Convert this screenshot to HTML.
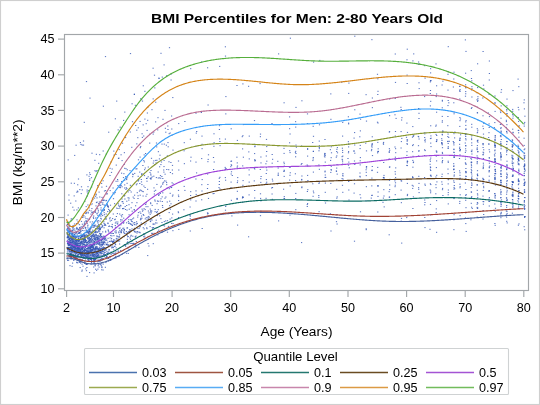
<!DOCTYPE html>
<html><head><meta charset="utf-8"><style>
html,body{margin:0;padding:0;background:#fff;}
svg{display:block;will-change:transform;}
text{font-family:"Liberation Sans",sans-serif;fill:#000;}
.tk{font-size:12.6px;}
.lt{font-size:12.6px;}
</style></head><body>
<svg width="540" height="405" viewBox="0 0 540 405">
<rect x="0.5" y="0.5" width="539" height="404" fill="#fff" stroke="#cfcfcf" stroke-width="1.15"/>
<text x="297" y="22.8" text-anchor="middle" font-weight="bold" font-size="13.5px" textLength="292" lengthAdjust="spacingAndGlyphs">BMI Percentiles for Men: 2-80 Years Old</text>
<path d="M67.5 243.9h1.2M67.9 245.8h1.2M67.7 242.2h1.2M66.9 249.0h1.2M67.0 243.3h1.2M67.9 241.8h1.2M66.6 258.1h1.2M67.8 244.7h1.2M67.8 247.5h1.2M67.3 237.1h1.2M67.0 230.9h1.2M67.0 237.5h1.2M67.0 235.8h1.2M67.3 237.8h1.2M67.3 248.0h1.2M67.4 244.9h1.2M68.1 231.1h1.2M67.8 223.2h1.2M67.5 250.8h1.2M68.0 260.2h1.2M66.9 228.7h1.2M66.8 237.6h1.2M67.5 231.3h1.2M66.7 237.8h1.2M66.7 224.7h1.2M67.4 248.4h1.2M67.3 243.0h1.2M67.9 236.6h1.2M67.5 249.5h1.2M67.4 234.5h1.2M67.3 247.8h1.2M67.0 234.2h1.2M66.6 230.6h1.2M66.9 243.3h1.2M67.6 159.9h1.2M66.9 232.6h1.2M67.1 260.5h1.2M66.6 233.8h1.2M67.8 223.6h1.2M66.8 236.8h1.2M67.0 224.6h1.2M67.9 255.6h1.2M67.3 227.1h1.2M67.8 228.8h1.2M67.5 237.5h1.2M67.7 243.7h1.2M66.7 234.1h1.2M67.4 248.4h1.2M67.3 236.1h1.2M67.9 235.8h1.2M67.1 240.1h1.2M67.5 248.0h1.2M66.7 259.0h1.2M67.2 230.3h1.2M67.1 249.4h1.2M66.8 254.9h1.2M67.8 248.5h1.2M67.2 240.8h1.2M68.0 239.4h1.2M67.5 228.3h1.2M67.5 229.8h1.2M67.5 215.1h1.2M67.6 243.1h1.2M66.8 252.0h1.2M67.2 221.9h1.2M67.0 248.7h1.2M67.2 237.4h1.2M66.7 247.4h1.2M68.0 231.9h1.2M66.9 249.8h1.2M69.0 244.8h1.2M68.5 249.9h1.2M69.3 231.7h1.2M69.0 239.2h1.2M68.3 238.2h1.2M69.3 247.6h1.2M69.5 251.7h1.2M69.4 231.9h1.2M68.9 234.6h1.2M68.3 234.9h1.2M68.3 195.0h1.2M69.4 251.7h1.2M68.9 239.4h1.2M68.3 247.8h1.2M69.4 242.7h1.2M69.0 243.8h1.2M68.9 240.8h1.2M68.6 226.8h1.2M68.7 232.9h1.2M68.4 244.6h1.2M68.1 232.0h1.2M69.3 231.7h1.2M68.8 234.1h1.2M68.9 241.2h1.2M68.5 228.4h1.2M69.2 243.1h1.2M68.1 253.7h1.2M68.6 248.3h1.2M68.1 237.2h1.2M68.2 245.4h1.2M69.5 245.0h1.2M69.0 245.3h1.2M68.7 250.9h1.2M68.8 254.4h1.2M69.3 256.2h1.2M68.6 237.1h1.2M68.9 247.2h1.2M69.1 243.9h1.2M68.6 225.6h1.2M68.8 238.8h1.2M69.2 233.4h1.2M69.4 235.1h1.2M68.3 223.7h1.2M69.4 255.5h1.2M68.1 245.1h1.2M69.2 225.3h1.2M69.3 243.9h1.2M68.3 224.1h1.2M68.7 251.1h1.2M69.3 255.7h1.2M68.1 228.0h1.2M69.0 245.0h1.2M69.2 242.7h1.2M68.8 225.9h1.2M69.1 250.1h1.2M68.4 200.1h1.2M68.4 248.8h1.2M68.6 249.4h1.2M68.3 241.8h1.2M68.6 243.4h1.2M69.5 230.3h1.2M68.9 256.0h1.2M68.6 256.6h1.2M68.5 252.2h1.2M69.5 239.9h1.2M68.7 233.8h1.2M69.5 243.7h1.2M68.8 239.2h1.2M68.8 238.3h1.2M69.4 265.7h1.2M70.6 219.0h1.2M70.4 226.5h1.2M70.2 243.8h1.2M70.8 250.8h1.2M70.1 258.4h1.2M70.9 248.2h1.2M69.6 244.7h1.2M70.2 244.9h1.2M70.3 242.2h1.2M70.9 244.6h1.2M69.9 257.8h1.2M70.7 249.5h1.2M70.5 220.7h1.2M70.6 237.0h1.2M70.5 244.3h1.2M71.0 238.1h1.2M70.0 247.5h1.2M70.1 246.7h1.2M69.8 242.9h1.2M69.6 228.9h1.2M69.8 247.6h1.2M70.9 255.2h1.2M70.8 257.5h1.2M69.7 230.8h1.2M70.4 248.2h1.2M70.2 253.9h1.2M70.4 240.9h1.2M70.5 233.5h1.2M70.0 240.5h1.2M70.9 253.1h1.2M70.2 245.9h1.2M70.5 249.4h1.2M70.5 259.2h1.2M69.8 253.2h1.2M69.6 230.5h1.2M70.1 203.2h1.2M70.7 249.7h1.2M70.7 251.8h1.2M70.6 243.1h1.2M69.7 240.8h1.2M70.9 232.0h1.2M70.7 183.2h1.2M70.8 247.7h1.2M70.3 241.2h1.2M70.9 253.9h1.2M69.6 242.7h1.2M69.6 255.4h1.2M69.6 253.9h1.2M69.9 253.7h1.2M69.9 248.2h1.2M69.8 248.0h1.2M70.4 237.7h1.2M69.6 255.2h1.2M70.4 254.2h1.2M69.8 238.7h1.2M70.5 238.8h1.2M69.6 236.9h1.2M70.0 236.9h1.2M70.9 239.3h1.2M70.3 242.1h1.2M70.7 236.9h1.2M70.5 255.2h1.2M70.4 251.0h1.2M69.8 236.2h1.2M70.4 251.6h1.2M69.6 242.3h1.2M70.7 249.6h1.2M70.9 245.7h1.2M70.8 234.1h1.2M69.6 238.4h1.2M71.5 245.6h1.2M71.5 249.6h1.2M71.2 235.3h1.2M71.9 240.1h1.2M72.2 246.1h1.2M71.5 233.0h1.2M72.3 239.3h1.2M72.2 207.2h1.2M71.2 231.1h1.2M72.1 243.2h1.2M72.3 238.9h1.2M71.3 234.2h1.2M71.8 255.3h1.2M71.9 245.2h1.2M71.9 241.6h1.2M71.1 256.2h1.2M72.0 236.3h1.2M71.9 238.5h1.2M72.2 228.0h1.2M72.2 247.7h1.2M71.5 245.1h1.2M72.1 230.4h1.2M72.3 246.8h1.2M72.3 235.2h1.2M71.2 246.1h1.2M71.0 247.9h1.2M71.9 249.8h1.2M71.3 251.3h1.2M71.8 246.1h1.2M72.4 253.2h1.2M71.6 234.9h1.2M71.4 218.9h1.2M71.7 256.5h1.2M72.0 263.1h1.2M71.1 255.7h1.2M71.6 239.3h1.2M71.2 248.8h1.2M72.0 252.0h1.2M72.2 250.6h1.2M71.5 239.0h1.2M71.5 266.3h1.2M71.8 242.6h1.2M71.3 250.6h1.2M71.4 251.4h1.2M71.5 239.9h1.2M71.7 240.8h1.2M71.1 248.4h1.2M72.1 248.5h1.2M71.8 245.4h1.2M71.4 230.2h1.2M71.1 243.0h1.2M72.1 234.9h1.2M71.2 240.1h1.2M71.2 242.4h1.2M71.2 244.4h1.2M71.1 239.0h1.2M72.3 245.0h1.2M71.4 237.8h1.2M71.4 252.3h1.2M72.2 248.8h1.2M71.9 233.1h1.2M71.3 246.7h1.2M71.6 234.5h1.2M72.3 227.8h1.2M71.5 242.1h1.2M72.0 254.9h1.2M71.1 236.8h1.2M72.1 240.0h1.2M72.1 249.5h1.2M72.2 233.8h1.2M73.4 245.7h1.2M73.0 256.9h1.2M72.6 256.3h1.2M73.2 251.5h1.2M73.6 242.3h1.2M72.7 236.0h1.2M72.9 255.3h1.2M73.2 260.5h1.2M73.6 247.4h1.2M73.8 246.7h1.2M72.6 235.8h1.2M72.7 229.8h1.2M73.6 195.9h1.2M73.4 259.4h1.2M73.5 242.9h1.2M73.9 224.0h1.2M73.8 256.2h1.2M73.7 245.0h1.2M73.6 247.7h1.2M73.0 247.2h1.2M73.4 250.5h1.2M72.7 250.2h1.2M73.6 251.4h1.2M73.6 255.3h1.2M73.5 243.8h1.2M73.1 246.4h1.2M73.0 239.2h1.2M73.1 241.2h1.2M72.5 225.6h1.2M73.7 249.0h1.2M73.3 233.1h1.2M73.0 247.7h1.2M73.3 240.7h1.2M73.5 236.7h1.2M73.0 247.5h1.2M73.7 246.6h1.2M73.8 241.8h1.2M73.0 254.9h1.2M72.7 244.0h1.2M73.6 255.6h1.2M73.9 251.9h1.2M72.7 241.5h1.2M73.5 210.1h1.2M73.7 244.8h1.2M73.8 246.7h1.2M72.6 247.7h1.2M72.6 237.4h1.2M73.9 239.7h1.2M72.6 243.2h1.2M72.7 241.6h1.2M73.3 242.9h1.2M73.1 240.2h1.2M73.6 228.9h1.2M72.7 226.9h1.2M73.8 183.3h1.2M72.8 255.1h1.2M73.6 246.4h1.2M72.6 236.9h1.2M73.2 249.9h1.2M72.5 241.9h1.2M72.9 256.9h1.2M72.9 252.2h1.2M73.5 247.6h1.2M73.1 256.4h1.2M72.5 246.6h1.2M73.9 251.7h1.2M73.8 234.6h1.2M73.8 249.5h1.2M72.8 247.7h1.2M73.0 236.6h1.2M74.3 243.9h1.2M74.1 257.6h1.2M74.0 252.1h1.2M74.7 242.7h1.2M74.1 252.7h1.2M74.2 251.3h1.2M75.2 242.5h1.2M74.6 245.8h1.2M74.2 250.8h1.2M74.9 244.2h1.2M74.3 241.9h1.2M74.7 258.6h1.2M74.3 250.8h1.2M74.7 250.1h1.2M74.8 233.7h1.2M74.7 257.8h1.2M74.5 249.1h1.2M75.1 253.1h1.2M75.2 240.6h1.2M74.2 236.8h1.2M74.1 257.3h1.2M74.1 234.6h1.2M75.4 240.6h1.2M75.3 252.6h1.2M74.3 230.2h1.2M75.3 250.7h1.2M74.2 237.5h1.2M74.7 256.8h1.2M74.7 246.7h1.2M75.3 245.8h1.2M74.0 232.4h1.2M74.4 236.1h1.2M74.8 244.5h1.2M74.0 257.5h1.2M74.3 247.2h1.2M74.6 248.5h1.2M75.2 201.0h1.2M75.0 248.0h1.2M75.1 249.0h1.2M75.0 238.4h1.2M75.0 256.0h1.2M75.2 236.9h1.2M74.9 241.1h1.2M75.0 247.3h1.2M74.4 239.9h1.2M74.2 247.9h1.2M75.0 254.6h1.2M74.2 247.4h1.2M75.3 258.0h1.2M74.8 256.3h1.2M74.4 247.0h1.2M75.3 236.7h1.2M74.2 252.6h1.2M74.7 245.7h1.2M74.1 155.4h1.2M75.3 231.9h1.2M74.8 241.0h1.2M75.1 243.4h1.2M74.3 243.4h1.2M75.1 243.1h1.2M75.0 246.6h1.2M74.9 249.0h1.2M75.3 251.9h1.2M74.6 257.1h1.2M74.5 248.7h1.2M74.9 238.3h1.2M75.2 244.4h1.2M74.4 253.8h1.2M74.9 236.9h1.2M74.2 258.3h1.2M76.2 227.4h1.2M76.5 242.1h1.2M75.5 244.4h1.2M76.5 248.2h1.2M75.4 236.7h1.2M76.8 260.2h1.2M76.1 245.6h1.2M76.0 250.8h1.2M76.4 248.5h1.2M76.2 245.2h1.2M76.5 258.9h1.2M75.5 145.2h1.2M76.2 256.2h1.2M76.2 239.6h1.2M76.8 245.4h1.2M75.5 240.9h1.2M76.1 239.6h1.2M76.3 209.9h1.2M76.2 192.2h1.2M75.5 253.1h1.2M76.3 249.1h1.2M75.7 249.1h1.2M75.7 232.5h1.2M76.7 245.6h1.2M75.7 257.5h1.2M76.1 240.2h1.2M76.5 246.3h1.2M76.4 237.2h1.2M76.2 258.7h1.2M76.6 234.8h1.2M76.1 232.6h1.2M76.3 262.7h1.2M76.6 255.6h1.2M76.4 245.4h1.2M76.3 256.6h1.2M76.0 233.1h1.2M76.2 253.8h1.2M76.0 241.5h1.2M76.5 242.0h1.2M75.9 250.2h1.2M76.1 252.9h1.2M76.5 229.6h1.2M76.1 259.1h1.2M75.9 251.7h1.2M76.6 250.2h1.2M76.0 243.8h1.2M76.6 249.3h1.2M76.5 255.9h1.2M76.0 244.2h1.2M76.4 240.1h1.2M75.4 240.4h1.2M76.0 246.4h1.2M76.7 250.7h1.2M76.2 262.2h1.2M76.2 242.7h1.2M76.4 247.6h1.2M76.4 219.9h1.2M76.2 253.2h1.2M76.0 237.2h1.2M75.7 240.0h1.2M75.8 232.1h1.2M75.8 228.6h1.2M76.0 252.2h1.2M76.9 228.4h1.2M75.9 248.3h1.2M76.0 241.2h1.2M75.9 223.5h1.2M76.2 243.6h1.2M76.8 244.0h1.2M76.7 257.6h1.2M77.4 243.8h1.2M77.2 252.4h1.2M78.2 249.2h1.2M77.6 249.3h1.2M77.9 179.0h1.2M77.0 240.1h1.2M78.1 254.6h1.2M77.3 250.9h1.2M77.6 233.5h1.2M77.1 255.8h1.2M77.5 221.7h1.2M78.1 248.3h1.2M78.1 249.1h1.2M77.6 246.1h1.2M78.0 247.9h1.2M77.5 247.2h1.2M77.4 248.2h1.2M77.7 240.9h1.2M77.2 251.5h1.2M77.3 254.5h1.2M77.9 248.1h1.2M78.0 257.2h1.2M76.9 247.6h1.2M77.9 246.7h1.2M78.1 238.3h1.2M77.5 256.2h1.2M76.9 248.7h1.2M77.9 238.5h1.2M77.2 250.1h1.2M77.8 236.5h1.2M77.4 240.4h1.2M77.8 259.6h1.2M77.2 249.1h1.2M77.6 238.9h1.2M77.6 245.8h1.2M77.8 241.7h1.2M77.2 191.8h1.2M78.3 245.3h1.2M77.3 236.2h1.2M77.3 248.0h1.2M77.2 262.8h1.2M77.0 243.7h1.2M77.5 223.7h1.2M78.0 243.5h1.2M77.9 251.5h1.2M77.1 184.8h1.2M77.1 252.7h1.2M77.3 245.0h1.2M78.0 250.2h1.2M77.6 256.1h1.2M78.2 240.6h1.2M77.8 241.2h1.2M77.8 207.9h1.2M78.0 229.5h1.2M78.0 237.9h1.2M77.4 252.1h1.2M77.2 246.9h1.2M77.5 242.8h1.2M77.6 250.7h1.2M77.1 256.1h1.2M77.5 236.5h1.2M77.8 254.7h1.2M77.1 246.6h1.2M77.1 247.8h1.2M77.1 231.2h1.2M77.3 244.8h1.2M78.3 248.4h1.2M76.9 191.1h1.2M77.1 240.1h1.2M77.1 252.6h1.2M79.0 239.3h1.2M78.3 239.5h1.2M79.0 236.7h1.2M78.6 247.0h1.2M78.7 253.3h1.2M79.5 242.9h1.2M78.6 229.1h1.2M79.2 251.2h1.2M78.9 262.3h1.2M78.9 224.7h1.2M79.5 262.1h1.2M78.6 256.8h1.2M79.7 231.1h1.2M79.6 249.5h1.2M79.3 241.2h1.2M78.4 240.8h1.2M79.3 248.3h1.2M79.2 240.0h1.2M79.5 247.7h1.2M78.6 245.5h1.2M79.7 251.3h1.2M79.6 267.6h1.2M78.5 252.1h1.2M78.8 251.9h1.2M78.4 233.2h1.2M79.5 250.0h1.2M79.7 256.9h1.2M79.8 243.0h1.2M79.2 245.6h1.2M79.3 259.1h1.2M79.3 250.3h1.2M79.2 243.5h1.2M79.7 252.0h1.2M79.2 189.6h1.2M78.8 246.6h1.2M79.1 227.7h1.2M78.4 260.3h1.2M79.4 253.4h1.2M79.3 227.6h1.2M78.9 246.4h1.2M79.6 254.9h1.2M79.4 244.7h1.2M78.8 240.1h1.2M78.4 243.7h1.2M78.5 259.6h1.2M78.6 260.3h1.2M78.8 248.8h1.2M79.0 261.2h1.2M79.7 242.6h1.2M78.7 248.1h1.2M79.6 257.7h1.2M79.3 233.0h1.2M79.6 249.9h1.2M78.9 232.5h1.2M78.3 243.5h1.2M79.5 243.2h1.2M78.7 248.4h1.2M78.5 241.8h1.2M79.5 252.8h1.2M79.3 252.5h1.2M78.6 233.4h1.2M78.7 253.8h1.2M79.7 249.5h1.2M78.7 239.7h1.2M79.4 250.7h1.2M78.5 249.8h1.2M79.5 228.6h1.2M78.5 253.7h1.2M79.1 252.8h1.2M78.4 232.4h1.2M80.6 252.2h1.2M81.0 250.9h1.2M79.9 232.0h1.2M80.2 251.1h1.2M80.9 186.8h1.2M80.7 235.5h1.2M80.2 253.5h1.2M80.7 253.8h1.2M80.5 239.3h1.2M81.1 236.1h1.2M80.2 253.5h1.2M80.9 254.2h1.2M80.7 253.1h1.2M80.9 256.1h1.2M80.3 248.7h1.2M80.9 246.7h1.2M80.8 243.0h1.2M80.4 259.5h1.2M79.8 254.4h1.2M81.2 256.8h1.2M80.8 252.4h1.2M80.1 254.6h1.2M80.9 221.4h1.2M80.2 249.8h1.2M80.5 256.0h1.2M81.0 241.8h1.2M80.4 144.4h1.2M80.2 242.4h1.2M80.2 249.7h1.2M79.9 249.1h1.2M80.1 251.5h1.2M80.2 237.2h1.2M80.0 237.4h1.2M79.9 247.0h1.2M80.5 234.0h1.2M80.1 242.3h1.2M80.9 241.2h1.2M81.1 252.5h1.2M80.2 253.0h1.2M80.6 253.5h1.2M80.5 226.9h1.2M79.9 237.5h1.2M80.0 230.1h1.2M81.1 236.3h1.2M80.5 237.2h1.2M81.0 248.4h1.2M79.9 238.9h1.2M80.7 255.3h1.2M81.1 242.1h1.2M81.1 260.7h1.2M79.8 142.6h1.2M80.6 255.3h1.2M80.3 238.7h1.2M80.9 236.3h1.2M79.9 260.3h1.2M80.2 244.8h1.2M81.0 248.8h1.2M80.5 243.3h1.2M80.5 231.2h1.2M81.2 240.0h1.2M80.3 253.9h1.2M79.8 245.2h1.2M80.4 245.0h1.2M80.0 263.1h1.2M79.9 250.1h1.2M80.6 254.9h1.2M81.2 253.3h1.2M80.6 241.5h1.2M80.7 193.6h1.2M80.3 242.5h1.2M82.1 238.5h1.2M82.4 241.3h1.2M82.1 241.9h1.2M82.4 266.2h1.2M82.1 255.7h1.2M81.5 255.0h1.2M82.1 246.5h1.2M82.0 244.1h1.2M81.5 238.9h1.2M82.2 252.0h1.2M82.5 216.8h1.2M81.5 242.9h1.2M82.1 235.0h1.2M82.3 247.4h1.2M81.8 259.1h1.2M81.6 270.1h1.2M81.8 248.6h1.2M82.0 248.3h1.2M82.3 251.2h1.2M82.1 255.2h1.2M81.4 247.5h1.2M82.5 253.0h1.2M82.6 228.5h1.2M81.4 255.0h1.2M81.6 145.1h1.2M81.5 249.7h1.2M82.5 237.9h1.2M82.6 244.2h1.2M81.3 247.7h1.2M81.7 236.5h1.2M81.5 235.8h1.2M81.9 254.5h1.2M82.6 226.1h1.2M81.4 261.7h1.2M81.5 264.2h1.2M82.0 251.8h1.2M82.0 248.7h1.2M82.3 247.3h1.2M81.9 247.6h1.2M81.5 226.9h1.2M81.8 224.2h1.2M82.7 250.7h1.2M82.4 252.1h1.2M81.4 242.1h1.2M82.4 254.6h1.2M81.7 249.3h1.2M82.4 239.9h1.2M81.3 271.2h1.2M82.5 239.4h1.2M81.5 249.6h1.2M81.9 253.1h1.2M82.2 245.5h1.2M82.0 251.9h1.2M81.5 236.2h1.2M81.5 244.0h1.2M81.7 251.6h1.2M81.3 236.8h1.2M81.6 243.5h1.2M81.4 256.4h1.2M81.9 248.9h1.2M81.8 247.1h1.2M82.1 217.5h1.2M81.7 251.2h1.2M81.3 248.1h1.2M81.7 189.9h1.2M82.4 235.6h1.2M81.6 257.6h1.2M81.8 249.4h1.2M82.4 255.0h1.2M81.8 230.4h1.2M84.0 244.9h1.2M84.1 254.2h1.2M83.2 258.1h1.2M83.8 248.7h1.2M83.1 257.9h1.2M82.9 247.1h1.2M83.4 239.2h1.2M83.6 251.6h1.2M84.1 255.8h1.2M82.9 250.3h1.2M83.8 255.8h1.2M83.4 234.2h1.2M82.9 257.9h1.2M84.1 238.5h1.2M83.7 251.0h1.2M82.9 239.4h1.2M84.0 237.3h1.2M82.9 256.6h1.2M82.9 238.4h1.2M83.2 215.5h1.2M84.1 244.4h1.2M82.8 242.1h1.2M84.1 251.3h1.2M83.6 255.5h1.2M82.8 238.9h1.2M83.6 235.2h1.2M83.4 254.5h1.2M83.5 257.3h1.2M83.8 250.5h1.2M83.7 242.5h1.2M84.2 250.2h1.2M82.9 141.0h1.2M83.9 222.0h1.2M83.3 243.5h1.2M83.9 238.1h1.2M84.0 212.7h1.2M84.2 262.2h1.2M83.1 244.3h1.2M83.4 255.1h1.2M84.1 236.1h1.2M84.1 253.7h1.2M83.3 238.9h1.2M84.1 251.0h1.2M83.3 241.8h1.2M83.3 240.9h1.2M83.8 223.9h1.2M83.4 230.7h1.2M83.4 248.3h1.2M83.3 240.6h1.2M83.4 255.2h1.2M82.9 257.8h1.2M82.8 239.9h1.2M83.8 224.4h1.2M83.5 238.6h1.2M83.7 246.1h1.2M83.9 242.3h1.2M83.1 239.3h1.2M83.1 244.5h1.2M83.1 250.2h1.2M83.2 234.0h1.2M83.8 250.1h1.2M83.3 225.9h1.2M83.2 236.4h1.2M83.7 236.4h1.2M83.0 234.9h1.2M82.9 145.1h1.2M83.7 246.6h1.2M83.8 249.9h1.2M83.2 239.2h1.2M83.7 122.3h1.2M84.2 263.4h1.2M84.8 247.5h1.2M85.0 235.9h1.2M84.6 227.3h1.2M84.7 249.9h1.2M85.1 245.9h1.2M85.0 246.0h1.2M84.4 258.2h1.2M85.2 268.9h1.2M84.3 246.5h1.2M85.6 230.0h1.2M84.5 255.4h1.2M84.6 232.7h1.2M84.5 252.7h1.2M85.6 245.0h1.2M84.6 239.5h1.2M85.1 256.6h1.2M85.6 212.2h1.2M85.6 206.6h1.2M84.2 201.5h1.2M84.9 241.5h1.2M85.1 240.5h1.2M85.2 227.8h1.2M84.7 254.8h1.2M84.7 257.2h1.2M84.2 235.3h1.2M84.2 252.9h1.2M85.0 260.0h1.2M84.3 258.4h1.2M84.5 241.6h1.2M84.7 245.3h1.2M84.3 238.2h1.2M84.2 235.4h1.2M85.5 264.4h1.2M84.8 228.2h1.2M84.5 217.0h1.2M85.2 236.7h1.2M84.2 249.7h1.2M84.5 253.3h1.2M85.6 220.9h1.2M85.5 248.6h1.2M85.1 246.8h1.2M84.3 239.9h1.2M84.7 240.1h1.2M84.2 240.1h1.2M84.5 242.4h1.2M84.2 246.3h1.2M84.4 237.3h1.2M85.1 249.3h1.2M84.3 252.9h1.2M84.4 223.2h1.2M85.5 232.6h1.2M84.7 239.1h1.2M84.7 255.8h1.2M84.3 261.2h1.2M85.4 218.6h1.2M85.2 213.6h1.2M85.0 252.6h1.2M85.1 242.0h1.2M84.3 263.1h1.2M84.6 239.6h1.2M85.0 250.3h1.2M85.6 234.6h1.2M85.4 221.0h1.2M85.1 256.8h1.2M84.9 240.0h1.2M84.2 249.9h1.2M85.5 255.7h1.2M84.3 250.6h1.2M84.4 247.1h1.2M86.7 223.3h1.2M86.8 235.9h1.2M86.8 264.1h1.2M86.3 174.9h1.2M85.9 242.4h1.2M85.7 250.4h1.2M86.9 232.2h1.2M87.1 243.9h1.2M86.0 243.0h1.2M86.9 253.3h1.2M86.2 235.7h1.2M86.1 254.4h1.2M86.4 257.0h1.2M85.7 242.9h1.2M86.3 232.7h1.2M85.9 252.1h1.2M86.7 251.8h1.2M86.4 256.6h1.2M86.9 242.2h1.2M87.0 235.5h1.2M86.1 257.3h1.2M86.1 245.0h1.2M87.0 244.6h1.2M86.4 258.0h1.2M85.8 245.3h1.2M85.7 252.7h1.2M87.1 254.9h1.2M86.5 190.0h1.2M85.7 250.7h1.2M86.4 241.9h1.2M86.4 248.9h1.2M86.3 267.5h1.2M87.0 253.6h1.2M87.0 248.6h1.2M85.8 221.5h1.2M85.9 81.6h1.2M86.2 248.8h1.2M86.9 237.0h1.2M86.6 231.6h1.2M86.7 255.0h1.2M86.5 196.1h1.2M86.0 240.6h1.2M86.8 253.6h1.2M85.7 254.4h1.2M86.7 257.0h1.2M85.9 213.0h1.2M86.3 257.2h1.2M87.1 218.9h1.2M86.4 256.0h1.2M85.7 251.1h1.2M86.3 254.5h1.2M86.6 191.9h1.2M85.7 230.3h1.2M86.0 251.9h1.2M85.7 209.9h1.2M86.4 237.0h1.2M86.2 252.9h1.2M86.4 245.9h1.2M86.1 256.1h1.2M86.6 248.8h1.2M85.9 270.7h1.2M87.0 242.6h1.2M87.1 252.6h1.2M86.4 276.4h1.2M86.3 257.4h1.2M86.9 251.0h1.2M86.1 264.5h1.2M86.8 248.9h1.2M86.1 245.1h1.2M86.7 251.2h1.2M87.6 253.2h1.2M88.0 233.9h1.2M88.5 252.3h1.2M87.2 250.9h1.2M88.3 246.0h1.2M87.9 252.5h1.2M87.7 237.1h1.2M87.6 259.3h1.2M87.2 251.1h1.2M87.5 248.3h1.2M88.0 253.0h1.2M87.3 231.4h1.2M88.1 250.1h1.2M88.5 248.1h1.2M88.6 246.6h1.2M88.4 230.9h1.2M88.3 254.3h1.2M87.4 231.9h1.2M88.5 207.8h1.2M87.4 252.8h1.2M88.4 256.0h1.2M88.4 233.4h1.2M88.0 251.3h1.2M87.9 254.0h1.2M87.4 259.6h1.2M87.9 241.4h1.2M87.5 212.2h1.2M87.3 225.1h1.2M87.3 242.6h1.2M88.3 247.6h1.2M88.5 176.3h1.2M87.3 205.0h1.2M87.1 238.9h1.2M87.5 238.4h1.2M87.3 238.3h1.2M87.4 257.4h1.2M88.0 253.1h1.2M87.7 260.4h1.2M87.7 213.0h1.2M87.4 186.7h1.2M88.1 256.4h1.2M87.5 257.5h1.2M87.7 247.5h1.2M87.8 249.1h1.2M88.4 255.1h1.2M87.5 258.9h1.2M88.2 240.0h1.2M87.6 233.9h1.2M88.4 260.6h1.2M87.7 251.5h1.2M87.9 251.7h1.2M88.4 244.0h1.2M88.1 241.7h1.2M87.3 248.6h1.2M87.3 227.9h1.2M88.6 248.9h1.2M87.2 251.7h1.2M87.6 235.3h1.2M88.5 230.1h1.2M87.1 226.0h1.2M87.4 255.9h1.2M87.4 255.0h1.2M87.2 247.1h1.2M87.8 190.7h1.2M88.0 241.0h1.2M87.6 251.0h1.2M87.3 193.3h1.2M88.3 243.4h1.2M88.3 238.8h1.2M87.9 232.5h1.2M88.8 231.6h1.2M89.4 248.9h1.2M89.5 252.4h1.2M89.2 178.9h1.2M89.8 252.1h1.2M89.2 257.1h1.2M89.3 231.7h1.2M88.7 229.4h1.2M89.4 242.5h1.2M89.7 248.9h1.2M89.7 238.6h1.2M89.0 172.8h1.2M90.0 232.1h1.2M89.6 222.0h1.2M89.2 234.7h1.2M89.2 245.9h1.2M89.7 255.6h1.2M88.8 237.6h1.2M89.5 229.7h1.2M89.6 174.5h1.2M89.3 257.9h1.2M89.9 239.5h1.2M89.3 230.2h1.2M89.3 259.9h1.2M89.0 240.9h1.2M89.9 252.5h1.2M89.0 180.4h1.2M89.6 259.5h1.2M89.2 233.1h1.2M90.0 251.5h1.2M90.0 247.7h1.2M88.6 257.3h1.2M90.0 250.5h1.2M89.5 257.2h1.2M88.7 252.9h1.2M89.3 242.2h1.2M88.7 251.7h1.2M89.4 238.4h1.2M88.9 219.3h1.2M89.1 242.3h1.2M89.0 272.6h1.2M89.5 255.0h1.2M89.8 250.1h1.2M90.0 244.1h1.2M89.1 240.6h1.2M89.4 250.3h1.2M88.6 247.4h1.2M89.1 240.3h1.2M90.0 246.5h1.2M88.8 252.1h1.2M89.9 248.0h1.2M89.5 248.9h1.2M89.0 251.9h1.2M89.7 241.0h1.2M89.0 245.0h1.2M89.9 248.0h1.2M88.7 237.2h1.2M88.8 231.6h1.2M89.7 239.0h1.2M89.2 250.3h1.2M88.8 210.3h1.2M89.3 258.3h1.2M89.0 231.8h1.2M89.4 247.8h1.2M89.7 248.5h1.2M89.8 228.6h1.2M88.7 239.4h1.2M89.4 98.1h1.2M90.0 257.9h1.2M89.3 245.3h1.2M91.2 232.3h1.2M90.2 259.5h1.2M91.3 242.8h1.2M90.9 177.7h1.2M91.3 257.8h1.2M91.2 251.6h1.2M91.3 249.8h1.2M90.1 251.9h1.2M91.1 247.0h1.2M90.3 228.7h1.2M90.4 244.3h1.2M90.5 241.1h1.2M90.9 258.1h1.2M91.0 260.6h1.2M91.4 201.0h1.2M90.1 250.0h1.2M90.3 204.7h1.2M90.6 250.2h1.2M91.2 238.5h1.2M90.9 237.7h1.2M90.8 259.1h1.2M91.2 260.2h1.2M91.0 246.7h1.2M90.5 257.5h1.2M90.2 251.6h1.2M90.7 254.9h1.2M91.3 250.8h1.2M90.9 246.3h1.2M90.1 251.1h1.2M90.7 250.2h1.2M90.6 245.4h1.2M90.9 236.8h1.2M90.9 262.5h1.2M91.4 153.2h1.2M90.5 210.9h1.2M90.6 264.0h1.2M90.9 258.5h1.2M91.3 212.4h1.2M91.1 247.6h1.2M90.7 227.4h1.2M91.2 236.0h1.2M90.8 259.2h1.2M91.5 249.2h1.2M90.5 250.4h1.2M90.2 246.6h1.2M91.3 233.2h1.2M90.5 259.5h1.2M91.3 208.6h1.2M90.9 245.6h1.2M90.8 249.2h1.2M90.2 236.6h1.2M91.2 252.0h1.2M90.1 236.0h1.2M91.5 247.4h1.2M91.3 245.4h1.2M90.5 255.2h1.2M90.2 254.7h1.2M91.3 224.0h1.2M90.7 241.6h1.2M90.2 247.6h1.2M90.8 232.2h1.2M90.4 214.1h1.2M90.6 256.3h1.2M91.0 187.0h1.2M91.4 239.5h1.2M91.2 252.4h1.2M90.3 252.9h1.2M90.7 245.1h1.2M90.8 240.3h1.2M91.5 246.7h1.2M91.6 234.8h1.2M92.3 199.6h1.2M92.9 255.8h1.2M92.1 253.2h1.2M91.9 239.4h1.2M92.3 247.3h1.2M92.0 250.6h1.2M92.9 243.8h1.2M91.6 235.6h1.2M91.8 212.8h1.2M91.6 203.9h1.2M92.6 227.2h1.2M91.9 249.6h1.2M92.8 217.3h1.2M92.8 234.0h1.2M92.9 255.5h1.2M91.9 198.2h1.2M91.5 252.9h1.2M92.1 235.9h1.2M92.9 234.7h1.2M92.6 211.7h1.2M91.6 237.0h1.2M92.5 181.4h1.2M92.9 263.0h1.2M92.9 254.7h1.2M92.6 240.6h1.2M92.8 246.7h1.2M92.7 259.5h1.2M92.0 254.6h1.2M91.7 240.9h1.2M92.6 247.5h1.2M91.7 232.1h1.2M92.1 245.5h1.2M93.0 218.4h1.2M92.3 231.9h1.2M92.3 244.5h1.2M92.9 248.9h1.2M91.9 254.2h1.2M93.0 251.1h1.2M92.8 249.0h1.2M92.0 249.0h1.2M92.0 255.5h1.2M91.7 245.4h1.2M92.9 258.0h1.2M91.8 221.9h1.2M91.5 242.3h1.2M92.8 258.7h1.2M92.4 250.1h1.2M92.5 252.5h1.2M92.6 256.3h1.2M91.6 245.2h1.2M91.6 255.3h1.2M92.2 256.5h1.2M91.6 235.4h1.2M92.3 246.7h1.2M92.6 236.0h1.2M92.5 245.2h1.2M92.4 244.0h1.2M91.6 250.8h1.2M91.9 246.9h1.2M92.8 244.7h1.2M91.7 249.8h1.2M92.3 227.0h1.2M91.6 253.0h1.2M92.9 253.8h1.2M91.8 249.7h1.2M92.1 230.2h1.2M92.3 225.4h1.2M92.6 241.1h1.2M92.9 248.8h1.2M94.1 236.0h1.2M93.5 225.5h1.2M93.1 252.9h1.2M94.0 235.1h1.2M94.4 232.6h1.2M93.0 247.8h1.2M94.1 256.6h1.2M93.2 238.6h1.2M93.7 254.0h1.2M93.7 248.3h1.2M93.9 241.3h1.2M94.4 170.7h1.2M94.0 259.9h1.2M93.6 241.8h1.2M94.0 198.1h1.2M93.7 261.9h1.2M93.6 236.7h1.2M93.5 272.9h1.2M93.7 257.6h1.2M93.4 236.0h1.2M93.3 248.7h1.2M93.2 236.4h1.2M93.6 252.2h1.2M93.4 259.9h1.2M94.2 255.1h1.2M94.2 251.5h1.2M93.5 255.8h1.2M93.9 254.5h1.2M94.3 241.1h1.2M93.5 245.9h1.2M93.8 225.2h1.2M93.6 243.8h1.2M93.9 241.6h1.2M94.4 232.6h1.2M93.2 223.3h1.2M94.4 239.0h1.2M94.0 263.0h1.2M94.1 244.9h1.2M93.9 263.6h1.2M94.3 238.1h1.2M93.5 260.5h1.2M94.0 241.5h1.2M93.4 256.4h1.2M93.7 222.2h1.2M94.0 258.7h1.2M93.3 236.1h1.2M93.1 234.1h1.2M94.1 251.5h1.2M94.2 238.7h1.2M94.0 249.6h1.2M93.4 252.2h1.2M93.9 252.1h1.2M93.1 267.0h1.2M93.9 260.1h1.2M93.8 254.5h1.2M93.9 259.2h1.2M93.6 227.1h1.2M93.3 242.4h1.2M94.0 244.6h1.2M93.7 239.5h1.2M94.1 226.2h1.2M93.5 237.6h1.2M93.1 243.3h1.2M93.8 250.2h1.2M93.9 242.7h1.2M94.3 160.3h1.2M94.3 244.2h1.2M93.1 216.0h1.2M94.1 261.1h1.2M93.4 260.6h1.2M95.5 226.2h1.2M95.0 196.3h1.2M94.9 261.2h1.2M95.2 263.9h1.2M95.2 238.8h1.2M95.5 256.6h1.2M95.4 239.6h1.2M95.4 234.1h1.2M95.0 269.2h1.2M95.4 252.0h1.2M94.9 240.2h1.2M95.3 248.2h1.2M95.1 248.7h1.2M95.3 246.4h1.2M94.5 265.2h1.2M95.2 251.6h1.2M94.8 248.3h1.2M95.0 255.7h1.2M94.6 249.2h1.2M95.4 232.3h1.2M95.8 154.3h1.2M95.0 218.0h1.2M94.6 237.3h1.2M95.4 258.2h1.2M94.6 265.9h1.2M95.7 252.6h1.2M94.6 258.0h1.2M95.0 234.9h1.2M95.2 232.1h1.2M94.6 212.3h1.2M94.9 243.0h1.2M94.8 249.9h1.2M95.5 249.5h1.2M95.9 253.8h1.2M95.0 236.0h1.2M95.6 194.9h1.2M94.6 259.2h1.2M95.3 247.0h1.2M95.1 248.4h1.2M94.9 259.5h1.2M95.6 237.6h1.2M95.5 171.6h1.2M94.6 231.5h1.2M94.9 210.6h1.2M95.6 251.2h1.2M95.9 202.6h1.2M95.3 229.8h1.2M95.7 234.8h1.2M95.9 254.2h1.2M95.5 251.0h1.2M95.4 258.1h1.2M94.8 211.9h1.2M95.0 225.1h1.2M95.4 259.0h1.2M95.8 240.9h1.2M94.9 253.7h1.2M95.0 228.7h1.2M94.5 239.5h1.2M95.5 194.1h1.2M95.1 231.1h1.2M95.6 258.1h1.2M94.8 247.7h1.2M95.4 238.8h1.2M95.4 205.9h1.2M95.1 247.7h1.2M94.7 254.7h1.2M95.0 250.9h1.2M95.5 252.1h1.2M94.7 256.1h1.2M94.6 248.9h1.2M96.6 251.8h1.2M96.3 241.8h1.2M97.1 208.8h1.2M97.1 185.6h1.2M97.3 255.4h1.2M97.1 237.9h1.2M96.9 232.3h1.2M96.2 255.9h1.2M97.1 240.1h1.2M97.0 253.7h1.2M97.0 247.2h1.2M96.9 248.8h1.2M97.1 221.8h1.2M96.3 252.5h1.2M96.9 239.7h1.2M96.7 237.4h1.2M96.4 248.7h1.2M96.4 197.9h1.2M96.1 248.8h1.2M96.6 248.8h1.2M96.4 231.7h1.2M96.5 242.6h1.2M97.2 229.2h1.2M96.9 255.7h1.2M96.9 255.9h1.2M97.3 228.3h1.2M96.2 246.6h1.2M96.7 217.7h1.2M96.0 252.6h1.2M96.5 252.2h1.2M97.3 215.4h1.2M96.0 247.7h1.2M97.0 257.5h1.2M97.2 252.8h1.2M96.7 226.5h1.2M97.1 251.0h1.2M96.6 239.1h1.2M96.4 221.0h1.2M96.6 236.0h1.2M96.2 228.5h1.2M96.4 170.5h1.2M96.4 213.9h1.2M97.4 238.8h1.2M96.4 253.8h1.2M96.2 256.7h1.2M97.3 248.5h1.2M96.1 256.5h1.2M97.3 225.6h1.2M97.2 238.6h1.2M96.9 261.8h1.2M96.5 213.2h1.2M96.2 237.1h1.2M96.1 244.6h1.2M96.1 256.4h1.2M96.4 243.4h1.2M96.5 202.1h1.2M97.3 237.0h1.2M96.7 243.7h1.2M97.4 235.6h1.2M97.0 239.1h1.2M96.1 235.7h1.2M96.7 253.8h1.2M96.1 256.1h1.2M96.0 270.3h1.2M97.3 269.1h1.2M96.4 237.6h1.2M96.2 242.4h1.2M96.1 208.5h1.2M96.9 253.2h1.2M96.6 257.4h1.2M97.4 255.3h1.2M98.4 241.2h1.2M97.7 249.8h1.2M98.5 242.8h1.2M98.1 230.4h1.2M98.2 248.4h1.2M98.0 231.7h1.2M98.4 264.4h1.2M98.8 202.0h1.2M98.5 192.1h1.2M97.5 237.6h1.2M98.1 163.3h1.2M97.7 249.5h1.2M97.5 243.7h1.2M97.7 241.0h1.2M97.7 220.6h1.2M98.8 243.0h1.2M98.5 261.0h1.2M98.6 229.1h1.2M98.4 252.4h1.2M97.8 210.3h1.2M97.9 253.0h1.2M98.0 249.5h1.2M97.8 256.2h1.2M98.0 249.2h1.2M98.5 235.1h1.2M97.5 250.8h1.2M97.8 261.0h1.2M98.1 236.3h1.2M98.4 227.3h1.2M98.3 257.3h1.2M98.4 244.1h1.2M97.5 259.8h1.2M97.6 265.7h1.2M97.8 249.9h1.2M97.8 212.0h1.2M98.5 267.1h1.2M98.8 226.9h1.2M98.4 244.5h1.2M97.4 241.6h1.2M97.8 251.5h1.2M98.5 251.0h1.2M98.7 260.5h1.2M98.2 203.5h1.2M97.9 263.8h1.2M97.9 228.4h1.2M98.3 242.9h1.2M98.6 240.2h1.2M97.9 249.6h1.2M97.7 255.2h1.2M97.4 223.0h1.2M97.6 256.8h1.2M98.6 249.3h1.2M98.3 226.3h1.2M98.8 249.1h1.2M97.5 187.1h1.2M97.9 254.5h1.2M98.5 239.4h1.2M98.3 238.9h1.2M97.5 241.6h1.2M98.0 224.6h1.2M98.3 261.3h1.2M98.4 238.4h1.2M99.5 221.1h1.2M99.1 260.5h1.2M100.3 237.0h1.2M99.5 242.9h1.2M99.9 244.2h1.2M99.6 238.0h1.2M99.0 233.3h1.2M99.2 228.3h1.2M98.9 205.1h1.2M99.1 231.2h1.2M99.1 154.7h1.2M99.4 250.0h1.2M99.3 255.4h1.2M99.4 259.2h1.2M100.0 249.9h1.2M98.9 256.7h1.2M99.0 229.7h1.2M100.0 228.3h1.2M99.6 233.5h1.2M99.5 245.3h1.2M99.2 242.1h1.2M99.6 250.4h1.2M99.2 197.0h1.2M100.1 264.6h1.2M100.0 235.5h1.2M99.3 253.9h1.2M98.9 215.0h1.2M100.1 240.8h1.2M99.3 245.9h1.2M99.8 259.6h1.2M100.1 249.3h1.2M100.0 234.5h1.2M100.1 249.3h1.2M99.6 261.1h1.2M100.1 235.1h1.2M99.5 248.6h1.2M99.2 215.8h1.2M99.5 228.7h1.2M99.3 227.1h1.2M100.0 205.3h1.2M100.1 218.3h1.2M99.0 247.7h1.2M99.1 236.5h1.2M99.4 250.5h1.2M99.5 252.9h1.2M100.2 252.5h1.2M100.2 256.7h1.2M100.3 251.0h1.2M99.9 251.8h1.2M99.8 229.6h1.2M99.2 250.9h1.2M99.4 261.0h1.2M98.8 244.0h1.2M100.1 252.8h1.2M99.2 229.1h1.2M99.0 252.2h1.2M99.3 237.1h1.2M100.8 253.6h1.2M101.4 240.0h1.2M100.3 209.9h1.2M100.6 248.1h1.2M101.6 237.3h1.2M101.6 241.8h1.2M101.2 258.8h1.2M101.1 269.8h1.2M100.6 246.5h1.2M101.6 226.9h1.2M101.4 243.0h1.2M101.1 213.9h1.2M100.5 252.9h1.2M100.6 240.4h1.2M100.9 236.5h1.2M100.8 219.0h1.2M100.4 263.7h1.2M100.9 240.6h1.2M101.0 233.8h1.2M100.7 255.2h1.2M100.9 236.8h1.2M100.8 227.3h1.2M100.9 224.7h1.2M101.2 251.3h1.2M101.0 242.0h1.2M100.6 248.4h1.2M101.5 244.1h1.2M101.1 245.3h1.2M101.0 183.4h1.2M101.3 267.6h1.2M101.4 262.4h1.2M101.5 258.2h1.2M101.5 252.0h1.2M101.3 248.5h1.2M101.4 210.4h1.2M100.5 214.4h1.2M101.3 187.1h1.2M100.7 244.4h1.2M100.7 265.7h1.2M100.5 202.4h1.2M100.9 256.7h1.2M100.3 216.1h1.2M101.3 266.8h1.2M101.4 239.5h1.2M101.4 197.4h1.2M100.5 207.9h1.2M101.2 260.5h1.2M101.5 239.2h1.2M100.4 250.9h1.2M100.6 242.3h1.2M100.7 259.2h1.2M102.4 244.7h1.2M102.0 242.8h1.2M102.6 264.1h1.2M102.3 200.6h1.2M102.7 258.9h1.2M102.5 180.8h1.2M102.8 238.7h1.2M102.1 251.6h1.2M102.8 106.2h1.2M102.8 241.1h1.2M102.8 243.8h1.2M101.9 204.2h1.2M103.2 254.9h1.2M102.6 251.4h1.2M102.2 248.3h1.2M102.4 258.9h1.2M102.5 211.0h1.2M102.5 238.9h1.2M102.1 231.9h1.2M102.2 202.8h1.2M102.3 238.8h1.2M102.9 248.3h1.2M102.4 236.4h1.2M101.8 238.9h1.2M102.4 247.5h1.2M102.1 250.7h1.2M101.8 245.2h1.2M103.2 221.8h1.2M102.2 253.6h1.2M102.6 151.0h1.2M102.3 248.7h1.2M101.8 255.7h1.2M103.1 242.9h1.2M103.1 243.8h1.2M102.0 226.7h1.2M102.4 200.1h1.2M102.3 249.8h1.2M102.0 215.6h1.2M102.7 246.9h1.2M102.9 242.4h1.2M102.9 255.1h1.2M102.8 200.2h1.2M101.8 244.5h1.2M102.1 225.4h1.2M102.5 270.0h1.2M104.3 250.0h1.2M103.8 239.8h1.2M103.9 225.3h1.2M104.5 252.5h1.2M103.3 236.0h1.2M103.6 210.3h1.2M103.7 253.1h1.2M104.7 238.4h1.2M103.6 252.2h1.2M103.3 254.2h1.2M103.8 238.0h1.2M104.2 239.3h1.2M103.5 227.8h1.2M104.5 205.5h1.2M103.5 223.4h1.2M104.3 244.8h1.2M103.5 238.4h1.2M104.5 224.6h1.2M103.5 210.1h1.2M104.3 224.2h1.2M104.5 236.9h1.2M103.6 254.5h1.2M103.4 204.8h1.2M104.1 247.5h1.2M104.0 241.8h1.2M103.9 200.2h1.2M104.4 250.8h1.2M103.9 191.0h1.2M104.0 250.0h1.2M103.9 256.8h1.2M103.9 236.5h1.2M103.8 214.7h1.2M103.5 242.2h1.2M103.7 209.4h1.2M103.6 242.4h1.2M103.6 212.7h1.2M104.4 255.2h1.2M103.4 247.7h1.2M105.0 254.5h1.2M105.5 218.8h1.2M105.2 238.0h1.2M105.1 225.4h1.2M105.2 248.9h1.2M105.4 219.2h1.2M105.7 154.0h1.2M106.1 244.6h1.2M105.9 200.4h1.2M105.3 205.5h1.2M105.4 200.8h1.2M105.3 249.4h1.2M105.1 232.1h1.2M106.1 256.0h1.2M104.8 240.1h1.2M105.0 231.2h1.2M105.7 247.8h1.2M105.6 240.0h1.2M105.1 242.9h1.2M106.1 256.1h1.2M105.3 257.5h1.2M105.6 214.0h1.2M104.8 267.3h1.2M106.0 193.9h1.2M104.9 56.6h1.2M105.3 262.6h1.2M106.0 244.7h1.2M106.1 251.2h1.2M106.0 257.8h1.2M105.9 186.3h1.2M105.0 190.6h1.2M104.7 216.8h1.2M106.8 247.4h1.2M106.3 203.9h1.2M107.6 206.4h1.2M106.2 244.3h1.2M106.6 253.5h1.2M106.5 253.2h1.2M106.2 240.2h1.2M106.9 205.7h1.2M106.3 256.6h1.2M107.5 238.3h1.2M107.2 242.2h1.2M106.7 193.8h1.2M107.4 252.0h1.2M107.3 223.0h1.2M106.6 244.1h1.2M107.4 223.6h1.2M107.5 206.1h1.2M107.1 206.4h1.2M106.7 204.4h1.2M107.5 245.1h1.2M107.5 245.9h1.2M106.7 253.8h1.2M106.3 247.6h1.2M107.4 253.6h1.2M107.1 211.6h1.2M106.5 258.7h1.2M108.5 249.5h1.2M108.1 209.5h1.2M109.0 211.1h1.2M108.1 132.2h1.2M107.9 258.5h1.2M107.7 207.7h1.2M108.1 245.0h1.2M109.1 210.4h1.2M108.0 261.0h1.2M108.3 226.5h1.2M109.1 218.8h1.2M107.6 229.9h1.2M108.1 231.9h1.2M108.8 226.0h1.2M107.8 252.9h1.2M109.0 256.4h1.2M108.9 241.4h1.2M107.8 230.8h1.2M108.5 246.7h1.2M108.4 250.2h1.2M110.1 235.6h1.2M109.5 237.9h1.2M109.7 245.0h1.2M109.4 175.5h1.2M109.5 168.3h1.2M109.4 257.7h1.2M110.4 233.6h1.2M110.4 246.1h1.2M109.6 241.6h1.2M110.1 260.5h1.2M109.8 259.6h1.2M109.5 252.3h1.2M109.6 221.0h1.2M110.5 254.6h1.2M109.6 190.6h1.2M109.9 205.2h1.2M110.5 244.5h1.2M109.5 217.7h1.2M110.3 162.0h1.2M110.7 252.1h1.2M111.6 226.4h1.2M111.7 233.3h1.2M111.8 241.5h1.2M112.0 242.5h1.2M111.6 253.5h1.2M112.0 218.6h1.2M111.0 247.8h1.2M111.3 235.9h1.2M110.9 172.4h1.2M110.7 240.2h1.2M111.2 241.5h1.2M111.6 169.0h1.2M111.7 224.4h1.2M110.6 226.5h1.2M111.9 246.0h1.2M110.9 220.3h1.2M111.0 238.4h1.2M111.8 227.7h1.2M113.3 235.7h1.2M113.1 253.1h1.2M112.5 188.0h1.2M112.7 214.0h1.2M113.2 151.1h1.2M112.6 241.1h1.2M113.2 242.0h1.2M113.2 249.8h1.2M112.7 241.1h1.2M113.3 239.6h1.2M112.6 247.6h1.2M113.1 243.0h1.2M113.0 241.5h1.2M112.5 192.9h1.2M112.8 233.5h1.2M112.9 198.7h1.2M112.8 255.6h1.2M112.2 247.6h1.2M113.5 155.1h1.2M114.9 254.6h1.2M113.5 253.8h1.2M114.9 227.3h1.2M114.3 240.8h1.2M113.7 246.4h1.2M114.7 219.2h1.2M114.1 219.7h1.2M114.5 246.2h1.2M114.7 225.5h1.2M114.3 231.9h1.2M113.6 193.9h1.2M114.7 253.3h1.2M114.5 243.8h1.2M114.8 223.0h1.2M113.9 257.8h1.2M114.6 192.6h1.2M114.8 118.8h1.2M114.0 203.7h1.2M114.1 243.2h1.2M115.4 154.5h1.2M115.0 244.6h1.2M115.3 258.0h1.2M115.4 230.7h1.2M115.1 256.4h1.2M116.1 101.1h1.2M115.6 222.0h1.2M115.8 216.5h1.2M115.4 233.0h1.2M115.5 181.3h1.2M116.1 208.1h1.2M115.6 232.1h1.2M115.8 240.0h1.2M115.6 247.9h1.2M115.8 238.4h1.2M116.3 235.9h1.2M115.3 252.0h1.2M115.7 165.1h1.2M117.4 240.4h1.2M116.6 223.7h1.2M117.8 251.8h1.2M117.2 222.0h1.2M116.8 213.6h1.2M117.5 250.9h1.2M117.6 129.9h1.2M117.3 240.1h1.2M117.8 203.9h1.2M116.6 236.6h1.2M117.2 181.1h1.2M117.5 241.4h1.2M117.8 237.0h1.2M117.4 208.5h1.2M117.3 185.6h1.2M117.0 179.5h1.2M117.3 238.8h1.2M117.2 224.0h1.2M119.2 230.3h1.2M119.1 208.1h1.2M119.0 241.0h1.2M119.2 187.5h1.2M118.0 205.8h1.2M119.0 244.0h1.2M118.6 236.4h1.2M119.0 234.8h1.2M118.3 158.1h1.2M118.6 228.3h1.2M119.1 214.0h1.2M117.9 158.4h1.2M118.3 231.9h1.2M118.6 149.6h1.2M119.1 237.2h1.2M118.3 256.6h1.2M119.1 206.6h1.2M118.2 232.8h1.2M119.8 187.7h1.2M120.2 221.1h1.2M120.3 205.8h1.2M120.6 232.6h1.2M120.6 215.3h1.2M119.7 205.3h1.2M120.4 231.3h1.2M120.3 224.8h1.2M119.9 186.0h1.2M120.5 154.8h1.2M120.7 232.7h1.2M120.1 250.5h1.2M120.7 185.3h1.2M119.5 228.0h1.2M119.6 127.2h1.2M120.5 231.8h1.2M119.8 185.1h1.2M120.2 219.6h1.2M121.5 201.7h1.2M121.0 173.2h1.2M121.9 214.7h1.2M121.9 143.2h1.2M121.0 229.6h1.2M121.2 230.6h1.2M122.0 208.6h1.2M122.2 228.3h1.2M122.1 201.6h1.2M121.6 220.0h1.2M121.4 199.0h1.2M121.5 186.8h1.2M121.1 216.8h1.2M121.5 160.6h1.2M121.2 193.8h1.2M121.1 181.5h1.2M121.4 254.5h1.2M122.4 208.7h1.2M123.0 231.9h1.2M123.3 173.7h1.2M123.2 228.2h1.2M123.7 196.0h1.2M123.6 236.7h1.2M123.2 208.4h1.2M123.6 164.5h1.2M122.9 177.6h1.2M123.5 229.6h1.2M122.7 223.2h1.2M123.1 218.2h1.2M123.7 230.7h1.2M123.2 222.7h1.2M123.0 120.4h1.2M123.4 232.7h1.2M122.7 203.3h1.2M125.0 137.6h1.2M123.8 229.6h1.2M124.1 180.2h1.2M124.0 188.0h1.2M124.1 168.3h1.2M125.1 246.1h1.2M123.8 152.7h1.2M124.2 112.1h1.2M124.6 206.6h1.2M124.8 245.8h1.2M124.9 209.5h1.2M124.3 199.0h1.2M124.1 195.4h1.2M125.0 176.7h1.2M123.9 233.6h1.2M123.8 244.5h1.2M124.1 184.9h1.2M125.9 253.3h1.2M126.6 235.2h1.2M126.3 188.6h1.2M126.0 222.8h1.2M126.0 179.6h1.2M126.2 201.2h1.2M126.1 178.7h1.2M125.7 187.7h1.2M125.4 168.7h1.2M125.5 233.5h1.2M126.4 228.0h1.2M126.1 205.5h1.2M126.4 210.1h1.2M125.3 189.4h1.2M126.5 183.3h1.2M125.8 231.6h1.2M126.6 242.5h1.2M127.6 191.9h1.2M127.5 197.8h1.2M127.9 231.8h1.2M127.6 247.3h1.2M127.7 253.4h1.2M126.9 232.7h1.2M127.6 236.5h1.2M127.2 248.1h1.2M126.8 239.3h1.2M126.9 227.9h1.2M127.4 244.1h1.2M127.1 236.8h1.2M127.8 221.6h1.2M126.9 177.0h1.2M126.7 169.8h1.2M128.1 223.4h1.2M127.1 241.9h1.2M128.9 231.6h1.2M128.5 198.1h1.2M128.5 223.0h1.2M128.7 209.2h1.2M129.3 190.4h1.2M128.2 200.1h1.2M129.4 170.6h1.2M129.6 243.4h1.2M129.0 229.8h1.2M128.7 249.7h1.2M128.5 214.8h1.2M128.4 204.7h1.2M128.6 232.8h1.2M129.4 246.4h1.2M128.2 219.7h1.2M129.3 237.9h1.2M130.6 235.3h1.2M129.6 223.8h1.2M129.7 132.0h1.2M130.7 224.4h1.2M130.6 192.0h1.2M130.1 224.0h1.2M130.9 221.2h1.2M129.9 239.3h1.2M130.2 236.2h1.2M129.8 185.3h1.2M130.6 219.9h1.2M129.7 230.0h1.2M129.9 53.6h1.2M130.7 230.6h1.2M130.3 219.7h1.2M130.6 207.8h1.2M132.2 236.2h1.2M132.0 218.9h1.2M131.4 228.9h1.2M132.1 176.7h1.2M131.2 241.6h1.2M131.5 103.8h1.2M131.7 225.5h1.2M131.2 243.5h1.2M131.2 147.3h1.2M132.0 174.1h1.2M132.2 243.7h1.2M131.6 211.2h1.2M131.6 221.6h1.2M131.4 202.7h1.2M131.8 225.1h1.2M131.9 121.7h1.2M133.9 231.6h1.2M132.6 174.6h1.2M133.9 228.3h1.2M134.0 195.2h1.2M133.0 218.0h1.2M133.6 209.6h1.2M133.8 210.0h1.2M133.5 198.4h1.2M133.0 243.3h1.2M133.5 243.8h1.2M133.8 94.5h1.2M132.7 223.0h1.2M133.2 230.6h1.2M132.6 197.1h1.2M133.8 94.1h1.2M133.7 224.7h1.2M134.1 222.5h1.2M135.1 247.0h1.2M135.0 244.2h1.2M134.2 224.2h1.2M134.8 105.3h1.2M135.0 205.8h1.2M134.5 232.0h1.2M134.7 245.8h1.2M135.4 168.9h1.2M134.9 237.2h1.2M134.7 236.7h1.2M134.1 173.4h1.2M134.2 229.7h1.2M135.3 232.0h1.2M135.1 125.5h1.2M136.7 231.5h1.2M136.3 168.8h1.2M136.3 223.8h1.2M136.3 202.7h1.2M136.6 223.4h1.2M136.0 221.8h1.2M136.2 130.2h1.2M136.2 143.9h1.2M136.4 233.0h1.2M135.8 184.8h1.2M135.5 236.0h1.2M135.6 224.9h1.2M135.7 241.5h1.2M136.7 192.7h1.2M136.5 183.8h1.2M138.0 180.0h1.2M137.6 176.3h1.2M137.1 217.1h1.2M137.6 232.1h1.2M138.2 247.4h1.2M137.7 127.8h1.2M137.9 212.6h1.2M137.5 195.8h1.2M137.2 137.7h1.2M137.9 159.8h1.2M137.6 181.1h1.2M137.4 198.5h1.2M137.3 228.4h1.2M138.0 179.8h1.2M137.4 215.2h1.2M139.2 183.5h1.2M138.8 228.1h1.2M139.5 121.4h1.2M139.0 232.2h1.2M139.1 172.1h1.2M139.8 147.7h1.2M139.5 232.8h1.2M139.5 157.1h1.2M138.9 191.1h1.2M139.6 195.2h1.2M139.0 225.8h1.2M139.9 219.8h1.2M139.7 226.7h1.2M139.4 211.9h1.2M139.6 190.0h1.2M140.7 179.5h1.2M140.9 181.9h1.2M140.1 218.3h1.2M141.3 218.2h1.2M141.0 174.4h1.2M140.1 98.8h1.2M140.2 213.3h1.2M140.7 223.0h1.2M141.0 99.6h1.2M140.1 146.6h1.2M141.3 173.6h1.2M140.4 219.2h1.2M141.3 184.6h1.2M141.0 216.0h1.2M140.6 190.4h1.2M141.9 211.2h1.2M141.5 133.8h1.2M141.5 209.1h1.2M142.3 165.5h1.2M142.5 196.0h1.2M142.7 214.5h1.2M141.9 101.1h1.2M142.7 227.7h1.2M141.8 137.4h1.2M142.7 85.8h1.2M142.7 191.7h1.2M141.6 191.3h1.2M142.6 124.9h1.2M142.4 210.2h1.2M143.8 161.9h1.2M144.0 169.7h1.2M143.6 154.9h1.2M143.5 208.7h1.2M143.3 186.1h1.2M144.1 234.8h1.2M144.1 236.9h1.2M143.0 234.1h1.2M143.9 175.6h1.2M143.2 215.4h1.2M143.1 136.0h1.2M143.1 236.7h1.2M143.6 228.9h1.2M143.2 160.6h1.2M144.6 209.6h1.2M144.4 224.8h1.2M144.7 168.0h1.2M145.4 223.1h1.2M144.3 91.3h1.2M145.0 153.5h1.2M145.1 204.5h1.2M144.3 119.1h1.2M144.7 218.9h1.2M145.6 123.7h1.2M145.7 217.7h1.2M145.5 206.7h1.2M144.5 187.5h1.2M145.4 196.2h1.2M146.4 181.2h1.2M146.0 178.5h1.2M146.4 219.9h1.2M147.1 255.6h1.2M147.0 189.3h1.2M146.3 194.3h1.2M145.8 202.8h1.2M147.1 120.3h1.2M147.2 217.2h1.2M146.5 130.4h1.2M146.1 227.8h1.2M146.5 178.2h1.2M146.8 113.0h1.2M146.4 228.7h1.2M147.7 167.0h1.2M147.6 218.8h1.2M147.6 236.4h1.2M147.3 206.7h1.2M147.6 176.8h1.2M148.6 217.3h1.2M147.2 107.3h1.2M148.3 246.0h1.2M148.4 212.9h1.2M147.8 211.0h1.2M148.1 216.4h1.2M147.5 243.6h1.2M148.2 219.3h1.2M149.7 178.3h1.2M149.7 209.1h1.2M149.4 172.4h1.2M150.1 203.7h1.2M149.9 211.9h1.2M149.5 226.6h1.2M149.7 221.0h1.2M149.1 134.2h1.2M150.0 202.8h1.2M149.6 214.3h1.2M150.0 221.6h1.2M149.1 143.1h1.2M150.1 174.0h1.2M150.3 175.1h1.2M150.9 158.3h1.2M150.3 219.6h1.2M150.4 170.5h1.2M151.2 233.3h1.2M150.2 178.8h1.2M150.7 212.9h1.2M150.4 179.0h1.2M151.4 220.1h1.2M150.2 210.7h1.2M150.6 177.8h1.2M151.4 109.7h1.2M151.1 211.1h1.2M152.6 224.1h1.2M153.0 227.5h1.2M151.6 176.9h1.2M152.6 134.1h1.2M152.7 243.7h1.2M152.7 224.1h1.2M152.6 98.9h1.2M151.7 227.6h1.2M151.7 233.4h1.2M152.7 163.1h1.2M152.5 68.2h1.2M152.0 228.9h1.2M151.6 205.4h1.2M153.8 194.0h1.2M153.2 132.1h1.2M154.2 164.6h1.2M153.6 233.3h1.2M154.2 200.0h1.2M153.2 160.9h1.2M153.8 191.2h1.2M153.2 176.2h1.2M154.2 87.9h1.2M153.9 75.2h1.2M153.4 187.9h1.2M154.5 211.7h1.2M154.1 224.1h1.2M155.0 222.9h1.2M155.8 177.6h1.2M155.1 160.4h1.2M155.9 143.0h1.2M155.0 121.9h1.2M156.0 212.4h1.2M154.6 209.4h1.2M155.6 220.2h1.2M155.0 190.3h1.2M155.1 102.2h1.2M155.5 162.9h1.2M154.6 201.1h1.2M156.3 223.0h1.2M156.1 146.9h1.2M157.1 129.9h1.2M156.3 160.3h1.2M156.7 211.6h1.2M156.5 203.7h1.2M156.3 184.4h1.2M157.4 117.7h1.2M156.7 215.6h1.2M156.9 201.0h1.2M157.0 231.7h1.2M157.2 234.9h1.2M157.8 151.7h1.2M157.6 172.0h1.2M158.1 195.5h1.2M157.7 201.3h1.2M157.5 213.4h1.2M158.8 158.9h1.2M158.4 194.5h1.2M158.1 230.2h1.2M157.7 178.0h1.2M158.6 78.3h1.2M158.2 78.2h1.2M157.7 209.7h1.2M160.4 53.3h1.2M160.3 218.7h1.2M160.3 164.6h1.2M160.1 178.2h1.2M159.7 201.1h1.2M159.4 155.2h1.2M159.9 175.6h1.2M159.1 215.8h1.2M159.8 193.4h1.2M159.0 166.8h1.2M158.9 177.9h1.2M160.0 187.1h1.2M160.9 162.0h1.2M161.4 222.5h1.2M161.5 231.2h1.2M161.6 232.1h1.2M161.3 176.5h1.2M161.6 196.9h1.2M161.4 144.1h1.2M161.7 77.1h1.2M161.7 201.5h1.2M160.4 198.8h1.2M160.8 186.1h1.2M162.4 119.3h1.2M162.2 178.5h1.2M162.1 207.4h1.2M163.1 170.0h1.2M161.9 205.5h1.2M162.1 184.2h1.2M163.0 225.0h1.2M162.2 183.0h1.2M162.2 192.8h1.2M163.3 172.1h1.2M163.0 182.2h1.2M164.0 180.9h1.2M163.5 160.4h1.2M163.7 221.6h1.2M164.8 157.8h1.2M164.5 174.2h1.2M163.4 166.6h1.2M164.4 198.2h1.2M163.9 226.0h1.2M164.4 110.4h1.2M163.7 144.1h1.2M163.5 64.9h1.2M164.8 128.3h1.2M165.2 132.2h1.2M166.0 182.6h1.2M166.1 122.6h1.2M165.8 145.2h1.2M165.9 223.4h1.2M165.1 220.9h1.2M165.3 197.0h1.2M166.1 184.7h1.2M166.2 169.5h1.2M165.4 181.1h1.2M167.4 129.5h1.2M167.6 146.8h1.2M167.7 222.6h1.2M166.7 202.0h1.2M167.2 126.0h1.2M166.8 155.9h1.2M166.9 232.2h1.2M166.9 220.7h1.2M166.7 188.1h1.2M166.3 75.5h1.2M167.4 142.6h1.2M168.7 188.7h1.2M168.9 47.7h1.2M167.9 226.4h1.2M168.1 169.7h1.2M168.6 133.7h1.2M169.1 205.7h1.2M168.4 161.8h1.2M168.0 208.4h1.2M168.6 212.6h1.2M169.1 201.2h1.2M170.4 203.8h1.2M170.5 80.0h1.2M169.8 209.2h1.2M169.6 193.3h1.2M170.5 187.6h1.2M170.3 162.5h1.2M170.4 74.2h1.2M169.8 172.5h1.2M169.6 133.0h1.2M169.5 219.1h1.2M171.9 165.4h1.2M172.0 214.1h1.2M171.2 129.0h1.2M171.9 173.7h1.2M171.2 217.9h1.2M171.3 135.4h1.2M171.5 182.8h1.2M171.0 187.4h1.2M171.0 223.4h1.2M171.0 116.0h1.2M172.6 183.9h1.2M172.5 223.6h1.2M171.9 196.1h1.2M171.8 170.0h1.2M172.3 230.7h1.2M172.4 150.1h1.2M172.3 195.0h1.2M172.2 97.6h1.2M178.1 196.6h1.2M178.0 217.5h1.2M177.9 195.1h1.2M178.2 170.0h1.2M177.9 212.7h1.2M177.9 190.4h1.2M178.1 123.6h1.2M178.0 200.5h1.2M177.5 224.5h1.2M177.7 211.8h1.2M177.9 161.0h1.2M178.2 229.4h1.2M183.3 209.8h1.2M184.3 121.5h1.2M183.7 142.7h1.2M183.8 163.7h1.2M184.3 190.4h1.2M184.1 177.5h1.2M183.5 150.8h1.2M183.6 186.4h1.2M190.4 157.2h1.2M189.6 220.8h1.2M190.0 161.0h1.2M190.1 199.9h1.2M189.6 218.7h1.2M190.1 68.7h1.2M190.0 195.5h1.2M189.7 216.2h1.2M189.8 139.2h1.2M189.4 215.3h1.2M189.5 207.0h1.2M189.7 231.0h1.2M190.1 191.7h1.2M196.1 131.5h1.2M195.3 146.3h1.2M196.0 172.9h1.2M195.4 201.0h1.2M195.6 194.4h1.2M195.3 179.0h1.2M195.4 113.2h1.2M195.4 190.9h1.2M196.0 219.0h1.2M195.4 162.1h1.2M195.7 133.1h1.2M201.2 184.7h1.2M201.1 158.6h1.2M201.4 136.1h1.2M201.6 228.5h1.2M201.0 62.0h1.2M201.4 191.0h1.2M201.2 217.8h1.2M201.5 144.3h1.2M200.8 112.5h1.2M201.1 199.8h1.2M201.6 179.6h1.2M201.5 148.7h1.2M207.9 198.4h1.2M207.0 67.8h1.2M207.0 213.9h1.2M207.5 213.3h1.2M206.9 188.5h1.2M206.8 193.4h1.2M207.0 174.0h1.2M207.3 161.7h1.2M206.9 212.9h1.2M207.3 184.5h1.2M207.5 105.0h1.2M207.5 216.2h1.2M207.9 154.8h1.2M207.6 159.4h1.2M213.5 142.7h1.2M213.3 146.3h1.2M212.9 157.5h1.2M212.5 193.7h1.2M213.6 162.0h1.2M213.4 133.8h1.2M213.4 193.5h1.2M213.0 169.5h1.2M218.7 184.5h1.2M219.3 177.3h1.2M219.5 145.7h1.2M218.9 125.7h1.2M219.3 188.9h1.2M218.7 178.3h1.2M218.4 187.6h1.2M219.3 141.5h1.2M219.1 66.4h1.2M218.8 129.5h1.2M219.0 138.9h1.2M218.8 181.5h1.2M225.3 96.6h1.2M224.8 177.6h1.2M224.8 46.8h1.2M225.4 168.5h1.2M225.2 113.9h1.2M225.1 169.3h1.2M224.6 169.3h1.2M224.6 167.4h1.2M224.9 210.2h1.2M225.1 206.5h1.2M225.0 180.2h1.2M224.9 56.1h1.2M224.8 139.1h1.2M230.9 171.8h1.2M230.6 188.2h1.2M231.7 175.5h1.2M230.2 166.7h1.2M230.6 128.8h1.2M230.4 187.9h1.2M230.6 174.0h1.2M230.5 182.1h1.2M231.0 165.3h1.2M230.6 164.8h1.2M231.3 215.9h1.2M230.9 161.1h1.2M230.4 161.3h1.2M230.8 200.3h1.2M236.8 191.3h1.2M236.6 198.9h1.2M236.3 157.2h1.2M236.9 166.0h1.2M236.8 140.4h1.2M237.0 225.1h1.2M236.6 167.2h1.2M236.5 199.3h1.2M237.0 180.9h1.2M236.4 85.5h1.2M237.1 177.6h1.2M236.8 182.6h1.2M236.5 198.4h1.2M236.7 162.9h1.2M242.8 197.3h1.2M242.3 83.9h1.2M242.1 196.7h1.2M242.5 180.6h1.2M242.0 197.5h1.2M242.6 211.9h1.2M242.2 202.3h1.2M242.8 157.2h1.2M242.0 148.9h1.2M242.1 165.9h1.2M242.3 185.3h1.2M241.7 136.7h1.2M242.8 124.6h1.2M241.9 198.0h1.2M242.7 211.9h1.2M242.3 135.7h1.2M248.7 136.1h1.2M248.5 194.9h1.2M248.0 236.8h1.2M248.2 151.9h1.2M248.6 174.9h1.2M248.6 182.1h1.2M248.5 169.9h1.2M248.7 158.9h1.2M248.0 86.3h1.2M254.0 167.4h1.2M253.7 180.9h1.2M254.1 190.5h1.2M254.2 144.3h1.2M254.8 160.7h1.2M254.0 153.6h1.2M254.2 169.0h1.2M254.1 160.8h1.2M254.2 159.6h1.2M253.9 120.6h1.2M253.7 168.4h1.2M254.2 146.7h1.2M254.1 198.0h1.2M254.5 146.0h1.2M254.0 212.3h1.2M260.2 178.7h1.2M260.3 200.9h1.2M259.9 215.7h1.2M260.5 176.5h1.2M259.7 169.5h1.2M260.3 211.2h1.2M259.5 83.6h1.2M260.3 157.0h1.2M259.9 134.1h1.2M260.2 182.4h1.2M260.4 162.9h1.2M259.8 136.7h1.2M260.0 198.4h1.2M259.9 193.8h1.2M266.1 146.6h1.2M266.2 161.2h1.2M265.9 139.4h1.2M266.2 170.1h1.2M265.8 167.7h1.2M265.8 179.6h1.2M266.1 182.2h1.2M265.5 198.3h1.2M265.7 173.5h1.2M265.3 163.8h1.2M266.1 151.5h1.2M265.5 183.4h1.2M265.7 156.0h1.2M271.6 163.2h1.2M271.1 188.0h1.2M271.9 187.5h1.2M271.4 123.5h1.2M271.5 194.0h1.2M271.8 179.2h1.2M271.6 154.5h1.2M271.8 199.3h1.2M272.0 159.3h1.2M272.1 181.0h1.2M278.0 53.9h1.2M277.7 175.1h1.2M277.4 145.8h1.2M277.1 183.8h1.2M277.7 173.2h1.2M277.6 175.2h1.2M277.2 161.3h1.2M278.0 220.9h1.2M277.7 183.2h1.2M277.6 168.0h1.2M283.5 198.4h1.2M283.5 102.8h1.2M283.4 148.4h1.2M283.3 171.5h1.2M283.7 170.9h1.2M283.6 176.4h1.2M283.9 198.6h1.2M283.7 196.6h1.2M283.0 189.2h1.2M283.6 170.2h1.2M283.5 153.4h1.2M283.3 162.2h1.2M283.7 163.7h1.2M283.7 166.1h1.2M289.8 124.3h1.2M289.4 175.3h1.2M289.4 215.1h1.2M288.9 167.2h1.2M289.5 152.6h1.2M289.5 134.0h1.2M289.8 167.1h1.2M289.0 142.8h1.2M289.0 128.7h1.2M289.7 172.8h1.2M289.6 186.0h1.2M289.0 116.9h1.2M289.0 180.1h1.2M289.8 38.2h1.2M289.1 150.7h1.2M295.2 209.7h1.2M295.1 151.3h1.2M295.4 145.1h1.2M295.0 156.8h1.2M295.8 147.2h1.2M295.0 180.5h1.2M295.1 127.1h1.2M294.8 152.3h1.2M295.4 153.5h1.2M295.2 193.4h1.2M295.1 198.5h1.2M294.8 173.8h1.2M295.0 121.7h1.2M295.4 107.4h1.2M301.0 242.6h1.2M301.3 163.5h1.2M301.3 100.8h1.2M301.3 176.0h1.2M301.2 187.7h1.2M301.3 186.9h1.2M301.1 179.4h1.2M301.0 146.0h1.2M301.1 180.0h1.2M300.7 164.3h1.2M307.0 148.6h1.2M307.3 180.5h1.2M306.8 123.5h1.2M306.7 204.6h1.2M306.9 113.9h1.2M307.1 166.0h1.2M306.8 191.5h1.2M307.0 203.6h1.2M307.0 149.4h1.2M306.6 165.0h1.2M306.7 206.5h1.2M307.0 175.4h1.2M307.2 189.7h1.2M307.0 156.1h1.2M312.8 191.1h1.2M312.9 136.3h1.2M312.8 151.2h1.2M312.6 126.3h1.2M312.8 151.5h1.2M312.3 160.6h1.2M312.1 142.5h1.2M312.6 159.0h1.2M312.2 183.8h1.2M312.8 172.1h1.2M312.5 196.3h1.2M312.7 157.5h1.2M313.0 62.1h1.2M313.1 192.8h1.2M318.8 169.3h1.2M318.3 165.0h1.2M318.7 147.5h1.2M318.4 183.5h1.2M318.5 211.7h1.2M318.8 145.7h1.2M318.2 195.5h1.2M318.9 124.8h1.2M318.8 148.7h1.2M319.2 60.4h1.2M318.9 181.6h1.2M318.2 197.3h1.2M318.4 150.8h1.2M318.7 182.1h1.2M318.7 141.1h1.2M324.7 175.0h1.2M324.7 162.1h1.2M324.3 157.0h1.2M324.4 171.9h1.2M324.6 153.8h1.2M325.1 177.4h1.2M324.8 183.1h1.2M324.9 203.0h1.2M324.7 192.3h1.2M324.5 171.1h1.2M324.4 139.5h1.2M324.1 153.4h1.2M324.5 177.4h1.2M324.6 155.4h1.2M324.0 154.7h1.2M323.9 156.1h1.2M329.8 149.7h1.2M330.8 170.1h1.2M330.9 152.8h1.2M330.7 146.8h1.2M330.6 157.7h1.2M330.2 93.9h1.2M330.0 160.4h1.2M330.2 183.4h1.2M330.4 231.0h1.2M330.2 172.4h1.2M329.9 213.8h1.2M330.5 169.6h1.2M330.7 166.3h1.2M330.3 119.3h1.2M336.2 198.2h1.2M336.6 174.1h1.2M335.8 171.0h1.2M336.1 189.3h1.2M336.8 147.6h1.2M336.1 151.5h1.2M335.9 221.7h1.2M336.3 180.3h1.2M335.9 171.3h1.2M336.5 224.0h1.2M336.2 155.9h1.2M336.1 168.1h1.2M335.7 157.2h1.2M336.3 149.3h1.2M336.9 152.8h1.2M336.4 164.6h1.2M336.6 196.9h1.2M336.3 214.8h1.2M342.2 192.3h1.2M341.5 156.7h1.2M341.9 160.1h1.2M342.0 136.1h1.2M342.3 173.6h1.2M342.0 150.4h1.2M341.6 159.3h1.2M341.5 178.6h1.2M342.1 122.4h1.2M342.1 164.0h1.2M342.2 156.1h1.2M341.9 185.3h1.2M342.0 161.8h1.2M341.8 148.2h1.2M342.1 175.2h1.2M342.0 152.4h1.2M342.5 179.1h1.2M341.2 82.3h1.2M342.4 176.0h1.2M348.0 146.9h1.2M347.8 116.8h1.2M348.3 83.1h1.2M348.2 190.0h1.2M348.7 167.8h1.2M347.9 165.2h1.2M348.4 200.0h1.2M348.2 162.1h1.2M347.9 152.8h1.2M347.4 158.5h1.2M348.2 144.3h1.2M348.1 93.4h1.2M348.1 181.5h1.2M347.8 141.7h1.2M348.0 123.9h1.2M348.0 151.6h1.2M348.0 123.1h1.2M348.1 144.0h1.2M354.2 164.5h1.2M354.2 36.2h1.2M354.2 109.8h1.2M353.9 241.2h1.2M354.1 145.0h1.2M353.4 150.9h1.2M353.9 161.0h1.2M353.9 183.8h1.2M354.2 153.2h1.2M353.8 179.8h1.2M353.4 151.2h1.2M354.0 132.6h1.2M353.5 138.1h1.2M353.5 193.1h1.2M359.2 136.8h1.2M359.6 164.9h1.2M359.6 177.0h1.2M359.8 157.6h1.2M359.5 194.7h1.2M360.1 197.9h1.2M360.0 119.2h1.2M359.9 211.8h1.2M359.4 173.0h1.2M359.5 148.6h1.2M359.6 160.8h1.2M359.8 130.9h1.2M359.3 176.3h1.2M359.7 145.4h1.2M359.4 114.1h1.2M365.8 186.7h1.2M365.9 121.1h1.2M365.6 228.8h1.2M365.1 143.2h1.2M365.5 94.7h1.2M365.5 169.8h1.2M365.7 172.3h1.2M366.0 166.6h1.2M365.8 166.9h1.2M365.9 150.9h1.2M365.9 168.0h1.2M365.7 229.7h1.2M365.4 200.8h1.2M365.7 175.6h1.2M371.3 178.1h1.2M371.0 146.0h1.2M371.6 145.0h1.2M371.9 155.6h1.2M371.5 195.2h1.2M371.5 147.1h1.2M371.3 195.5h1.2M371.8 107.7h1.2M371.5 144.3h1.2M370.9 150.7h1.2M371.7 143.7h1.2M371.8 98.0h1.2M371.7 136.8h1.2M371.3 39.7h1.2M371.2 185.9h1.2M371.1 149.4h1.2M371.4 170.6h1.2M371.7 166.5h1.2M371.5 170.1h1.2M370.7 198.1h1.2M377.4 196.4h1.2M377.4 123.0h1.2M377.2 185.8h1.2M376.9 74.3h1.2M377.0 152.9h1.2M377.3 151.9h1.2M377.1 167.4h1.2M377.4 186.1h1.2M377.2 142.4h1.2M377.7 151.5h1.2M376.9 122.2h1.2M377.6 151.3h1.2M377.2 212.0h1.2M377.4 91.3h1.2M377.6 148.8h1.2M377.2 94.5h1.2M377.5 192.0h1.2M376.9 172.3h1.2M377.5 185.8h1.2M377.2 78.8h1.2M383.1 162.5h1.2M382.8 143.2h1.2M383.2 189.7h1.2M383.4 196.0h1.2M383.2 177.4h1.2M383.1 177.7h1.2M383.4 175.4h1.2M383.0 142.4h1.2M382.9 144.3h1.2M382.4 202.3h1.2M382.8 177.6h1.2M383.6 206.9h1.2M383.5 178.2h1.2M382.8 198.1h1.2M388.7 197.2h1.2M388.7 132.0h1.2M388.6 158.9h1.2M389.3 179.3h1.2M388.9 167.2h1.2M388.7 152.4h1.2M388.9 180.4h1.2M389.0 98.9h1.2M388.8 148.7h1.2M389.0 115.7h1.2M389.0 131.7h1.2M388.6 234.8h1.2M389.0 197.1h1.2M388.7 151.7h1.2M389.1 189.6h1.2M388.6 191.7h1.2M389.1 185.0h1.2M389.2 166.9h1.2M389.1 150.3h1.2M394.8 157.2h1.2M394.7 194.7h1.2M395.5 118.4h1.2M394.9 182.8h1.2M394.9 131.5h1.2M394.8 174.1h1.2M394.5 186.7h1.2M394.7 136.0h1.2M395.1 152.7h1.2M394.7 54.0h1.2M394.9 82.4h1.2M394.6 98.5h1.2M394.6 171.7h1.2M395.1 167.9h1.2M394.7 185.2h1.2M394.4 147.0h1.2M394.6 159.3h1.2M394.4 114.8h1.2M395.0 148.7h1.2M394.3 180.9h1.2M394.9 160.1h1.2M395.0 177.6h1.2M401.2 138.4h1.2M400.3 107.3h1.2M401.1 243.1h1.2M400.5 148.0h1.2M400.9 218.4h1.2M400.8 202.7h1.2M400.6 109.5h1.2M401.0 120.0h1.2M400.6 221.1h1.2M400.5 190.1h1.2M400.5 180.8h1.2M400.8 141.6h1.2M401.3 117.7h1.2M401.0 181.0h1.2M400.5 131.6h1.2M406.7 49.2h1.2M406.8 195.6h1.2M406.9 140.0h1.2M406.6 141.2h1.2M406.4 179.4h1.2M406.4 143.7h1.2M406.8 183.4h1.2M406.9 132.4h1.2M406.7 179.5h1.2M406.1 217.6h1.2M406.8 162.9h1.2M406.4 151.7h1.2M406.5 75.1h1.2M406.3 165.4h1.2M406.9 194.4h1.2M405.9 137.3h1.2M406.6 83.5h1.2M407.0 161.5h1.2M406.4 59.8h1.2M406.5 139.8h1.2M406.6 161.9h1.2M406.7 165.6h1.2M406.3 123.1h1.2M406.8 144.2h1.2M406.3 155.4h1.2M406.8 161.0h1.2M412.2 160.4h1.2M412.8 196.9h1.2M412.5 134.8h1.2M411.9 137.2h1.2M412.4 156.3h1.2M413.1 135.7h1.2M412.7 144.7h1.2M412.3 208.5h1.2M412.3 60.9h1.2M412.3 167.2h1.2M412.2 177.6h1.2M412.8 162.6h1.2M412.0 176.7h1.2M412.0 145.6h1.2M413.1 53.9h1.2M412.1 188.4h1.2M411.7 185.3h1.2M412.9 162.0h1.2M412.0 151.7h1.2M412.7 186.1h1.2M412.2 177.6h1.2M412.2 126.6h1.2M412.7 136.4h1.2M418.0 108.5h1.2M418.0 62.0h1.2M418.2 176.3h1.2M418.2 151.2h1.2M417.7 136.4h1.2M418.5 139.0h1.2M417.9 145.7h1.2M418.4 150.7h1.2M418.1 136.9h1.2M417.8 156.2h1.2M418.5 192.6h1.2M418.2 64.4h1.2M418.4 118.5h1.2M418.4 82.8h1.2M418.4 183.4h1.2M418.1 108.9h1.2M418.4 113.3h1.2M418.6 64.0h1.2M418.1 156.2h1.2M418.0 187.7h1.2M418.1 189.3h1.2M418.6 88.6h1.2M424.1 204.8h1.2M424.6 150.6h1.2M424.0 96.6h1.2M424.2 217.5h1.2M424.6 139.3h1.2M424.7 185.3h1.2M424.4 202.5h1.2M424.4 227.6h1.2M424.3 132.6h1.2M423.9 155.5h1.2M424.3 184.1h1.2M424.1 200.0h1.2M424.6 141.9h1.2M424.0 149.8h1.2M424.5 78.2h1.2M424.0 177.5h1.2M424.1 65.7h1.2M424.1 137.5h1.2M424.3 140.5h1.2M424.2 133.9h1.2M429.8 81.9h1.2M430.1 170.5h1.2M429.9 138.6h1.2M430.1 143.1h1.2M429.8 169.2h1.2M430.3 175.3h1.2M429.8 105.9h1.2M430.2 184.6h1.2M430.1 101.3h1.2M430.5 138.2h1.2M430.2 80.8h1.2M429.9 90.5h1.2M430.2 80.5h1.2M429.9 204.4h1.2M429.6 190.0h1.2M430.0 214.9h1.2M430.1 191.1h1.2M430.0 167.4h1.2M430.5 176.4h1.2M429.9 80.7h1.2M430.3 135.9h1.2M430.1 125.8h1.2M430.0 192.8h1.2M429.8 161.3h1.2M430.0 68.7h1.2M429.8 183.8h1.2M429.7 93.5h1.2M429.6 159.8h1.2M430.4 146.6h1.2M429.4 229.3h1.2M429.5 164.3h1.2M430.0 72.9h1.2M429.8 167.0h1.2M430.1 158.1h1.2M429.9 175.3h1.2M435.8 167.6h1.2M435.7 156.1h1.2M435.7 151.0h1.2M436.0 160.9h1.2M435.3 177.0h1.2M436.2 140.3h1.2M436.1 151.3h1.2M435.3 184.7h1.2M436.0 112.2h1.2M436.0 232.3h1.2M436.0 85.8h1.2M435.2 126.2h1.2M435.7 96.6h1.2M436.0 200.6h1.2M436.0 94.0h1.2M435.4 63.9h1.2M436.1 152.3h1.2M435.6 125.1h1.2M436.0 141.6h1.2M435.5 134.4h1.2M435.6 212.6h1.2M435.8 141.5h1.2M435.2 193.8h1.2M435.5 187.7h1.2M436.3 181.9h1.2M436.1 135.5h1.2M436.2 139.6h1.2M436.1 175.3h1.2M435.7 208.9h1.2M442.3 81.2h1.2M442.4 131.3h1.2M441.4 143.8h1.2M441.7 161.7h1.2M441.7 134.3h1.2M441.7 158.0h1.2M442.0 160.5h1.2M441.7 162.7h1.2M441.8 101.1h1.2M441.7 122.2h1.2M441.3 176.6h1.2M442.3 195.5h1.2M441.3 142.9h1.2M441.6 184.3h1.2M441.7 107.8h1.2M441.8 152.4h1.2M441.9 147.7h1.2M441.1 142.5h1.2M441.8 120.8h1.2M441.4 140.4h1.2M441.9 189.7h1.2M441.2 181.9h1.2M441.8 100.3h1.2M441.1 138.7h1.2M441.3 143.6h1.2M441.7 116.4h1.2M441.9 153.6h1.2M442.0 188.4h1.2M441.9 132.3h1.2M441.5 85.0h1.2M441.8 134.9h1.2M441.7 144.8h1.2M441.6 174.2h1.2M442.1 131.0h1.2M447.6 148.4h1.2M447.6 71.9h1.2M447.8 179.7h1.2M447.4 90.1h1.2M447.6 148.1h1.2M447.2 132.5h1.2M447.3 116.5h1.2M447.2 136.6h1.2M447.2 141.6h1.2M447.3 141.3h1.2M447.6 143.5h1.2M447.7 162.4h1.2M447.4 169.1h1.2M447.6 183.9h1.2M448.2 102.8h1.2M447.4 105.6h1.2M447.5 134.1h1.2M448.7 141.3h1.2M448.1 137.4h1.2M447.7 46.7h1.2M447.6 194.8h1.2M447.7 192.6h1.2M447.4 74.3h1.2M447.8 190.0h1.2M447.5 173.7h1.2M447.6 100.5h1.2M447.6 161.2h1.2M447.2 125.7h1.2M447.7 146.7h1.2M447.7 203.9h1.2M453.2 152.2h1.2M453.3 169.4h1.2M453.3 169.0h1.2M454.3 132.0h1.2M453.5 112.2h1.2M453.7 175.0h1.2M452.7 141.5h1.2M453.1 180.9h1.2M453.0 143.0h1.2M453.3 198.0h1.2M453.7 185.5h1.2M453.6 152.6h1.2M453.5 214.7h1.2M453.3 219.8h1.2M453.5 142.7h1.2M453.2 102.8h1.2M453.3 144.9h1.2M453.5 187.4h1.2M452.8 87.0h1.2M453.4 133.7h1.2M453.5 198.6h1.2M453.6 157.5h1.2M453.3 149.6h1.2M453.4 72.2h1.2M454.1 188.7h1.2M453.8 172.4h1.2M453.2 79.0h1.2M453.6 157.0h1.2M453.6 182.4h1.2M453.3 149.1h1.2M453.5 176.1h1.2M453.3 229.7h1.2M453.1 163.7h1.2M453.3 189.1h1.2M453.5 156.8h1.2M453.1 166.4h1.2M454.0 137.9h1.2M453.0 169.7h1.2M453.5 113.8h1.2M453.3 165.9h1.2M453.9 155.0h1.2M459.2 99.0h1.2M459.2 126.4h1.2M459.9 119.0h1.2M459.2 179.3h1.2M459.3 117.6h1.2M459.1 90.7h1.2M459.5 89.6h1.2M459.4 86.2h1.2M459.0 86.4h1.2M459.4 150.7h1.2M459.2 140.1h1.2M459.4 175.3h1.2M459.0 140.2h1.2M459.6 178.2h1.2M459.6 186.6h1.2M459.1 140.5h1.2M459.3 178.6h1.2M459.5 215.7h1.2M458.9 158.5h1.2M459.3 184.2h1.2M459.4 120.7h1.2M459.0 170.9h1.2M459.1 203.4h1.2M459.7 149.6h1.2M459.4 172.8h1.2M459.2 201.4h1.2M459.0 144.3h1.2M459.5 138.0h1.2M459.1 147.2h1.2M460.0 134.8h1.2M459.4 187.8h1.2M459.6 194.8h1.2M459.4 91.5h1.2M459.8 149.7h1.2M459.4 154.9h1.2M459.0 148.4h1.2M459.4 138.7h1.2M459.2 150.8h1.2M465.2 129.3h1.2M465.1 171.4h1.2M465.4 51.4h1.2M465.6 194.6h1.2M465.2 163.4h1.2M465.3 150.8h1.2M464.9 217.9h1.2M465.5 176.5h1.2M465.4 139.9h1.2M465.1 200.3h1.2M465.4 207.7h1.2M465.2 172.0h1.2M465.0 73.2h1.2M465.3 168.5h1.2M465.1 91.6h1.2M465.6 231.4h1.2M465.4 134.0h1.2M465.2 134.0h1.2M464.8 162.9h1.2M465.1 212.9h1.2M465.2 223.6h1.2M465.1 138.7h1.2M465.1 121.9h1.2M465.7 172.1h1.2M465.4 164.5h1.2M465.1 93.8h1.2M465.2 176.2h1.2M464.9 159.2h1.2M465.3 87.4h1.2M465.2 146.0h1.2M465.0 84.8h1.2M464.7 143.0h1.2M464.8 152.4h1.2M465.1 136.5h1.2M464.8 39.9h1.2M465.2 87.9h1.2M464.8 183.0h1.2M465.1 133.8h1.2M465.3 189.5h1.2M464.7 197.7h1.2M465.1 195.4h1.2M465.3 172.8h1.2M464.9 134.8h1.2M465.5 120.6h1.2M465.1 145.5h1.2M464.8 156.8h1.2M465.0 148.8h1.2M464.9 96.2h1.2M465.2 125.4h1.2M465.4 129.0h1.2M465.2 178.4h1.2M471.1 196.7h1.2M471.0 177.9h1.2M471.2 145.4h1.2M471.4 150.1h1.2M470.9 78.5h1.2M470.9 159.2h1.2M471.3 107.6h1.2M470.9 167.3h1.2M470.8 172.1h1.2M471.3 86.7h1.2M471.1 162.3h1.2M470.8 164.2h1.2M470.6 187.6h1.2M470.9 165.7h1.2M470.7 192.0h1.2M471.0 139.6h1.2M471.2 80.8h1.2M470.8 108.4h1.2M471.2 127.2h1.2M470.8 151.2h1.2M471.7 208.4h1.2M470.3 219.8h1.2M471.0 138.2h1.2M471.3 184.1h1.2M471.4 88.7h1.2M471.0 207.2h1.2M470.9 197.4h1.2M471.2 179.4h1.2M471.1 142.9h1.2M471.1 174.0h1.2M470.7 70.6h1.2M470.7 169.3h1.2M471.2 180.4h1.2M470.7 203.3h1.2M471.3 154.0h1.2M470.9 192.1h1.2M471.2 151.7h1.2M471.3 176.1h1.2M471.1 135.9h1.2M471.3 97.0h1.2M470.7 172.6h1.2M470.7 162.5h1.2M471.1 124.3h1.2M470.7 162.0h1.2M471.0 182.9h1.2M471.2 185.5h1.2M471.0 89.9h1.2M471.2 178.4h1.2M471.1 170.7h1.2M470.3 158.4h1.2M476.8 202.6h1.2M476.8 161.8h1.2M477.3 98.7h1.2M477.3 151.6h1.2M476.7 190.3h1.2M477.2 208.0h1.2M476.8 145.6h1.2M477.1 119.7h1.2M476.5 155.9h1.2M477.1 195.0h1.2M477.1 157.4h1.2M476.5 204.3h1.2M477.0 101.4h1.2M477.3 140.2h1.2M476.9 170.7h1.2M477.3 96.7h1.2M476.6 162.0h1.2M476.6 217.1h1.2M476.5 211.3h1.2M477.0 63.8h1.2M476.7 147.9h1.2M476.5 149.0h1.2M476.9 193.8h1.2M477.0 175.7h1.2M476.8 179.1h1.2M476.9 112.9h1.2M476.8 208.4h1.2M476.4 99.8h1.2M476.8 141.2h1.2M476.9 140.6h1.2M477.3 100.4h1.2M476.9 174.0h1.2M477.0 132.1h1.2M476.8 184.9h1.2M476.7 132.8h1.2M476.4 178.3h1.2M477.0 175.6h1.2M476.6 207.4h1.2M477.0 151.8h1.2M477.0 87.6h1.2M476.8 174.7h1.2M476.9 107.3h1.2M477.1 197.4h1.2M477.2 203.2h1.2M476.9 136.4h1.2M476.7 159.0h1.2M476.7 149.7h1.2M476.7 128.7h1.2M477.3 142.2h1.2M476.5 184.9h1.2M476.4 92.8h1.2M477.2 130.2h1.2M476.8 112.7h1.2M476.6 163.7h1.2M482.8 204.2h1.2M483.0 123.2h1.2M482.5 154.4h1.2M482.2 98.0h1.2M482.7 143.7h1.2M482.5 183.2h1.2M483.1 149.8h1.2M482.5 152.2h1.2M482.8 167.7h1.2M483.1 201.7h1.2M482.7 166.9h1.2M482.6 168.6h1.2M483.1 187.7h1.2M482.7 179.8h1.2M482.5 154.9h1.2M482.8 128.7h1.2M483.0 186.3h1.2M482.5 51.5h1.2M483.2 179.6h1.2M482.6 210.5h1.2M482.4 219.0h1.2M482.8 163.2h1.2M482.2 178.3h1.2M482.9 134.1h1.2M482.4 115.8h1.2M482.9 85.2h1.2M482.1 143.9h1.2M482.8 179.1h1.2M482.5 147.5h1.2M482.3 126.2h1.2M482.9 137.3h1.2M482.5 183.8h1.2M482.7 190.4h1.2M482.7 159.0h1.2M482.4 196.1h1.2M483.2 88.9h1.2M482.5 201.6h1.2M483.0 152.9h1.2M483.1 214.5h1.2M482.9 158.6h1.2M482.6 144.8h1.2M482.9 165.1h1.2M488.5 191.2h1.2M488.3 191.0h1.2M487.8 113.0h1.2M488.8 163.2h1.2M488.7 176.2h1.2M489.1 166.1h1.2M488.6 127.5h1.2M488.7 167.1h1.2M488.7 140.1h1.2M488.5 94.3h1.2M488.8 190.7h1.2M488.8 167.8h1.2M488.8 139.7h1.2M488.8 73.5h1.2M488.7 157.7h1.2M488.7 80.0h1.2M488.4 132.7h1.2M488.2 143.9h1.2M489.0 201.4h1.2M488.9 116.6h1.2M488.7 170.7h1.2M488.5 180.2h1.2M488.8 158.1h1.2M489.0 151.9h1.2M488.7 206.0h1.2M488.6 161.0h1.2M488.8 61.0h1.2M488.7 170.9h1.2M488.3 144.2h1.2M488.1 137.5h1.2M488.8 197.6h1.2M488.3 201.4h1.2M488.5 123.9h1.2M488.5 181.3h1.2M488.5 171.9h1.2M488.6 199.1h1.2M488.6 149.7h1.2M494.8 129.3h1.2M494.5 140.5h1.2M494.6 178.4h1.2M494.9 171.7h1.2M494.1 178.2h1.2M494.2 122.6h1.2M494.1 193.6h1.2M494.4 161.7h1.2M494.6 173.6h1.2M494.3 139.7h1.2M494.4 179.3h1.2M494.5 147.5h1.2M494.4 96.0h1.2M494.6 145.9h1.2M494.6 153.2h1.2M494.1 160.0h1.2M494.8 169.3h1.2M494.6 160.0h1.2M494.5 159.3h1.2M494.5 161.3h1.2M494.3 223.5h1.2M494.4 145.2h1.2M494.5 142.4h1.2M495.0 173.7h1.2M494.7 135.8h1.2M494.1 143.8h1.2M494.5 145.7h1.2M494.5 111.4h1.2M494.6 139.1h1.2M493.8 127.7h1.2M494.6 225.3h1.2M494.9 185.1h1.2M494.8 171.2h1.2M494.5 164.4h1.2M494.7 195.3h1.2M494.3 158.8h1.2M494.5 169.8h1.2M494.7 135.8h1.2M494.9 208.3h1.2M494.1 166.7h1.2M494.4 102.6h1.2M494.6 198.1h1.2M494.7 195.8h1.2M494.6 169.9h1.2M494.4 150.0h1.2M494.2 150.8h1.2M494.1 156.0h1.2M494.6 137.3h1.2M494.3 158.8h1.2M494.4 173.6h1.2M494.3 197.0h1.2M494.3 177.7h1.2M494.2 175.3h1.2M494.4 182.0h1.2M494.4 103.7h1.2M494.6 142.8h1.2M494.2 204.0h1.2M493.9 154.8h1.2M494.4 179.7h1.2M494.5 177.1h1.2M494.3 193.8h1.2M494.7 161.5h1.2M494.5 146.1h1.2M494.2 144.9h1.2M494.7 211.2h1.2M494.6 145.8h1.2M500.3 132.4h1.2M500.2 135.4h1.2M500.9 89.7h1.2M500.4 155.6h1.2M500.4 181.0h1.2M500.7 156.7h1.2M500.1 189.8h1.2M500.2 156.7h1.2M500.4 154.6h1.2M500.5 170.4h1.2M500.6 157.1h1.2M499.8 124.4h1.2M500.5 92.3h1.2M500.6 204.2h1.2M500.1 180.8h1.2M499.9 144.9h1.2M500.5 127.6h1.2M500.6 165.4h1.2M500.5 213.3h1.2M500.2 184.4h1.2M499.9 136.0h1.2M500.1 112.6h1.2M500.6 176.6h1.2M500.6 131.8h1.2M500.2 141.7h1.2M500.6 168.3h1.2M500.3 171.2h1.2M500.1 143.3h1.2M500.3 197.5h1.2M500.1 193.1h1.2M500.6 191.9h1.2M500.1 182.6h1.2M500.4 136.7h1.2M500.7 139.5h1.2M500.3 192.0h1.2M500.1 214.0h1.2M500.6 105.9h1.2M500.5 131.0h1.2M500.7 212.3h1.2M500.3 184.6h1.2M500.5 174.4h1.2M500.3 217.7h1.2M500.0 152.8h1.2M500.3 144.8h1.2M500.6 124.0h1.2M500.3 180.1h1.2M500.5 146.7h1.2M500.4 194.6h1.2M499.9 111.0h1.2M500.1 180.5h1.2M500.3 173.3h1.2M500.6 204.8h1.2M500.4 202.4h1.2M500.2 215.8h1.2M500.8 182.7h1.2M500.2 202.9h1.2M500.4 143.8h1.2M500.1 197.9h1.2M500.2 128.6h1.2M500.4 176.3h1.2M500.4 206.4h1.2M500.9 199.9h1.2M500.0 153.2h1.2M500.1 157.9h1.2M500.4 118.2h1.2M500.5 148.8h1.2M500.7 166.7h1.2M500.1 174.0h1.2M500.8 167.1h1.2M500.0 167.7h1.2M500.4 159.9h1.2M506.2 214.8h1.2M506.6 166.1h1.2M505.7 127.4h1.2M506.5 168.0h1.2M506.1 110.9h1.2M506.2 192.1h1.2M506.0 217.1h1.2M506.5 133.0h1.2M506.8 175.0h1.2M506.4 161.2h1.2M506.6 222.9h1.2M506.0 198.1h1.2M506.5 211.2h1.2M506.6 190.8h1.2M506.1 173.1h1.2M506.4 99.1h1.2M506.7 129.7h1.2M506.0 178.3h1.2M506.1 221.3h1.2M506.5 199.8h1.2M506.2 184.9h1.2M506.1 200.6h1.2M506.3 147.5h1.2M506.2 165.1h1.2M506.2 109.5h1.2M506.0 169.0h1.2M505.8 120.3h1.2M506.0 131.4h1.2M506.4 116.2h1.2M506.7 180.7h1.2M506.4 113.7h1.2M505.8 148.9h1.2M506.1 131.9h1.2M506.1 205.5h1.2M506.6 200.1h1.2M506.0 207.3h1.2M505.8 121.6h1.2M506.5 213.4h1.2M505.9 197.9h1.2M505.7 215.2h1.2M506.2 181.2h1.2M506.0 154.7h1.2M506.6 150.3h1.2M506.1 169.3h1.2M506.3 105.8h1.2M506.2 150.8h1.2M506.0 183.4h1.2M505.8 211.1h1.2M506.3 124.7h1.2M506.0 141.4h1.2M506.7 141.7h1.2M506.4 174.4h1.2M506.0 169.7h1.2M505.9 186.0h1.2M506.2 176.5h1.2M506.0 144.4h1.2M505.8 137.8h1.2M506.4 177.5h1.2M506.0 194.2h1.2M506.4 165.0h1.2M506.0 152.0h1.2M506.3 188.7h1.2M506.3 113.8h1.2M512.4 169.3h1.2M512.3 204.2h1.2M511.8 163.3h1.2M512.3 192.1h1.2M512.6 116.0h1.2M511.8 195.9h1.2M512.3 145.6h1.2M512.0 146.4h1.2M512.2 182.7h1.2M512.9 163.0h1.2M511.3 168.8h1.2M511.8 147.2h1.2M512.1 188.2h1.2M511.7 195.3h1.2M512.0 158.9h1.2M512.4 182.2h1.2M512.1 189.2h1.2M511.8 176.3h1.2M512.4 169.4h1.2M512.2 202.0h1.2M511.8 213.2h1.2M512.2 207.7h1.2M511.4 157.1h1.2M512.4 90.6h1.2M511.9 199.5h1.2M512.8 168.5h1.2M511.7 161.1h1.2M511.7 149.8h1.2M512.1 151.8h1.2M512.1 109.4h1.2M512.1 129.2h1.2M511.6 144.8h1.2M512.6 152.0h1.2M512.5 132.3h1.2M512.5 159.1h1.2M512.2 170.1h1.2M512.4 182.5h1.2M512.3 175.7h1.2M511.7 185.0h1.2M512.5 194.7h1.2M511.7 204.0h1.2M512.3 196.6h1.2M511.3 186.9h1.2M512.3 144.8h1.2M511.6 146.4h1.2M512.4 181.7h1.2M512.2 206.8h1.2M512.2 200.0h1.2M512.0 158.1h1.2M512.2 193.0h1.2M512.4 167.0h1.2M511.8 194.6h1.2M511.7 139.9h1.2M512.4 176.0h1.2M511.4 155.3h1.2M512.4 171.2h1.2M511.4 181.7h1.2M512.0 176.1h1.2M512.5 195.6h1.2M512.4 205.8h1.2M511.6 158.0h1.2M512.1 111.3h1.2M512.0 182.4h1.2M511.6 163.1h1.2M512.0 140.3h1.2M512.0 165.2h1.2M512.2 156.0h1.2M512.0 181.6h1.2M511.8 184.5h1.2M512.1 182.4h1.2M512.4 158.7h1.2M511.8 141.9h1.2M512.3 174.8h1.2M512.4 132.9h1.2M512.1 114.6h1.2M512.3 118.2h1.2M518.1 140.5h1.2M517.9 146.4h1.2M517.9 160.0h1.2M517.9 181.2h1.2M517.3 200.8h1.2M517.8 184.7h1.2M517.7 198.4h1.2M517.7 196.4h1.2M518.3 137.2h1.2M518.3 156.3h1.2M517.6 159.5h1.2M518.2 86.7h1.2M518.0 121.4h1.2M518.3 152.0h1.2M517.6 157.2h1.2M518.0 206.1h1.2M518.0 160.6h1.2M518.2 126.5h1.2M517.5 150.3h1.2M518.0 188.3h1.2M518.2 183.8h1.2M518.2 193.7h1.2M518.2 109.8h1.2M518.1 130.4h1.2M518.1 196.5h1.2M518.2 190.7h1.2M518.3 163.9h1.2M518.4 223.9h1.2M518.2 169.2h1.2M518.1 170.6h1.2M518.2 153.1h1.2M517.9 208.0h1.2M518.1 193.6h1.2M518.1 204.5h1.2M517.8 195.3h1.2M518.0 159.6h1.2M518.5 208.6h1.2M517.9 202.0h1.2M518.0 199.0h1.2M517.7 130.4h1.2M517.7 191.4h1.2M517.6 208.5h1.2M517.7 164.0h1.2M518.4 164.8h1.2M517.5 79.1h1.2M518.6 155.0h1.2M517.5 145.2h1.2M517.8 117.6h1.2M517.7 172.6h1.2M518.4 171.2h1.2M518.0 158.4h1.2M518.5 125.7h1.2M518.0 132.8h1.2M517.8 158.5h1.2M517.8 180.9h1.2M517.7 107.4h1.2M517.8 225.2h1.2M518.1 180.6h1.2M517.9 152.1h1.2M518.5 181.7h1.2M517.8 148.2h1.2M518.1 148.6h1.2M518.5 190.7h1.2M518.2 181.0h1.2M518.4 160.8h1.2M518.4 174.7h1.2M517.9 163.9h1.2M517.8 179.7h1.2M517.3 162.0h1.2M518.0 198.6h1.2M517.9 178.9h1.2M523.9 168.5h1.2M524.3 155.8h1.2M523.8 206.8h1.2M523.7 208.3h1.2M524.0 163.9h1.2M523.8 165.2h1.2M523.7 167.2h1.2M523.6 226.7h1.2M523.5 183.6h1.2M523.8 156.8h1.2M523.7 123.9h1.2M523.8 175.4h1.2M524.2 216.8h1.2M523.8 207.0h1.2M523.9 153.2h1.2M523.8 202.0h1.2M524.1 122.4h1.2M524.0 191.7h1.2M523.9 169.1h1.2M524.2 208.6h1.2M524.3 181.9h1.2M524.0 182.7h1.2M524.6 170.8h1.2M523.8 192.2h1.2M523.7 180.0h1.2M523.6 149.7h1.2M523.7 175.8h1.2M523.8 171.8h1.2M523.7 126.1h1.2M524.1 216.5h1.2M523.9 189.9h1.2M523.4 102.8h1.2M523.8 200.5h1.2M523.7 185.3h1.2M523.6 173.5h1.2M523.7 99.9h1.2M524.1 184.0h1.2M524.1 164.6h1.2M523.5 155.3h1.2M523.8 161.0h1.2M523.9 158.2h1.2M523.5 153.1h1.2M523.8 201.8h1.2M523.9 189.9h1.2M523.6 145.4h1.2M524.1 169.5h1.2M524.3 116.2h1.2M524.0 165.5h1.2M524.0 165.8h1.2M524.2 216.5h1.2M523.4 166.5h1.2M524.0 192.4h1.2M524.0 209.4h1.2M524.4 197.7h1.2M524.0 197.5h1.2M523.7 204.4h1.2M523.9 166.0h1.2M523.8 184.9h1.2M523.7 179.3h1.2M524.0 217.5h1.2M524.2 205.7h1.2M523.7 185.5h1.2M523.6 158.8h1.2M523.8 108.9h1.2M524.2 148.9h1.2M524.1 229.8h1.2M524.2 182.7h1.2M524.0 157.7h1.2M523.5 138.2h1.2" stroke="#3658b6" stroke-width="1.0" stroke-opacity="0.85" fill="none"/>
<path d="M66.5,258.24 67.5,258.10 68.5,258.05 69.5,258.08 70.5,258.19 71.5,258.37 72.5,258.60 73.5,258.88 74.5,259.20 75.5,259.56 76.5,259.94 77.5,260.33 78.5,260.74 79.5,261.14 80.5,261.53 81.5,261.91 82.5,262.26 83.5,262.57 84.5,262.86 85.5,263.10 86.5,263.32 87.5,263.50 88.5,263.65 89.5,263.77 90.5,263.85 91.5,263.90 92.5,263.92 93.5,263.91 94.5,263.88 95.5,263.81 96.5,263.71 97.5,263.59 98.5,263.44 99.5,263.26 100.5,263.06 101.5,262.83 102.5,262.59 103.5,262.31 104.5,262.02 105.5,261.70 106.5,261.37 107.5,261.01 108.5,260.64 109.5,260.24 110.5,259.83 111.5,259.41 112.5,258.96 113.5,258.51 114.5,258.04 115.5,257.55 116.5,257.05 117.5,256.54 118.5,256.02 119.5,255.49 120.5,254.95 121.5,254.40 122.5,253.84 123.5,253.27 124.5,252.70 125.5,252.12 126.5,251.54 127.5,250.95 128.5,250.36 129.5,249.77 130.5,249.17 131.5,248.58 132.5,247.98 133.5,247.39 134.5,246.79 135.5,246.20 136.5,245.61 137.5,245.02 138.5,244.44 139.5,243.86 140.5,243.29 141.5,242.72 142.5,242.16 143.5,241.60 144.5,241.05 145.5,240.50 146.5,239.95 147.5,239.41 148.5,238.88 149.5,238.35 150.5,237.82 151.5,237.30 152.5,236.78 153.5,236.27 154.5,235.77 155.5,235.27 156.5,234.77 157.5,234.28 158.5,233.79 159.5,233.31 160.5,232.84 161.5,232.37 162.5,231.90 163.5,231.44 164.5,230.99 165.5,230.54 166.5,230.09 167.5,229.66 168.5,229.22 169.5,228.79 170.5,228.37 171.5,227.95 172.5,227.54 173.5,227.13 174.5,226.73 175.5,226.34 176.5,225.95 177.5,225.56 178.5,225.18 179.5,224.81 180.5,224.44 181.5,224.08 182.5,223.72 183.5,223.37 184.5,223.02 185.5,222.68 186.5,222.35 187.5,222.02 188.5,221.70 189.5,221.38 190.5,221.07 191.5,220.77 192.5,220.47 193.5,220.18 194.5,219.89 195.5,219.61 196.5,219.33 197.5,219.06 198.5,218.80 199.5,218.54 200.5,218.29 201.5,218.05 202.5,217.81 203.5,217.58 204.5,217.35 205.5,217.13 206.5,216.92 207.5,216.71 208.5,216.51 209.5,216.31 210.5,216.12 211.5,215.94 212.5,215.76 213.5,215.58 214.5,215.41 215.5,215.25 216.5,215.09 217.5,214.94 218.5,214.79 219.5,214.65 220.5,214.51 221.5,214.38 222.5,214.25 223.5,214.13 224.5,214.01 225.5,213.90 226.5,213.79 227.5,213.68 228.5,213.58 229.5,213.49 230.5,213.40 231.5,213.31 232.5,213.23 233.5,213.15 234.5,213.07 235.5,213.00 236.5,212.93 237.5,212.87 238.5,212.81 239.5,212.75 240.5,212.70 241.5,212.65 242.5,212.61 243.5,212.56 244.5,212.53 245.5,212.49 246.5,212.46 247.5,212.43 248.5,212.40 249.5,212.38 250.5,212.36 251.5,212.34 252.5,212.32 253.5,212.31 254.5,212.30 255.5,212.30 256.5,212.29 257.5,212.29 258.5,212.29 259.5,212.30 260.5,212.31 261.5,212.31 262.5,212.33 263.5,212.34 264.5,212.36 265.5,212.38 266.5,212.40 267.5,212.42 268.5,212.45 269.5,212.48 270.5,212.51 271.5,212.54 272.5,212.58 273.5,212.61 274.5,212.65 275.5,212.70 276.5,212.74 277.5,212.78 278.5,212.83 279.5,212.88 280.5,212.93 281.5,212.98 282.5,213.04 283.5,213.09 284.5,213.15 285.5,213.21 286.5,213.27 287.5,213.34 288.5,213.40 289.5,213.47 290.5,213.53 291.5,213.60 292.5,213.67 293.5,213.74 294.5,213.82 295.5,213.89 296.5,213.97 297.5,214.04 298.5,214.12 299.5,214.20 300.5,214.28 301.5,214.36 302.5,214.44 303.5,214.53 304.5,214.61 305.5,214.70 306.5,214.78 307.5,214.87 308.5,214.96 309.5,215.05 310.5,215.13 311.5,215.22 312.5,215.32 313.5,215.41 314.5,215.50 315.5,215.59 316.5,215.68 317.5,215.78 318.5,215.87 319.5,215.96 320.5,216.06 321.5,216.15 322.5,216.25 323.5,216.34 324.5,216.44 325.5,216.53 326.5,216.63 327.5,216.73 328.5,216.82 329.5,216.92 330.5,217.01 331.5,217.11 332.5,217.20 333.5,217.30 334.5,217.40 335.5,217.49 336.5,217.59 337.5,217.68 338.5,217.78 339.5,217.87 340.5,217.96 341.5,218.06 342.5,218.15 343.5,218.24 344.5,218.33 345.5,218.43 346.5,218.52 347.5,218.61 348.5,218.70 349.5,218.78 350.5,218.87 351.5,218.96 352.5,219.04 353.5,219.13 354.5,219.21 355.5,219.30 356.5,219.38 357.5,219.46 358.5,219.54 359.5,219.62 360.5,219.70 361.5,219.78 362.5,219.85 363.5,219.93 364.5,220.00 365.5,220.07 366.5,220.14 367.5,220.21 368.5,220.28 369.5,220.35 370.5,220.41 371.5,220.48 372.5,220.54 373.5,220.60 374.5,220.66 375.5,220.71 376.5,220.77 377.5,220.82 378.5,220.87 379.5,220.92 380.5,220.97 381.5,221.02 382.5,221.06 383.5,221.10 384.5,221.14 385.5,221.18 386.5,221.22 387.5,221.25 388.5,221.28 389.5,221.31 390.5,221.34 391.5,221.36 392.5,221.39 393.5,221.41 394.5,221.42 395.5,221.44 396.5,221.45 397.5,221.46 398.5,221.47 399.5,221.48 400.5,221.48 401.5,221.49 402.5,221.49 403.5,221.49 404.5,221.48 405.5,221.48 406.5,221.47 407.5,221.46 408.5,221.45 409.5,221.43 410.5,221.42 411.5,221.40 412.5,221.38 413.5,221.36 414.5,221.34 415.5,221.32 416.5,221.29 417.5,221.26 418.5,221.23 419.5,221.20 420.5,221.17 421.5,221.14 422.5,221.10 423.5,221.07 424.5,221.03 425.5,220.99 426.5,220.95 427.5,220.91 428.5,220.86 429.5,220.82 430.5,220.77 431.5,220.72 432.5,220.67 433.5,220.62 434.5,220.57 435.5,220.52 436.5,220.47 437.5,220.41 438.5,220.36 439.5,220.30 440.5,220.24 441.5,220.18 442.5,220.12 443.5,220.06 444.5,220.00 445.5,219.94 446.5,219.88 447.5,219.81 448.5,219.75 449.5,219.68 450.5,219.62 451.5,219.55 452.5,219.48 453.5,219.41 454.5,219.34 455.5,219.27 456.5,219.20 457.5,219.13 458.5,219.06 459.5,218.99 460.5,218.92 461.5,218.84 462.5,218.77 463.5,218.70 464.5,218.62 465.5,218.55 466.5,218.48 467.5,218.40 468.5,218.33 469.5,218.25 470.5,218.18 471.5,218.10 472.5,218.02 473.5,217.95 474.5,217.87 475.5,217.80 476.5,217.72 477.5,217.65 478.5,217.57 479.5,217.49 480.5,217.42 481.5,217.34 482.5,217.27 483.5,217.19 484.5,217.12 485.5,217.04 486.5,216.97 487.5,216.89 488.5,216.82 489.5,216.75 490.5,216.67 491.5,216.60 492.5,216.53 493.5,216.46 494.5,216.38 495.5,216.31 496.5,216.24 497.5,216.17 498.5,216.10 499.5,216.04 500.5,215.97 501.5,215.90 502.5,215.83 503.5,215.77 504.5,215.70 505.5,215.64 506.5,215.58 507.5,215.51 508.5,215.45 509.5,215.39 510.5,215.33 511.5,215.27 512.5,215.21 513.5,215.16 514.5,215.10 515.5,215.05 516.5,214.99 517.5,214.94 518.5,214.89 519.5,214.84 520.5,214.79 521.5,214.74 522.5,214.70 523.5,214.65" fill="none" stroke="#46609d" stroke-width="1.15"/><path d="M66.5,256.12 67.5,256.00 68.5,256.01 69.5,256.13 70.5,256.34 71.5,256.62 72.5,256.95 73.5,257.32 74.5,257.72 75.5,258.12 76.5,258.51 77.5,258.89 78.5,259.24 79.5,259.57 80.5,259.87 81.5,260.15 82.5,260.41 83.5,260.65 84.5,260.85 85.5,261.03 86.5,261.19 87.5,261.31 88.5,261.41 89.5,261.47 90.5,261.50 91.5,261.51 92.5,261.48 93.5,261.42 94.5,261.33 95.5,261.21 96.5,261.06 97.5,260.89 98.5,260.69 99.5,260.47 100.5,260.22 101.5,259.95 102.5,259.66 103.5,259.35 104.5,259.02 105.5,258.67 106.5,258.30 107.5,257.91 108.5,257.51 109.5,257.09 110.5,256.65 111.5,256.21 112.5,255.75 113.5,255.27 114.5,254.79 115.5,254.30 116.5,253.80 117.5,253.29 118.5,252.77 119.5,252.25 120.5,251.72 121.5,251.19 122.5,250.66 123.5,250.12 124.5,249.58 125.5,249.04 126.5,248.50 127.5,247.96 128.5,247.42 129.5,246.88 130.5,246.34 131.5,245.80 132.5,245.26 133.5,244.72 134.5,244.18 135.5,243.64 136.5,243.11 137.5,242.57 138.5,242.04 139.5,241.51 140.5,240.98 141.5,240.45 142.5,239.93 143.5,239.40 144.5,238.88 145.5,238.37 146.5,237.85 147.5,237.34 148.5,236.84 149.5,236.33 150.5,235.84 151.5,235.34 152.5,234.85 153.5,234.36 154.5,233.88 155.5,233.40 156.5,232.93 157.5,232.47 158.5,232.00 159.5,231.55 160.5,231.10 161.5,230.65 162.5,230.22 163.5,229.78 164.5,229.36 165.5,228.94 166.5,228.52 167.5,228.11 168.5,227.71 169.5,227.31 170.5,226.92 171.5,226.53 172.5,226.15 173.5,225.77 174.5,225.40 175.5,225.04 176.5,224.68 177.5,224.32 178.5,223.97 179.5,223.63 180.5,223.29 181.5,222.96 182.5,222.63 183.5,222.31 184.5,221.99 185.5,221.68 186.5,221.38 187.5,221.08 188.5,220.78 189.5,220.49 190.5,220.20 191.5,219.92 192.5,219.65 193.5,219.37 194.5,219.11 195.5,218.85 196.5,218.59 197.5,218.34 198.5,218.09 199.5,217.85 200.5,217.62 201.5,217.39 202.5,217.16 203.5,216.94 204.5,216.72 205.5,216.51 206.5,216.30 207.5,216.09 208.5,215.89 209.5,215.70 210.5,215.51 211.5,215.33 212.5,215.14 213.5,214.97 214.5,214.80 215.5,214.63 216.5,214.47 217.5,214.31 218.5,214.15 219.5,214.00 220.5,213.86 221.5,213.71 222.5,213.58 223.5,213.44 224.5,213.32 225.5,213.19 226.5,213.07 227.5,212.95 228.5,212.84 229.5,212.73 230.5,212.63 231.5,212.53 232.5,212.43 233.5,212.34 234.5,212.25 235.5,212.16 236.5,212.08 237.5,212.00 238.5,211.93 239.5,211.85 240.5,211.79 241.5,211.72 242.5,211.66 243.5,211.60 244.5,211.55 245.5,211.50 246.5,211.45 247.5,211.41 248.5,211.36 249.5,211.33 250.5,211.29 251.5,211.26 252.5,211.23 253.5,211.20 254.5,211.18 255.5,211.16 256.5,211.14 257.5,211.12 258.5,211.11 259.5,211.10 260.5,211.10 261.5,211.09 262.5,211.09 263.5,211.09 264.5,211.09 265.5,211.10 266.5,211.10 267.5,211.11 268.5,211.13 269.5,211.14 270.5,211.16 271.5,211.18 272.5,211.20 273.5,211.22 274.5,211.24 275.5,211.27 276.5,211.30 277.5,211.33 278.5,211.36 279.5,211.40 280.5,211.43 281.5,211.47 282.5,211.51 283.5,211.55 284.5,211.59 285.5,211.64 286.5,211.68 287.5,211.73 288.5,211.78 289.5,211.83 290.5,211.88 291.5,211.93 292.5,211.98 293.5,212.04 294.5,212.09 295.5,212.15 296.5,212.21 297.5,212.27 298.5,212.33 299.5,212.39 300.5,212.45 301.5,212.51 302.5,212.58 303.5,212.64 304.5,212.70 305.5,212.77 306.5,212.84 307.5,212.90 308.5,212.97 309.5,213.04 310.5,213.10 311.5,213.17 312.5,213.24 313.5,213.31 314.5,213.38 315.5,213.45 316.5,213.52 317.5,213.59 318.5,213.66 319.5,213.73 320.5,213.80 321.5,213.87 322.5,213.94 323.5,214.01 324.5,214.07 325.5,214.14 326.5,214.21 327.5,214.28 328.5,214.35 329.5,214.42 330.5,214.48 331.5,214.55 332.5,214.62 333.5,214.68 334.5,214.75 335.5,214.81 336.5,214.88 337.5,214.94 338.5,215.00 339.5,215.06 340.5,215.12 341.5,215.18 342.5,215.24 343.5,215.30 344.5,215.35 345.5,215.41 346.5,215.46 347.5,215.52 348.5,215.57 349.5,215.62 350.5,215.67 351.5,215.72 352.5,215.76 353.5,215.81 354.5,215.85 355.5,215.89 356.5,215.93 357.5,215.97 358.5,216.01 359.5,216.04 360.5,216.08 361.5,216.11 362.5,216.14 363.5,216.17 364.5,216.19 365.5,216.22 366.5,216.24 367.5,216.26 368.5,216.28 369.5,216.30 370.5,216.31 371.5,216.33 372.5,216.34 373.5,216.35 374.5,216.36 375.5,216.37 376.5,216.37 377.5,216.38 378.5,216.38 379.5,216.38 380.5,216.38 381.5,216.38 382.5,216.37 383.5,216.37 384.5,216.36 385.5,216.35 386.5,216.34 387.5,216.33 388.5,216.32 389.5,216.30 390.5,216.29 391.5,216.27 392.5,216.25 393.5,216.23 394.5,216.21 395.5,216.19 396.5,216.17 397.5,216.14 398.5,216.12 399.5,216.09 400.5,216.06 401.5,216.03 402.5,216.00 403.5,215.97 404.5,215.94 405.5,215.90 406.5,215.87 407.5,215.83 408.5,215.79 409.5,215.75 410.5,215.71 411.5,215.67 412.5,215.63 413.5,215.59 414.5,215.54 415.5,215.50 416.5,215.45 417.5,215.41 418.5,215.36 419.5,215.31 420.5,215.26 421.5,215.21 422.5,215.16 423.5,215.11 424.5,215.06 425.5,215.00 426.5,214.95 427.5,214.89 428.5,214.84 429.5,214.78 430.5,214.72 431.5,214.67 432.5,214.61 433.5,214.55 434.5,214.49 435.5,214.43 436.5,214.37 437.5,214.31 438.5,214.24 439.5,214.18 440.5,214.12 441.5,214.05 442.5,213.99 443.5,213.92 444.5,213.86 445.5,213.79 446.5,213.73 447.5,213.66 448.5,213.59 449.5,213.52 450.5,213.46 451.5,213.39 452.5,213.32 453.5,213.25 454.5,213.18 455.5,213.11 456.5,213.04 457.5,212.97 458.5,212.90 459.5,212.83 460.5,212.76 461.5,212.69 462.5,212.62 463.5,212.55 464.5,212.48 465.5,212.41 466.5,212.33 467.5,212.26 468.5,212.19 469.5,212.12 470.5,212.05 471.5,211.98 472.5,211.90 473.5,211.83 474.5,211.76 475.5,211.69 476.5,211.62 477.5,211.55 478.5,211.48 479.5,211.40 480.5,211.33 481.5,211.26 482.5,211.19 483.5,211.12 484.5,211.05 485.5,210.98 486.5,210.91 487.5,210.84 488.5,210.77 489.5,210.70 490.5,210.63 491.5,210.57 492.5,210.50 493.5,210.43 494.5,210.36 495.5,210.30 496.5,210.23 497.5,210.16 498.5,210.10 499.5,210.03 500.5,209.97 501.5,209.90 502.5,209.84 503.5,209.78 504.5,209.71 505.5,209.65 506.5,209.59 507.5,209.53 508.5,209.47 509.5,209.41 510.5,209.35 511.5,209.29 512.5,209.24 513.5,209.18 514.5,209.12 515.5,209.07 516.5,209.01 517.5,208.96 518.5,208.90 519.5,208.85 520.5,208.80 521.5,208.75 522.5,208.70 523.5,208.65" fill="none" stroke="#a14335" stroke-width="1.15"/><path d="M66.5,253.52 67.5,253.78 68.5,254.04 69.5,254.31 70.5,254.58 71.5,254.85 72.5,255.12 73.5,255.40 74.5,255.67 75.5,255.93 76.5,256.19 77.5,256.45 78.5,256.69 79.5,256.93 80.5,257.15 81.5,257.37 82.5,257.56 83.5,257.75 84.5,257.91 85.5,258.06 86.5,258.18 87.5,258.29 88.5,258.37 89.5,258.43 90.5,258.46 91.5,258.47 92.5,258.44 93.5,258.39 94.5,258.30 95.5,258.19 96.5,258.03 97.5,257.85 98.5,257.64 99.5,257.39 100.5,257.12 101.5,256.82 102.5,256.49 103.5,256.14 104.5,255.76 105.5,255.36 106.5,254.94 107.5,254.50 108.5,254.04 109.5,253.56 110.5,253.07 111.5,252.56 112.5,252.04 113.5,251.50 114.5,250.95 115.5,250.39 116.5,249.83 117.5,249.25 118.5,248.66 119.5,248.08 120.5,247.48 121.5,246.88 122.5,246.28 123.5,245.68 124.5,245.08 125.5,244.49 126.5,243.89 127.5,243.30 128.5,242.71 129.5,242.12 130.5,241.54 131.5,240.97 132.5,240.39 133.5,239.83 134.5,239.26 135.5,238.70 136.5,238.15 137.5,237.59 138.5,237.05 139.5,236.50 140.5,235.96 141.5,235.43 142.5,234.90 143.5,234.37 144.5,233.84 145.5,233.32 146.5,232.81 147.5,232.30 148.5,231.79 149.5,231.29 150.5,230.79 151.5,230.29 152.5,229.80 153.5,229.31 154.5,228.83 155.5,228.35 156.5,227.88 157.5,227.41 158.5,226.94 159.5,226.48 160.5,226.02 161.5,225.56 162.5,225.11 163.5,224.67 164.5,224.22 165.5,223.79 166.5,223.35 167.5,222.92 168.5,222.49 169.5,222.07 170.5,221.65 171.5,221.24 172.5,220.83 173.5,220.42 174.5,220.02 175.5,219.62 176.5,219.23 177.5,218.84 178.5,218.45 179.5,218.07 180.5,217.69 181.5,217.32 182.5,216.95 183.5,216.58 184.5,216.22 185.5,215.86 186.5,215.51 187.5,215.16 188.5,214.81 189.5,214.47 190.5,214.13 191.5,213.80 192.5,213.47 193.5,213.14 194.5,212.82 195.5,212.50 196.5,212.19 197.5,211.88 198.5,211.57 199.5,211.27 200.5,210.97 201.5,210.68 202.5,210.39 203.5,210.10 204.5,209.82 205.5,209.54 206.5,209.27 207.5,209.00 208.5,208.74 209.5,208.47 210.5,208.22 211.5,207.96 212.5,207.71 213.5,207.47 214.5,207.23 215.5,206.99 216.5,206.75 217.5,206.52 218.5,206.30 219.5,206.08 220.5,205.86 221.5,205.65 222.5,205.44 223.5,205.23 224.5,205.03 225.5,204.83 226.5,204.64 227.5,204.45 228.5,204.26 229.5,204.08 230.5,203.90 231.5,203.73 232.5,203.56 233.5,203.39 234.5,203.23 235.5,203.08 236.5,202.92 237.5,202.77 238.5,202.63 239.5,202.48 240.5,202.35 241.5,202.21 242.5,202.08 243.5,201.96 244.5,201.83 245.5,201.72 246.5,201.60 247.5,201.49 248.5,201.39 249.5,201.28 250.5,201.19 251.5,201.09 252.5,201.00 253.5,200.91 254.5,200.83 255.5,200.75 256.5,200.67 257.5,200.60 258.5,200.53 259.5,200.46 260.5,200.40 261.5,200.34 262.5,200.28 263.5,200.23 264.5,200.17 265.5,200.13 266.5,200.08 267.5,200.04 268.5,200.00 269.5,199.96 270.5,199.93 271.5,199.90 272.5,199.87 273.5,199.84 274.5,199.82 275.5,199.80 276.5,199.78 277.5,199.76 278.5,199.75 279.5,199.73 280.5,199.72 281.5,199.71 282.5,199.71 283.5,199.70 284.5,199.70 285.5,199.70 286.5,199.70 287.5,199.71 288.5,199.71 289.5,199.72 290.5,199.73 291.5,199.74 292.5,199.75 293.5,199.76 294.5,199.78 295.5,199.79 296.5,199.81 297.5,199.83 298.5,199.85 299.5,199.87 300.5,199.89 301.5,199.91 302.5,199.93 303.5,199.96 304.5,199.98 305.5,200.01 306.5,200.04 307.5,200.06 308.5,200.09 309.5,200.12 310.5,200.15 311.5,200.18 312.5,200.21 313.5,200.24 314.5,200.27 315.5,200.30 316.5,200.33 317.5,200.37 318.5,200.40 319.5,200.43 320.5,200.46 321.5,200.49 322.5,200.52 323.5,200.55 324.5,200.58 325.5,200.62 326.5,200.65 327.5,200.68 328.5,200.71 329.5,200.73 330.5,200.76 331.5,200.79 332.5,200.82 333.5,200.84 334.5,200.87 335.5,200.89 336.5,200.92 337.5,200.94 338.5,200.96 339.5,200.98 340.5,201.00 341.5,201.02 342.5,201.04 343.5,201.06 344.5,201.07 345.5,201.08 346.5,201.10 347.5,201.11 348.5,201.12 349.5,201.12 350.5,201.13 351.5,201.13 352.5,201.14 353.5,201.14 354.5,201.13 355.5,201.13 356.5,201.13 357.5,201.12 358.5,201.11 359.5,201.10 360.5,201.08 361.5,201.07 362.5,201.05 363.5,201.03 364.5,201.01 365.5,200.98 366.5,200.96 367.5,200.93 368.5,200.90 369.5,200.86 370.5,200.83 371.5,200.79 372.5,200.75 373.5,200.71 374.5,200.67 375.5,200.63 376.5,200.59 377.5,200.54 378.5,200.49 379.5,200.44 380.5,200.40 381.5,200.34 382.5,200.29 383.5,200.24 384.5,200.19 385.5,200.13 386.5,200.08 387.5,200.02 388.5,199.96 389.5,199.90 390.5,199.85 391.5,199.79 392.5,199.73 393.5,199.67 394.5,199.61 395.5,199.55 396.5,199.49 397.5,199.43 398.5,199.37 399.5,199.31 400.5,199.24 401.5,199.18 402.5,199.12 403.5,199.06 404.5,199.00 405.5,198.94 406.5,198.88 407.5,198.83 408.5,198.77 409.5,198.71 410.5,198.65 411.5,198.60 412.5,198.54 413.5,198.49 414.5,198.43 415.5,198.38 416.5,198.33 417.5,198.28 418.5,198.23 419.5,198.18 420.5,198.14 421.5,198.09 422.5,198.05 423.5,198.00 424.5,197.96 425.5,197.92 426.5,197.89 427.5,197.85 428.5,197.81 429.5,197.78 430.5,197.75 431.5,197.72 432.5,197.70 433.5,197.67 434.5,197.65 435.5,197.63 436.5,197.61 437.5,197.60 438.5,197.58 439.5,197.57 440.5,197.57 441.5,197.56 442.5,197.56 443.5,197.55 444.5,197.55 445.5,197.56 446.5,197.56 447.5,197.57 448.5,197.58 449.5,197.59 450.5,197.61 451.5,197.62 452.5,197.64 453.5,197.66 454.5,197.69 455.5,197.71 456.5,197.74 457.5,197.77 458.5,197.81 459.5,197.84 460.5,197.88 461.5,197.92 462.5,197.96 463.5,198.01 464.5,198.05 465.5,198.10 466.5,198.16 467.5,198.21 468.5,198.27 469.5,198.33 470.5,198.39 471.5,198.45 472.5,198.52 473.5,198.59 474.5,198.66 475.5,198.73 476.5,198.81 477.5,198.89 478.5,198.97 479.5,199.05 480.5,199.14 481.5,199.22 482.5,199.31 483.5,199.41 484.5,199.50 485.5,199.60 486.5,199.70 487.5,199.80 488.5,199.91 489.5,200.02 490.5,200.13 491.5,200.24 492.5,200.35 493.5,200.47 494.5,200.59 495.5,200.71 496.5,200.84 497.5,200.97 498.5,201.10 499.5,201.23 500.5,201.36 501.5,201.50 502.5,201.64 503.5,201.78 504.5,201.93 505.5,202.08 506.5,202.23 507.5,202.38 508.5,202.54 509.5,202.69 510.5,202.85 511.5,203.02 512.5,203.18 513.5,203.35 514.5,203.52 515.5,203.69 516.5,203.87 517.5,204.05 518.5,204.23 519.5,204.41 520.5,204.60 521.5,204.78 522.5,204.97 523.5,205.17" fill="none" stroke="#0d6c64" stroke-width="1.15"/><path d="M66.5,247.68 67.5,248.25 68.5,248.79 69.5,249.29 70.5,249.77 71.5,250.21 72.5,250.62 73.5,251.01 74.5,251.36 75.5,251.68 76.5,251.97 77.5,252.23 78.5,252.46 79.5,252.66 80.5,252.83 81.5,252.97 82.5,253.09 83.5,253.17 84.5,253.23 85.5,253.26 86.5,253.26 87.5,253.23 88.5,253.18 89.5,253.09 90.5,252.98 91.5,252.85 92.5,252.69 93.5,252.50 94.5,252.28 95.5,252.04 96.5,251.77 97.5,251.48 98.5,251.16 99.5,250.82 100.5,250.45 101.5,250.06 102.5,249.64 103.5,249.20 104.5,248.74 105.5,248.25 106.5,247.73 107.5,247.20 108.5,246.64 109.5,246.06 110.5,245.45 111.5,244.83 112.5,244.18 113.5,243.52 114.5,242.85 115.5,242.16 116.5,241.47 117.5,240.77 118.5,240.07 119.5,239.36 120.5,238.66 121.5,237.96 122.5,237.26 123.5,236.56 124.5,235.86 125.5,235.17 126.5,234.48 127.5,233.79 128.5,233.11 129.5,232.42 130.5,231.74 131.5,231.06 132.5,230.39 133.5,229.71 134.5,229.04 135.5,228.38 136.5,227.71 137.5,227.05 138.5,226.39 139.5,225.74 140.5,225.08 141.5,224.43 142.5,223.79 143.5,223.15 144.5,222.51 145.5,221.87 146.5,221.24 147.5,220.62 148.5,219.99 149.5,219.37 150.5,218.76 151.5,218.15 152.5,217.54 153.5,216.94 154.5,216.34 155.5,215.75 156.5,215.16 157.5,214.57 158.5,213.99 159.5,213.42 160.5,212.85 161.5,212.28 162.5,211.72 163.5,211.17 164.5,210.62 165.5,210.08 166.5,209.54 167.5,209.00 168.5,208.47 169.5,207.95 170.5,207.43 171.5,206.92 172.5,206.42 173.5,205.92 174.5,205.42 175.5,204.94 176.5,204.46 177.5,203.98 178.5,203.51 179.5,203.05 180.5,202.59 181.5,202.14 182.5,201.70 183.5,201.27 184.5,200.84 185.5,200.41 186.5,200.00 187.5,199.59 188.5,199.19 189.5,198.79 190.5,198.41 191.5,198.03 192.5,197.66 193.5,197.29 194.5,196.93 195.5,196.58 196.5,196.24 197.5,195.91 198.5,195.58 199.5,195.26 200.5,194.95 201.5,194.65 202.5,194.35 203.5,194.06 204.5,193.78 205.5,193.50 206.5,193.23 207.5,192.97 208.5,192.72 209.5,192.47 210.5,192.22 211.5,191.98 212.5,191.75 213.5,191.52 214.5,191.30 215.5,191.09 216.5,190.88 217.5,190.67 218.5,190.47 219.5,190.28 220.5,190.09 221.5,189.90 222.5,189.72 223.5,189.55 224.5,189.37 225.5,189.21 226.5,189.04 227.5,188.88 228.5,188.73 229.5,188.57 230.5,188.42 231.5,188.28 232.5,188.14 233.5,188.00 234.5,187.86 235.5,187.73 236.5,187.60 237.5,187.47 238.5,187.34 239.5,187.22 240.5,187.10 241.5,186.98 242.5,186.86 243.5,186.74 244.5,186.63 245.5,186.52 246.5,186.41 247.5,186.30 248.5,186.19 249.5,186.08 250.5,185.98 251.5,185.87 252.5,185.77 253.5,185.67 254.5,185.57 255.5,185.47 256.5,185.37 257.5,185.27 258.5,185.18 259.5,185.08 260.5,184.99 261.5,184.90 262.5,184.81 263.5,184.72 264.5,184.63 265.5,184.54 266.5,184.46 267.5,184.37 268.5,184.29 269.5,184.21 270.5,184.13 271.5,184.05 272.5,183.97 273.5,183.89 274.5,183.81 275.5,183.74 276.5,183.66 277.5,183.59 278.5,183.51 279.5,183.44 280.5,183.37 281.5,183.30 282.5,183.23 283.5,183.17 284.5,183.10 285.5,183.03 286.5,182.97 287.5,182.90 288.5,182.84 289.5,182.78 290.5,182.72 291.5,182.66 292.5,182.60 293.5,182.54 294.5,182.48 295.5,182.43 296.5,182.37 297.5,182.32 298.5,182.26 299.5,182.21 300.5,182.16 301.5,182.10 302.5,182.05 303.5,182.00 304.5,181.95 305.5,181.91 306.5,181.86 307.5,181.81 308.5,181.76 309.5,181.72 310.5,181.67 311.5,181.63 312.5,181.59 313.5,181.54 314.5,181.50 315.5,181.46 316.5,181.42 317.5,181.38 318.5,181.34 319.5,181.30 320.5,181.26 321.5,181.22 322.5,181.19 323.5,181.15 324.5,181.11 325.5,181.08 326.5,181.04 327.5,181.01 328.5,180.98 329.5,180.94 330.5,180.91 331.5,180.88 332.5,180.85 333.5,180.82 334.5,180.78 335.5,180.75 336.5,180.73 337.5,180.70 338.5,180.67 339.5,180.64 340.5,180.61 341.5,180.58 342.5,180.56 343.5,180.53 344.5,180.50 345.5,180.48 346.5,180.45 347.5,180.42 348.5,180.40 349.5,180.37 350.5,180.35 351.5,180.33 352.5,180.30 353.5,180.28 354.5,180.26 355.5,180.23 356.5,180.21 357.5,180.19 358.5,180.17 359.5,180.14 360.5,180.12 361.5,180.10 362.5,180.08 363.5,180.06 364.5,180.04 365.5,180.02 366.5,179.99 367.5,179.97 368.5,179.95 369.5,179.93 370.5,179.91 371.5,179.89 372.5,179.87 373.5,179.85 374.5,179.83 375.5,179.81 376.5,179.79 377.5,179.77 378.5,179.75 379.5,179.73 380.5,179.72 381.5,179.70 382.5,179.68 383.5,179.66 384.5,179.64 385.5,179.62 386.5,179.60 387.5,179.58 388.5,179.56 389.5,179.54 390.5,179.52 391.5,179.50 392.5,179.48 393.5,179.46 394.5,179.44 395.5,179.42 396.5,179.40 397.5,179.37 398.5,179.35 399.5,179.33 400.5,179.31 401.5,179.29 402.5,179.27 403.5,179.25 404.5,179.22 405.5,179.20 406.5,179.18 407.5,179.16 408.5,179.13 409.5,179.11 410.5,179.09 411.5,179.06 412.5,179.04 413.5,179.01 414.5,178.99 415.5,178.96 416.5,178.94 417.5,178.91 418.5,178.89 419.5,178.86 420.5,178.84 421.5,178.81 422.5,178.79 423.5,178.76 424.5,178.74 425.5,178.72 426.5,178.70 427.5,178.67 428.5,178.65 429.5,178.63 430.5,178.62 431.5,178.60 432.5,178.58 433.5,178.57 434.5,178.56 435.5,178.55 436.5,178.54 437.5,178.53 438.5,178.52 439.5,178.52 440.5,178.52 441.5,178.52 442.5,178.52 443.5,178.53 444.5,178.53 445.5,178.54 446.5,178.55 447.5,178.57 448.5,178.59 449.5,178.61 450.5,178.63 451.5,178.66 452.5,178.68 453.5,178.72 454.5,178.75 455.5,178.79 456.5,178.83 457.5,178.88 458.5,178.93 459.5,178.98 460.5,179.04 461.5,179.10 462.5,179.16 463.5,179.23 464.5,179.31 465.5,179.38 466.5,179.47 467.5,179.55 468.5,179.64 469.5,179.74 470.5,179.84 471.5,179.94 472.5,180.05 473.5,180.17 474.5,180.29 475.5,180.41 476.5,180.54 477.5,180.68 478.5,180.82 479.5,180.96 480.5,181.12 481.5,181.27 482.5,181.44 483.5,181.61 484.5,181.78 485.5,181.96 486.5,182.15 487.5,182.34 488.5,182.54 489.5,182.75 490.5,182.96 491.5,183.18 492.5,183.41 493.5,183.64 494.5,183.88 495.5,184.12 496.5,184.38 497.5,184.64 498.5,184.91 499.5,185.18 500.5,185.46 501.5,185.75 502.5,186.05 503.5,186.36 504.5,186.67 505.5,186.99 506.5,187.32 507.5,187.66 508.5,188.00 509.5,188.35 510.5,188.71 511.5,189.08 512.5,189.46 513.5,189.85 514.5,190.24 515.5,190.65 516.5,191.06 517.5,191.48 518.5,191.91 519.5,192.35 520.5,192.80 521.5,193.26 522.5,193.73 523.5,194.21" fill="none" stroke="#5c390f" stroke-width="1.15"/><path d="M66.5,240.91 67.5,241.73 68.5,242.48 69.5,243.16 70.5,243.79 71.5,244.35 72.5,244.84 73.5,245.28 74.5,245.66 75.5,245.99 76.5,246.26 77.5,246.47 78.5,246.63 79.5,246.74 80.5,246.81 81.5,246.82 82.5,246.79 83.5,246.71 84.5,246.59 85.5,246.42 86.5,246.21 87.5,245.97 88.5,245.68 89.5,245.36 90.5,245.00 91.5,244.61 92.5,244.19 93.5,243.73 94.5,243.24 95.5,242.73 96.5,242.19 97.5,241.62 98.5,241.03 99.5,240.41 100.5,239.78 101.5,239.12 102.5,238.45 103.5,237.75 104.5,237.04 105.5,236.32 106.5,235.58 107.5,234.82 108.5,234.06 109.5,233.28 110.5,232.48 111.5,231.68 112.5,230.87 113.5,230.04 114.5,229.21 115.5,228.37 116.5,227.52 117.5,226.67 118.5,225.81 119.5,224.95 120.5,224.08 121.5,223.20 122.5,222.33 123.5,221.45 124.5,220.57 125.5,219.69 126.5,218.81 127.5,217.93 128.5,217.05 129.5,216.17 130.5,215.29 131.5,214.42 132.5,213.55 133.5,212.68 134.5,211.81 135.5,210.95 136.5,210.10 137.5,209.24 138.5,208.40 139.5,207.56 140.5,206.73 141.5,205.90 142.5,205.08 143.5,204.27 144.5,203.47 145.5,202.68 146.5,201.90 147.5,201.13 148.5,200.36 149.5,199.61 150.5,198.88 151.5,198.15 152.5,197.43 153.5,196.73 154.5,196.04 155.5,195.35 156.5,194.68 157.5,194.03 158.5,193.38 159.5,192.74 160.5,192.12 161.5,191.50 162.5,190.90 163.5,190.30 164.5,189.72 165.5,189.15 166.5,188.58 167.5,188.03 168.5,187.49 169.5,186.95 170.5,186.43 171.5,185.92 172.5,185.42 173.5,184.92 174.5,184.44 175.5,183.96 176.5,183.50 177.5,183.04 178.5,182.59 179.5,182.15 180.5,181.72 181.5,181.30 182.5,180.89 183.5,180.49 184.5,180.09 185.5,179.71 186.5,179.33 187.5,178.96 188.5,178.59 189.5,178.24 190.5,177.89 191.5,177.55 192.5,177.22 193.5,176.90 194.5,176.58 195.5,176.27 196.5,175.97 197.5,175.68 198.5,175.39 199.5,175.11 200.5,174.84 201.5,174.57 202.5,174.31 203.5,174.06 204.5,173.81 205.5,173.57 206.5,173.33 207.5,173.11 208.5,172.88 209.5,172.67 210.5,172.46 211.5,172.25 212.5,172.05 213.5,171.86 214.5,171.67 215.5,171.49 216.5,171.31 217.5,171.14 218.5,170.97 219.5,170.81 220.5,170.65 221.5,170.50 222.5,170.35 223.5,170.21 224.5,170.07 225.5,169.93 226.5,169.80 227.5,169.67 228.5,169.55 229.5,169.43 230.5,169.32 231.5,169.21 232.5,169.10 233.5,169.00 234.5,168.90 235.5,168.80 236.5,168.71 237.5,168.61 238.5,168.53 239.5,168.44 240.5,168.36 241.5,168.28 242.5,168.20 243.5,168.13 244.5,168.06 245.5,167.99 246.5,167.92 247.5,167.86 248.5,167.80 249.5,167.74 250.5,167.68 251.5,167.62 252.5,167.57 253.5,167.51 254.5,167.46 255.5,167.41 256.5,167.37 257.5,167.32 258.5,167.28 259.5,167.23 260.5,167.19 261.5,167.15 262.5,167.12 263.5,167.08 264.5,167.04 265.5,167.01 266.5,166.98 267.5,166.95 268.5,166.92 269.5,166.89 270.5,166.86 271.5,166.83 272.5,166.81 273.5,166.78 274.5,166.76 275.5,166.73 276.5,166.71 277.5,166.69 278.5,166.67 279.5,166.65 280.5,166.63 281.5,166.61 282.5,166.59 283.5,166.57 284.5,166.55 285.5,166.54 286.5,166.52 287.5,166.50 288.5,166.48 289.5,166.47 290.5,166.45 291.5,166.43 292.5,166.42 293.5,166.40 294.5,166.38 295.5,166.37 296.5,166.35 297.5,166.33 298.5,166.32 299.5,166.30 300.5,166.28 301.5,166.26 302.5,166.24 303.5,166.22 304.5,166.20 305.5,166.18 306.5,166.16 307.5,166.14 308.5,166.12 309.5,166.09 310.5,166.07 311.5,166.04 312.5,166.02 313.5,165.99 314.5,165.96 315.5,165.93 316.5,165.90 317.5,165.87 318.5,165.84 319.5,165.81 320.5,165.77 321.5,165.73 322.5,165.70 323.5,165.66 324.5,165.62 325.5,165.57 326.5,165.53 327.5,165.48 328.5,165.44 329.5,165.39 330.5,165.34 331.5,165.28 332.5,165.23 333.5,165.17 334.5,165.11 335.5,165.05 336.5,164.99 337.5,164.93 338.5,164.86 339.5,164.79 340.5,164.72 341.5,164.64 342.5,164.57 343.5,164.49 344.5,164.41 345.5,164.33 346.5,164.24 347.5,164.16 348.5,164.07 349.5,163.98 350.5,163.89 351.5,163.79 352.5,163.70 353.5,163.60 354.5,163.50 355.5,163.40 356.5,163.30 357.5,163.20 358.5,163.09 359.5,162.99 360.5,162.88 361.5,162.77 362.5,162.66 363.5,162.55 364.5,162.44 365.5,162.33 366.5,162.21 367.5,162.10 368.5,161.99 369.5,161.87 370.5,161.75 371.5,161.64 372.5,161.52 373.5,161.40 374.5,161.28 375.5,161.16 376.5,161.04 377.5,160.92 378.5,160.80 379.5,160.68 380.5,160.56 381.5,160.44 382.5,160.32 383.5,160.20 384.5,160.08 385.5,159.96 386.5,159.84 387.5,159.72 388.5,159.60 389.5,159.48 390.5,159.37 391.5,159.25 392.5,159.13 393.5,159.01 394.5,158.90 395.5,158.78 396.5,158.67 397.5,158.55 398.5,158.44 399.5,158.33 400.5,158.21 401.5,158.10 402.5,157.99 403.5,157.89 404.5,157.78 405.5,157.67 406.5,157.57 407.5,157.47 408.5,157.36 409.5,157.26 410.5,157.17 411.5,157.07 412.5,156.97 413.5,156.88 414.5,156.79 415.5,156.70 416.5,156.61 417.5,156.52 418.5,156.44 419.5,156.36 420.5,156.28 421.5,156.20 422.5,156.12 423.5,156.05 424.5,155.98 425.5,155.92 426.5,155.85 427.5,155.79 428.5,155.73 429.5,155.67 430.5,155.62 431.5,155.57 432.5,155.53 433.5,155.48 434.5,155.44 435.5,155.41 436.5,155.38 437.5,155.35 438.5,155.32 439.5,155.30 440.5,155.28 441.5,155.27 442.5,155.26 443.5,155.26 444.5,155.26 445.5,155.26 446.5,155.27 447.5,155.28 448.5,155.30 449.5,155.32 450.5,155.35 451.5,155.38 452.5,155.42 453.5,155.46 454.5,155.50 455.5,155.56 456.5,155.61 457.5,155.67 458.5,155.74 459.5,155.82 460.5,155.90 461.5,155.98 462.5,156.07 463.5,156.17 464.5,156.27 465.5,156.38 466.5,156.49 467.5,156.61 468.5,156.74 469.5,156.87 470.5,157.01 471.5,157.16 472.5,157.31 473.5,157.47 474.5,157.64 475.5,157.81 476.5,157.99 477.5,158.18 478.5,158.37 479.5,158.57 480.5,158.78 481.5,159.00 482.5,159.22 483.5,159.45 484.5,159.69 485.5,159.94 486.5,160.19 487.5,160.45 488.5,160.72 489.5,161.00 490.5,161.29 491.5,161.58 492.5,161.89 493.5,162.20 494.5,162.52 495.5,162.84 496.5,163.18 497.5,163.53 498.5,163.88 499.5,164.24 500.5,164.61 501.5,165.00 502.5,165.39 503.5,165.79 504.5,166.19 505.5,166.61 506.5,167.04 507.5,167.48 508.5,167.92 509.5,168.38 510.5,168.85 511.5,169.32 512.5,169.81 513.5,170.30 514.5,170.81 515.5,171.33 516.5,171.85 517.5,172.39 518.5,172.94 519.5,173.50 520.5,174.07 521.5,174.64 522.5,175.23 523.5,175.84" fill="none" stroke="#9f44d9" stroke-width="1.15"/><path d="M66.5,232.32 67.5,233.54 68.5,234.64 69.5,235.62 70.5,236.48 71.5,237.23 72.5,237.87 73.5,238.40 74.5,238.82 75.5,239.15 76.5,239.37 77.5,239.50 78.5,239.54 79.5,239.49 80.5,239.36 81.5,239.15 82.5,238.86 83.5,238.49 84.5,238.05 85.5,237.55 86.5,236.98 87.5,236.35 88.5,235.66 89.5,234.92 90.5,234.12 91.5,233.28 92.5,232.40 93.5,231.47 94.5,230.50 95.5,229.50 96.5,228.46 97.5,227.39 98.5,226.29 99.5,225.17 100.5,224.02 101.5,222.84 102.5,221.65 103.5,220.44 104.5,219.21 105.5,217.97 106.5,216.72 107.5,215.46 108.5,214.20 109.5,212.93 110.5,211.66 111.5,210.40 112.5,209.13 113.5,207.88 114.5,206.62 115.5,205.38 116.5,204.14 117.5,202.90 118.5,201.68 119.5,200.46 120.5,199.24 121.5,198.04 122.5,196.84 123.5,195.66 124.5,194.48 125.5,193.31 126.5,192.15 127.5,190.99 128.5,189.85 129.5,188.72 130.5,187.61 131.5,186.50 132.5,185.40 133.5,184.32 134.5,183.25 135.5,182.19 136.5,181.14 137.5,180.11 138.5,179.09 139.5,178.09 140.5,177.10 141.5,176.12 142.5,175.16 143.5,174.22 144.5,173.29 145.5,172.38 146.5,171.48 147.5,170.60 148.5,169.74 149.5,168.89 150.5,168.07 151.5,167.26 152.5,166.47 153.5,165.69 154.5,164.93 155.5,164.19 156.5,163.47 157.5,162.76 158.5,162.07 159.5,161.39 160.5,160.73 161.5,160.09 162.5,159.46 163.5,158.85 164.5,158.25 165.5,157.66 166.5,157.09 167.5,156.54 168.5,156.00 169.5,155.48 170.5,154.97 171.5,154.47 172.5,153.98 173.5,153.51 174.5,153.06 175.5,152.62 176.5,152.18 177.5,151.77 178.5,151.36 179.5,150.97 180.5,150.59 181.5,150.22 182.5,149.87 183.5,149.52 184.5,149.19 185.5,148.87 186.5,148.56 187.5,148.27 188.5,147.98 189.5,147.70 190.5,147.44 191.5,147.18 192.5,146.94 193.5,146.70 194.5,146.47 195.5,146.26 196.5,146.05 197.5,145.86 198.5,145.67 199.5,145.49 200.5,145.32 201.5,145.16 202.5,145.01 203.5,144.86 204.5,144.73 205.5,144.60 206.5,144.48 207.5,144.37 208.5,144.26 209.5,144.16 210.5,144.07 211.5,143.99 212.5,143.91 213.5,143.84 214.5,143.78 215.5,143.72 216.5,143.67 217.5,143.62 218.5,143.58 219.5,143.54 220.5,143.51 221.5,143.49 222.5,143.47 223.5,143.45 224.5,143.44 225.5,143.44 226.5,143.44 227.5,143.44 228.5,143.45 229.5,143.46 230.5,143.47 231.5,143.49 232.5,143.51 233.5,143.53 234.5,143.56 235.5,143.58 236.5,143.62 237.5,143.65 238.5,143.68 239.5,143.72 240.5,143.76 241.5,143.80 242.5,143.85 243.5,143.89 244.5,143.93 245.5,143.98 246.5,144.03 247.5,144.07 248.5,144.12 249.5,144.17 250.5,144.22 251.5,144.27 252.5,144.32 253.5,144.37 254.5,144.42 255.5,144.47 256.5,144.52 257.5,144.57 258.5,144.62 259.5,144.67 260.5,144.73 261.5,144.78 262.5,144.83 263.5,144.88 264.5,144.93 265.5,144.98 266.5,145.03 267.5,145.08 268.5,145.13 269.5,145.18 270.5,145.23 271.5,145.28 272.5,145.33 273.5,145.38 274.5,145.43 275.5,145.47 276.5,145.52 277.5,145.57 278.5,145.61 279.5,145.65 280.5,145.70 281.5,145.74 282.5,145.78 283.5,145.82 284.5,145.86 285.5,145.90 286.5,145.93 287.5,145.97 288.5,146.01 289.5,146.04 290.5,146.07 291.5,146.10 292.5,146.13 293.5,146.16 294.5,146.18 295.5,146.21 296.5,146.23 297.5,146.25 298.5,146.27 299.5,146.29 300.5,146.31 301.5,146.32 302.5,146.34 303.5,146.35 304.5,146.36 305.5,146.36 306.5,146.37 307.5,146.37 308.5,146.37 309.5,146.37 310.5,146.37 311.5,146.36 312.5,146.35 313.5,146.34 314.5,146.33 315.5,146.32 316.5,146.30 317.5,146.28 318.5,146.25 319.5,146.23 320.5,146.20 321.5,146.17 322.5,146.14 323.5,146.10 324.5,146.06 325.5,146.02 326.5,145.97 327.5,145.93 328.5,145.87 329.5,145.82 330.5,145.76 331.5,145.70 332.5,145.64 333.5,145.57 334.5,145.50 335.5,145.43 336.5,145.35 337.5,145.27 338.5,145.19 339.5,145.10 340.5,145.01 341.5,144.91 342.5,144.82 343.5,144.71 344.5,144.61 345.5,144.50 346.5,144.39 347.5,144.28 348.5,144.16 349.5,144.04 350.5,143.92 351.5,143.79 352.5,143.66 353.5,143.53 354.5,143.40 355.5,143.26 356.5,143.12 357.5,142.98 358.5,142.84 359.5,142.70 360.5,142.55 361.5,142.40 362.5,142.25 363.5,142.10 364.5,141.95 365.5,141.79 366.5,141.63 367.5,141.48 368.5,141.32 369.5,141.16 370.5,140.99 371.5,140.83 372.5,140.67 373.5,140.50 374.5,140.34 375.5,140.17 376.5,140.01 377.5,139.84 378.5,139.67 379.5,139.51 380.5,139.34 381.5,139.17 382.5,139.00 383.5,138.84 384.5,138.67 385.5,138.50 386.5,138.33 387.5,138.17 388.5,138.00 389.5,137.83 390.5,137.67 391.5,137.50 392.5,137.34 393.5,137.18 394.5,137.02 395.5,136.85 396.5,136.70 397.5,136.54 398.5,136.38 399.5,136.22 400.5,136.07 401.5,135.92 402.5,135.77 403.5,135.62 404.5,135.47 405.5,135.32 406.5,135.18 407.5,135.04 408.5,134.90 409.5,134.76 410.5,134.63 411.5,134.50 412.5,134.37 413.5,134.24 414.5,134.11 415.5,133.99 416.5,133.87 417.5,133.76 418.5,133.65 419.5,133.54 420.5,133.43 421.5,133.33 422.5,133.23 423.5,133.13 424.5,133.04 425.5,132.95 426.5,132.87 427.5,132.79 428.5,132.72 429.5,132.64 430.5,132.58 431.5,132.51 432.5,132.46 433.5,132.40 434.5,132.35 435.5,132.31 436.5,132.27 437.5,132.24 438.5,132.21 439.5,132.19 440.5,132.17 441.5,132.16 442.5,132.15 443.5,132.15 444.5,132.16 445.5,132.17 446.5,132.18 447.5,132.21 448.5,132.24 449.5,132.27 450.5,132.31 451.5,132.36 452.5,132.42 453.5,132.48 454.5,132.55 455.5,132.63 456.5,132.71 457.5,132.80 458.5,132.90 459.5,133.00 460.5,133.11 461.5,133.23 462.5,133.36 463.5,133.50 464.5,133.64 465.5,133.79 466.5,133.95 467.5,134.12 468.5,134.30 469.5,134.48 470.5,134.67 471.5,134.87 472.5,135.09 473.5,135.30 474.5,135.53 475.5,135.77 476.5,136.02 477.5,136.27 478.5,136.54 479.5,136.81 480.5,137.10 481.5,137.39 482.5,137.69 483.5,138.01 484.5,138.33 485.5,138.66 486.5,139.01 487.5,139.36 488.5,139.73 489.5,140.10 490.5,140.49 491.5,140.88 492.5,141.29 493.5,141.71 494.5,142.14 495.5,142.58 496.5,143.03 497.5,143.49 498.5,143.97 499.5,144.45 500.5,144.95 501.5,145.46 502.5,145.98 503.5,146.52 504.5,147.06 505.5,147.62 506.5,148.19 507.5,148.77 508.5,149.37 509.5,149.97 510.5,150.59 511.5,151.23 512.5,151.87 513.5,152.53 514.5,153.20 515.5,153.89 516.5,154.58 517.5,155.30 518.5,156.02 519.5,156.76 520.5,157.51 521.5,158.28 522.5,159.06 523.5,159.86" fill="none" stroke="#899830" stroke-width="1.15"/><path d="M66.5,228.79 67.5,230.16 68.5,231.38 69.5,232.45 70.5,233.37 71.5,234.14 72.5,234.78 73.5,235.29 74.5,235.66 75.5,235.91 76.5,236.04 77.5,236.05 78.5,235.95 79.5,235.73 80.5,235.42 81.5,235.00 82.5,234.48 83.5,233.88 84.5,233.18 85.5,232.40 86.5,231.55 87.5,230.61 88.5,229.61 89.5,228.53 90.5,227.40 91.5,226.20 92.5,224.95 93.5,223.65 94.5,222.31 95.5,220.92 96.5,219.50 97.5,218.04 98.5,216.55 99.5,215.04 100.5,213.50 101.5,211.95 102.5,210.38 103.5,208.81 104.5,207.23 105.5,205.66 106.5,204.08 107.5,202.52 108.5,200.97 109.5,199.43 110.5,197.92 111.5,196.43 112.5,194.97 113.5,193.54 114.5,192.14 115.5,190.78 116.5,189.45 117.5,188.14 118.5,186.86 119.5,185.59 120.5,184.35 121.5,183.12 122.5,181.91 123.5,180.71 124.5,179.52 125.5,178.33 126.5,177.16 127.5,175.99 128.5,174.83 129.5,173.67 130.5,172.52 131.5,171.38 132.5,170.25 133.5,169.12 134.5,168.00 135.5,166.88 136.5,165.77 137.5,164.66 138.5,163.56 139.5,162.46 140.5,161.37 141.5,160.29 142.5,159.21 143.5,158.13 144.5,157.06 145.5,156.00 146.5,154.95 147.5,153.91 148.5,152.88 149.5,151.87 150.5,150.87 151.5,149.88 152.5,148.92 153.5,147.98 154.5,147.05 155.5,146.15 156.5,145.27 157.5,144.42 158.5,143.60 159.5,142.80 160.5,142.03 161.5,141.29 162.5,140.58 163.5,139.90 164.5,139.24 165.5,138.61 166.5,138.01 167.5,137.43 168.5,136.87 169.5,136.34 170.5,135.82 171.5,135.33 172.5,134.85 173.5,134.40 174.5,133.96 175.5,133.54 176.5,133.14 177.5,132.75 178.5,132.37 179.5,132.01 180.5,131.66 181.5,131.32 182.5,130.99 183.5,130.67 184.5,130.36 185.5,130.06 186.5,129.77 187.5,129.49 188.5,129.22 189.5,128.96 190.5,128.71 191.5,128.47 192.5,128.23 193.5,128.01 194.5,127.79 195.5,127.58 196.5,127.38 197.5,127.19 198.5,127.00 199.5,126.83 200.5,126.66 201.5,126.49 202.5,126.34 203.5,126.19 204.5,126.05 205.5,125.92 206.5,125.79 207.5,125.67 208.5,125.55 209.5,125.45 210.5,125.34 211.5,125.25 212.5,125.15 213.5,125.07 214.5,124.99 215.5,124.91 216.5,124.84 217.5,124.78 218.5,124.72 219.5,124.66 220.5,124.61 221.5,124.56 222.5,124.52 223.5,124.48 224.5,124.45 225.5,124.42 226.5,124.39 227.5,124.36 228.5,124.34 229.5,124.32 230.5,124.31 231.5,124.30 232.5,124.29 233.5,124.28 234.5,124.27 235.5,124.27 236.5,124.27 237.5,124.27 238.5,124.27 239.5,124.27 240.5,124.28 241.5,124.28 242.5,124.29 243.5,124.30 244.5,124.30 245.5,124.31 246.5,124.32 247.5,124.33 248.5,124.34 249.5,124.35 250.5,124.36 251.5,124.37 252.5,124.38 253.5,124.39 254.5,124.40 255.5,124.41 256.5,124.42 257.5,124.43 258.5,124.44 259.5,124.45 260.5,124.46 261.5,124.47 262.5,124.48 263.5,124.49 264.5,124.50 265.5,124.51 266.5,124.51 267.5,124.52 268.5,124.53 269.5,124.53 270.5,124.54 271.5,124.54 272.5,124.55 273.5,124.55 274.5,124.55 275.5,124.55 276.5,124.55 277.5,124.55 278.5,124.55 279.5,124.55 280.5,124.55 281.5,124.54 282.5,124.54 283.5,124.53 284.5,124.52 285.5,124.52 286.5,124.51 287.5,124.49 288.5,124.48 289.5,124.47 290.5,124.45 291.5,124.44 292.5,124.42 293.5,124.40 294.5,124.38 295.5,124.35 296.5,124.33 297.5,124.30 298.5,124.27 299.5,124.24 300.5,124.21 301.5,124.18 302.5,124.14 303.5,124.11 304.5,124.07 305.5,124.03 306.5,123.98 307.5,123.94 308.5,123.89 309.5,123.84 310.5,123.79 311.5,123.73 312.5,123.68 313.5,123.62 314.5,123.56 315.5,123.49 316.5,123.43 317.5,123.36 318.5,123.29 319.5,123.22 320.5,123.14 321.5,123.06 322.5,122.98 323.5,122.90 324.5,122.81 325.5,122.72 326.5,122.63 327.5,122.53 328.5,122.43 329.5,122.33 330.5,122.23 331.5,122.12 332.5,122.01 333.5,121.90 334.5,121.78 335.5,121.66 336.5,121.54 337.5,121.41 338.5,121.28 339.5,121.15 340.5,121.01 341.5,120.87 342.5,120.73 343.5,120.59 344.5,120.44 345.5,120.28 346.5,120.13 347.5,119.97 348.5,119.81 349.5,119.65 350.5,119.49 351.5,119.32 352.5,119.15 353.5,118.98 354.5,118.80 355.5,118.63 356.5,118.45 357.5,118.27 358.5,118.10 359.5,117.91 360.5,117.73 361.5,117.55 362.5,117.37 363.5,117.18 364.5,116.99 365.5,116.81 366.5,116.62 367.5,116.44 368.5,116.25 369.5,116.06 370.5,115.87 371.5,115.69 372.5,115.50 373.5,115.31 374.5,115.13 375.5,114.94 376.5,114.76 377.5,114.57 378.5,114.39 379.5,114.21 380.5,114.02 381.5,113.84 382.5,113.67 383.5,113.49 384.5,113.31 385.5,113.14 386.5,112.97 387.5,112.80 388.5,112.63 389.5,112.47 390.5,112.30 391.5,112.14 392.5,111.98 393.5,111.83 394.5,111.68 395.5,111.53 396.5,111.38 397.5,111.24 398.5,111.10 399.5,110.96 400.5,110.83 401.5,110.70 402.5,110.57 403.5,110.45 404.5,110.33 405.5,110.22 406.5,110.11 407.5,110.00 408.5,109.90 409.5,109.80 410.5,109.71 411.5,109.62 412.5,109.54 413.5,109.47 414.5,109.39 415.5,109.33 416.5,109.26 417.5,109.21 418.5,109.16 419.5,109.11 420.5,109.08 421.5,109.04 422.5,109.02 423.5,109.00 424.5,108.98 425.5,108.97 426.5,108.97 427.5,108.98 428.5,108.99 429.5,109.01 430.5,109.03 431.5,109.07 432.5,109.11 433.5,109.16 434.5,109.21 435.5,109.27 436.5,109.34 437.5,109.42 438.5,109.51 439.5,109.60 440.5,109.71 441.5,109.82 442.5,109.93 443.5,110.06 444.5,110.19 445.5,110.34 446.5,110.49 447.5,110.65 448.5,110.82 449.5,110.99 450.5,111.18 451.5,111.37 452.5,111.58 453.5,111.79 454.5,112.01 455.5,112.24 456.5,112.48 457.5,112.72 458.5,112.98 459.5,113.25 460.5,113.52 461.5,113.81 462.5,114.10 463.5,114.41 464.5,114.72 465.5,115.04 466.5,115.38 467.5,115.72 468.5,116.07 469.5,116.44 470.5,116.81 471.5,117.19 472.5,117.58 473.5,117.99 474.5,118.40 475.5,118.82 476.5,119.26 477.5,119.70 478.5,120.16 479.5,120.62 480.5,121.10 481.5,121.59 482.5,122.09 483.5,122.60 484.5,123.12 485.5,123.65 486.5,124.19 487.5,124.74 488.5,125.31 489.5,125.88 490.5,126.47 491.5,127.07 492.5,127.68 493.5,128.30 494.5,128.94 495.5,129.58 496.5,130.24 497.5,130.91 498.5,131.59 499.5,132.28 500.5,132.99 501.5,133.71 502.5,134.43 503.5,135.18 504.5,135.93 505.5,136.70 506.5,137.48 507.5,138.27 508.5,139.07 509.5,139.89 510.5,140.72 511.5,141.56 512.5,142.42 513.5,143.28 514.5,144.17 515.5,145.06 516.5,145.97 517.5,146.89 518.5,147.82 519.5,148.77 520.5,149.73 521.5,150.71 522.5,151.69 523.5,152.70" fill="none" stroke="#379ef8" stroke-width="1.15"/><path d="M66.5,224.92 67.5,226.74 68.5,228.27 69.5,229.52 70.5,230.51 71.5,231.26 72.5,231.78 73.5,232.09 74.5,232.20 75.5,232.14 76.5,231.92 77.5,231.53 78.5,231.00 79.5,230.34 80.5,229.55 81.5,228.65 82.5,227.64 83.5,226.55 84.5,225.37 85.5,224.12 86.5,222.81 87.5,221.45 88.5,220.05 89.5,218.62 90.5,217.18 91.5,215.73 92.5,214.28 93.5,212.83 94.5,211.38 95.5,209.91 96.5,208.41 97.5,206.89 98.5,205.34 99.5,203.78 100.5,202.19 101.5,200.59 102.5,198.97 103.5,197.34 104.5,195.70 105.5,194.05 106.5,192.39 107.5,190.72 108.5,189.05 109.5,187.38 110.5,185.71 111.5,184.05 112.5,182.38 113.5,180.73 114.5,179.08 115.5,177.44 116.5,175.82 117.5,174.21 118.5,172.62 119.5,171.04 120.5,169.49 121.5,167.95 122.5,166.44 123.5,164.95 124.5,163.48 125.5,162.04 126.5,160.63 127.5,159.24 128.5,157.88 129.5,156.54 130.5,155.23 131.5,153.95 132.5,152.68 133.5,151.44 134.5,150.23 135.5,149.04 136.5,147.87 137.5,146.73 138.5,145.61 139.5,144.51 140.5,143.43 141.5,142.38 142.5,141.35 143.5,140.34 144.5,139.36 145.5,138.39 146.5,137.45 147.5,136.52 148.5,135.62 149.5,134.74 150.5,133.88 151.5,133.04 152.5,132.21 153.5,131.41 154.5,130.63 155.5,129.87 156.5,129.12 157.5,128.40 158.5,127.69 159.5,127.00 160.5,126.33 161.5,125.68 162.5,125.04 163.5,124.42 164.5,123.82 165.5,123.23 166.5,122.67 167.5,122.11 168.5,121.58 169.5,121.06 170.5,120.56 171.5,120.07 172.5,119.59 173.5,119.13 174.5,118.69 175.5,118.26 176.5,117.85 177.5,117.45 178.5,117.06 179.5,116.69 180.5,116.32 181.5,115.98 182.5,115.64 183.5,115.32 184.5,115.01 185.5,114.72 186.5,114.43 187.5,114.16 188.5,113.90 189.5,113.64 190.5,113.41 191.5,113.18 192.5,112.96 193.5,112.75 194.5,112.55 195.5,112.36 196.5,112.19 197.5,112.02 198.5,111.86 199.5,111.71 200.5,111.56 201.5,111.43 202.5,111.30 203.5,111.19 204.5,111.08 205.5,110.97 206.5,110.88 207.5,110.79 208.5,110.71 209.5,110.63 210.5,110.57 211.5,110.50 212.5,110.45 213.5,110.40 214.5,110.35 215.5,110.31 216.5,110.28 217.5,110.25 218.5,110.22 219.5,110.20 220.5,110.18 221.5,110.17 222.5,110.16 223.5,110.15 224.5,110.15 225.5,110.15 226.5,110.15 227.5,110.15 228.5,110.16 229.5,110.17 230.5,110.18 231.5,110.20 232.5,110.22 233.5,110.23 234.5,110.26 235.5,110.28 236.5,110.31 237.5,110.33 238.5,110.36 239.5,110.39 240.5,110.43 241.5,110.46 242.5,110.50 243.5,110.53 244.5,110.57 245.5,110.61 246.5,110.65 247.5,110.69 248.5,110.74 249.5,110.78 250.5,110.82 251.5,110.87 252.5,110.92 253.5,110.96 254.5,111.01 255.5,111.06 256.5,111.10 257.5,111.15 258.5,111.20 259.5,111.25 260.5,111.30 261.5,111.35 262.5,111.39 263.5,111.44 264.5,111.49 265.5,111.54 266.5,111.58 267.5,111.63 268.5,111.67 269.5,111.72 270.5,111.76 271.5,111.80 272.5,111.85 273.5,111.89 274.5,111.93 275.5,111.97 276.5,112.00 277.5,112.04 278.5,112.07 279.5,112.10 280.5,112.14 281.5,112.17 282.5,112.19 283.5,112.22 284.5,112.24 285.5,112.26 286.5,112.28 287.5,112.30 288.5,112.31 289.5,112.33 290.5,112.34 291.5,112.34 292.5,112.35 293.5,112.35 294.5,112.35 295.5,112.35 296.5,112.34 297.5,112.33 298.5,112.32 299.5,112.30 300.5,112.28 301.5,112.26 302.5,112.23 303.5,112.20 304.5,112.17 305.5,112.13 306.5,112.09 307.5,112.05 308.5,112.00 309.5,111.95 310.5,111.89 311.5,111.83 312.5,111.77 313.5,111.70 314.5,111.62 315.5,111.54 316.5,111.46 317.5,111.37 318.5,111.28 319.5,111.18 320.5,111.08 321.5,110.97 322.5,110.86 323.5,110.74 324.5,110.62 325.5,110.50 326.5,110.37 327.5,110.24 328.5,110.10 329.5,109.96 330.5,109.81 331.5,109.67 332.5,109.51 333.5,109.36 334.5,109.20 335.5,109.04 336.5,108.87 337.5,108.70 338.5,108.53 339.5,108.36 340.5,108.18 341.5,108.00 342.5,107.82 343.5,107.64 344.5,107.45 345.5,107.27 346.5,107.08 347.5,106.89 348.5,106.69 349.5,106.50 350.5,106.30 351.5,106.10 352.5,105.90 353.5,105.70 354.5,105.50 355.5,105.30 356.5,105.09 357.5,104.89 358.5,104.68 359.5,104.48 360.5,104.27 361.5,104.07 362.5,103.86 363.5,103.65 364.5,103.45 365.5,103.24 366.5,103.03 367.5,102.83 368.5,102.62 369.5,102.42 370.5,102.21 371.5,102.01 372.5,101.80 373.5,101.60 374.5,101.40 375.5,101.20 376.5,101.00 377.5,100.81 378.5,100.61 379.5,100.42 380.5,100.22 381.5,100.03 382.5,99.85 383.5,99.66 384.5,99.48 385.5,99.29 386.5,99.11 387.5,98.94 388.5,98.76 389.5,98.59 390.5,98.42 391.5,98.26 392.5,98.10 393.5,97.94 394.5,97.78 395.5,97.63 396.5,97.48 397.5,97.33 398.5,97.19 399.5,97.05 400.5,96.92 401.5,96.79 402.5,96.66 403.5,96.54 404.5,96.42 405.5,96.31 406.5,96.20 407.5,96.10 408.5,96.00 409.5,95.91 410.5,95.82 411.5,95.74 412.5,95.66 413.5,95.58 414.5,95.52 415.5,95.46 416.5,95.40 417.5,95.35 418.5,95.31 419.5,95.27 420.5,95.24 421.5,95.21 422.5,95.19 423.5,95.18 424.5,95.17 425.5,95.17 426.5,95.18 427.5,95.19 428.5,95.22 429.5,95.24 430.5,95.28 431.5,95.32 432.5,95.37 433.5,95.43 434.5,95.50 435.5,95.57 436.5,95.66 437.5,95.75 438.5,95.85 439.5,95.95 440.5,96.07 441.5,96.19 442.5,96.33 443.5,96.47 444.5,96.62 445.5,96.78 446.5,96.95 447.5,97.13 448.5,97.31 449.5,97.51 450.5,97.72 451.5,97.94 452.5,98.16 453.5,98.40 454.5,98.65 455.5,98.90 456.5,99.17 457.5,99.45 458.5,99.73 459.5,100.03 460.5,100.34 461.5,100.66 462.5,101.00 463.5,101.34 464.5,101.69 465.5,102.06 466.5,102.43 467.5,102.82 468.5,103.22 469.5,103.63 470.5,104.06 471.5,104.49 472.5,104.94 473.5,105.40 474.5,105.88 475.5,106.36 476.5,106.86 477.5,107.37 478.5,107.89 479.5,108.43 480.5,108.98 481.5,109.54 482.5,110.12 483.5,110.71 484.5,111.31 485.5,111.93 486.5,112.56 487.5,113.20 488.5,113.86 489.5,114.53 490.5,115.22 491.5,115.92 492.5,116.64 493.5,117.37 494.5,118.11 495.5,118.87 496.5,119.65 497.5,120.44 498.5,121.24 499.5,122.06 500.5,122.90 501.5,123.75 502.5,124.62 503.5,125.50 504.5,126.40 505.5,127.32 506.5,128.25 507.5,129.19 508.5,130.16 509.5,131.14 510.5,132.13 511.5,133.14 512.5,134.17 513.5,135.22 514.5,136.28 515.5,137.37 516.5,138.46 517.5,139.58 518.5,140.71 519.5,141.86 520.5,143.03 521.5,144.22 522.5,145.42 523.5,146.64" fill="none" stroke="#ba6d92" stroke-width="1.15"/><path d="M66.5,219.29 67.5,222.27 68.5,224.32 69.5,225.62 70.5,226.32 71.5,226.58 72.5,226.56 73.5,226.33 74.5,225.89 75.5,225.24 76.5,224.39 77.5,223.35 78.5,222.11 79.5,220.68 80.5,219.06 81.5,217.30 82.5,215.54 83.5,213.94 84.5,212.61 85.5,211.49 86.5,210.36 87.5,209.03 88.5,207.45 89.5,205.65 90.5,203.67 91.5,201.55 92.5,199.33 93.5,197.05 94.5,194.74 95.5,192.45 96.5,190.20 97.5,188.05 98.5,186.03 99.5,184.12 100.5,182.31 101.5,180.54 102.5,178.80 103.5,177.04 104.5,175.24 105.5,173.35 106.5,171.37 107.5,169.33 108.5,167.27 109.5,165.22 110.5,163.19 111.5,161.18 112.5,159.20 113.5,157.25 114.5,155.32 115.5,153.42 116.5,151.54 117.5,149.69 118.5,147.87 119.5,146.08 120.5,144.31 121.5,142.57 122.5,140.86 123.5,139.18 124.5,137.52 125.5,135.89 126.5,134.30 127.5,132.73 128.5,131.19 129.5,129.68 130.5,128.20 131.5,126.75 132.5,125.32 133.5,123.93 134.5,122.56 135.5,121.22 136.5,119.91 137.5,118.63 138.5,117.37 139.5,116.14 140.5,114.94 141.5,113.76 142.5,112.61 143.5,111.48 144.5,110.38 145.5,109.31 146.5,108.26 147.5,107.23 148.5,106.23 149.5,105.25 150.5,104.29 151.5,103.36 152.5,102.45 153.5,101.57 154.5,100.70 155.5,99.86 156.5,99.04 157.5,98.25 158.5,97.47 159.5,96.71 160.5,95.98 161.5,95.26 162.5,94.57 163.5,93.90 164.5,93.24 165.5,92.61 166.5,91.99 167.5,91.39 168.5,90.81 169.5,90.25 170.5,89.71 171.5,89.18 172.5,88.68 173.5,88.19 174.5,87.71 175.5,87.25 176.5,86.81 177.5,86.39 178.5,85.98 179.5,85.58 180.5,85.20 181.5,84.84 182.5,84.49 183.5,84.15 184.5,83.83 185.5,83.52 186.5,83.23 187.5,82.95 188.5,82.68 189.5,82.42 190.5,82.18 191.5,81.94 192.5,81.72 193.5,81.51 194.5,81.32 195.5,81.13 196.5,80.95 197.5,80.79 198.5,80.63 199.5,80.48 200.5,80.35 201.5,80.22 202.5,80.10 203.5,79.99 204.5,79.88 205.5,79.79 206.5,79.70 207.5,79.62 208.5,79.55 209.5,79.49 210.5,79.43 211.5,79.37 212.5,79.33 213.5,79.29 214.5,79.25 215.5,79.23 216.5,79.20 217.5,79.19 218.5,79.18 219.5,79.17 220.5,79.17 221.5,79.17 222.5,79.18 223.5,79.20 224.5,79.21 225.5,79.24 226.5,79.26 227.5,79.30 228.5,79.33 229.5,79.37 230.5,79.42 231.5,79.47 232.5,79.52 233.5,79.57 234.5,79.63 235.5,79.69 236.5,79.76 237.5,79.83 238.5,79.90 239.5,79.97 240.5,80.05 241.5,80.13 242.5,80.21 243.5,80.29 244.5,80.38 245.5,80.47 246.5,80.56 247.5,80.65 248.5,80.74 249.5,80.84 250.5,80.93 251.5,81.03 252.5,81.13 253.5,81.23 254.5,81.33 255.5,81.43 256.5,81.53 257.5,81.63 258.5,81.74 259.5,81.84 260.5,81.94 261.5,82.05 262.5,82.15 263.5,82.25 264.5,82.35 265.5,82.45 266.5,82.56 267.5,82.66 268.5,82.75 269.5,82.85 270.5,82.95 271.5,83.05 272.5,83.14 273.5,83.23 274.5,83.32 275.5,83.41 276.5,83.50 277.5,83.59 278.5,83.67 279.5,83.75 280.5,83.83 281.5,83.90 282.5,83.98 283.5,84.05 284.5,84.12 285.5,84.18 286.5,84.24 287.5,84.30 288.5,84.35 289.5,84.40 290.5,84.45 291.5,84.49 292.5,84.53 293.5,84.57 294.5,84.60 295.5,84.62 296.5,84.65 297.5,84.66 298.5,84.68 299.5,84.68 300.5,84.69 301.5,84.69 302.5,84.68 303.5,84.67 304.5,84.66 305.5,84.64 306.5,84.62 307.5,84.59 308.5,84.56 309.5,84.53 310.5,84.49 311.5,84.45 312.5,84.40 313.5,84.35 314.5,84.30 315.5,84.24 316.5,84.19 317.5,84.12 318.5,84.06 319.5,83.99 320.5,83.92 321.5,83.85 322.5,83.77 323.5,83.69 324.5,83.61 325.5,83.53 326.5,83.44 327.5,83.35 328.5,83.26 329.5,83.16 330.5,83.07 331.5,82.97 332.5,82.87 333.5,82.77 334.5,82.67 335.5,82.56 336.5,82.46 337.5,82.35 338.5,82.24 339.5,82.13 340.5,82.02 341.5,81.90 342.5,81.79 343.5,81.67 344.5,81.56 345.5,81.44 346.5,81.32 347.5,81.21 348.5,81.09 349.5,80.97 350.5,80.85 351.5,80.73 352.5,80.61 353.5,80.48 354.5,80.36 355.5,80.24 356.5,80.12 357.5,80.00 358.5,79.88 359.5,79.76 360.5,79.64 361.5,79.52 362.5,79.40 363.5,79.28 364.5,79.17 365.5,79.05 366.5,78.93 367.5,78.82 368.5,78.71 369.5,78.59 370.5,78.48 371.5,78.37 372.5,78.26 373.5,78.15 374.5,78.05 375.5,77.95 376.5,77.84 377.5,77.74 378.5,77.64 379.5,77.55 380.5,77.45 381.5,77.36 382.5,77.27 383.5,77.18 384.5,77.10 385.5,77.01 386.5,76.93 387.5,76.85 388.5,76.78 389.5,76.71 390.5,76.64 391.5,76.57 392.5,76.50 393.5,76.44 394.5,76.39 395.5,76.33 396.5,76.28 397.5,76.23 398.5,76.19 399.5,76.15 400.5,76.11 401.5,76.08 402.5,76.05 403.5,76.03 404.5,76.01 405.5,75.99 406.5,75.98 407.5,75.97 408.5,75.97 409.5,75.97 410.5,75.97 411.5,75.98 412.5,76.00 413.5,76.01 414.5,76.04 415.5,76.07 416.5,76.10 417.5,76.14 418.5,76.19 419.5,76.24 420.5,76.29 421.5,76.35 422.5,76.42 423.5,76.49 424.5,76.57 425.5,76.66 426.5,76.75 427.5,76.85 428.5,76.96 429.5,77.07 430.5,77.19 431.5,77.31 432.5,77.44 433.5,77.58 434.5,77.73 435.5,77.89 436.5,78.05 437.5,78.22 438.5,78.40 439.5,78.58 440.5,78.78 441.5,78.98 442.5,79.19 443.5,79.41 444.5,79.64 445.5,79.87 446.5,80.12 447.5,80.37 448.5,80.64 449.5,80.91 450.5,81.19 451.5,81.48 452.5,81.78 453.5,82.09 454.5,82.41 455.5,82.74 456.5,83.08 457.5,83.43 458.5,83.79 459.5,84.17 460.5,84.55 461.5,84.94 462.5,85.34 463.5,85.76 464.5,86.18 465.5,86.62 466.5,87.07 467.5,87.53 468.5,88.00 469.5,88.48 470.5,88.98 471.5,89.48 472.5,90.00 473.5,90.53 474.5,91.08 475.5,91.63 476.5,92.20 477.5,92.78 478.5,93.37 479.5,93.98 480.5,94.60 481.5,95.23 482.5,95.88 483.5,96.54 484.5,97.21 485.5,97.90 486.5,98.59 487.5,99.30 488.5,100.03 489.5,100.76 490.5,101.51 491.5,102.27 492.5,103.04 493.5,103.82 494.5,104.62 495.5,105.42 496.5,106.24 497.5,107.07 498.5,107.91 499.5,108.76 500.5,109.62 501.5,110.50 502.5,111.38 503.5,112.27 504.5,113.18 505.5,114.09 506.5,115.01 507.5,115.95 508.5,116.89 509.5,117.84 510.5,118.81 511.5,119.78 512.5,120.76 513.5,121.75 514.5,122.75 515.5,123.76 516.5,124.77 517.5,125.80 518.5,126.83 519.5,127.87 520.5,128.92 521.5,129.98 522.5,131.05 523.5,132.12" fill="none" stroke="#d58418" stroke-width="1.15"/><path d="M66.5,222.46 67.5,222.66 68.5,222.54 69.5,222.14 70.5,221.50 71.5,220.65 72.5,219.61 73.5,218.42 74.5,217.12 75.5,215.72 76.5,214.27 77.5,212.80 78.5,211.33 79.5,209.84 80.5,208.27 81.5,206.61 82.5,204.87 83.5,203.05 84.5,201.17 85.5,199.21 86.5,197.20 87.5,195.13 88.5,193.02 89.5,190.86 90.5,188.66 91.5,186.42 92.5,184.16 93.5,181.88 94.5,179.59 95.5,177.29 96.5,175.00 97.5,172.72 98.5,170.46 99.5,168.22 100.5,166.03 101.5,163.87 102.5,161.76 103.5,159.70 104.5,157.68 105.5,155.70 106.5,153.77 107.5,151.87 108.5,150.00 109.5,148.17 110.5,146.38 111.5,144.61 112.5,142.87 113.5,141.15 114.5,139.46 115.5,137.79 116.5,136.14 117.5,134.51 118.5,132.89 119.5,131.29 120.5,129.70 121.5,128.12 122.5,126.54 123.5,124.97 124.5,123.41 125.5,121.85 126.5,120.30 127.5,118.76 128.5,117.23 129.5,115.71 130.5,114.20 131.5,112.72 132.5,111.25 133.5,109.80 134.5,108.37 135.5,106.97 136.5,105.59 137.5,104.25 138.5,102.93 139.5,101.64 140.5,100.38 141.5,99.15 142.5,97.95 143.5,96.78 144.5,95.63 145.5,94.52 146.5,93.43 147.5,92.37 148.5,91.33 149.5,90.32 150.5,89.34 151.5,88.37 152.5,87.44 153.5,86.53 154.5,85.64 155.5,84.77 156.5,83.92 157.5,83.10 158.5,82.29 159.5,81.51 160.5,80.75 161.5,80.00 162.5,79.28 163.5,78.57 164.5,77.89 165.5,77.22 166.5,76.56 167.5,75.93 168.5,75.31 169.5,74.71 170.5,74.12 171.5,73.56 172.5,73.00 173.5,72.46 174.5,71.94 175.5,71.43 176.5,70.94 177.5,70.46 178.5,69.99 179.5,69.54 180.5,69.10 181.5,68.67 182.5,68.25 183.5,67.85 184.5,67.46 185.5,67.08 186.5,66.71 187.5,66.35 188.5,66.00 189.5,65.66 190.5,65.33 191.5,65.01 192.5,64.69 193.5,64.39 194.5,64.09 195.5,63.81 196.5,63.52 197.5,63.25 198.5,62.99 199.5,62.73 200.5,62.48 201.5,62.24 202.5,62.00 203.5,61.77 204.5,61.55 205.5,61.33 206.5,61.13 207.5,60.92 208.5,60.73 209.5,60.54 210.5,60.36 211.5,60.19 212.5,60.02 213.5,59.86 214.5,59.70 215.5,59.55 216.5,59.41 217.5,59.27 218.5,59.14 219.5,59.01 220.5,58.89 221.5,58.77 222.5,58.66 223.5,58.56 224.5,58.46 225.5,58.37 226.5,58.28 227.5,58.20 228.5,58.12 229.5,58.04 230.5,57.98 231.5,57.91 232.5,57.85 233.5,57.80 234.5,57.75 235.5,57.70 236.5,57.66 237.5,57.63 238.5,57.59 239.5,57.56 240.5,57.54 241.5,57.52 242.5,57.50 243.5,57.49 244.5,57.48 245.5,57.47 246.5,57.47 247.5,57.47 248.5,57.48 249.5,57.48 250.5,57.50 251.5,57.51 252.5,57.53 253.5,57.55 254.5,57.57 255.5,57.60 256.5,57.62 257.5,57.65 258.5,57.69 259.5,57.72 260.5,57.76 261.5,57.80 262.5,57.84 263.5,57.89 264.5,57.93 265.5,57.98 266.5,58.03 267.5,58.08 268.5,58.14 269.5,58.19 270.5,58.25 271.5,58.31 272.5,58.37 273.5,58.43 274.5,58.49 275.5,58.55 276.5,58.62 277.5,58.68 278.5,58.75 279.5,58.81 280.5,58.88 281.5,58.95 282.5,59.02 283.5,59.08 284.5,59.15 285.5,59.22 286.5,59.29 287.5,59.36 288.5,59.43 289.5,59.50 290.5,59.57 291.5,59.64 292.5,59.70 293.5,59.77 294.5,59.84 295.5,59.91 296.5,59.97 297.5,60.04 298.5,60.10 299.5,60.16 300.5,60.23 301.5,60.29 302.5,60.35 303.5,60.41 304.5,60.46 305.5,60.52 306.5,60.57 307.5,60.63 308.5,60.68 309.5,60.73 310.5,60.77 311.5,60.82 312.5,60.86 313.5,60.90 314.5,60.94 315.5,60.98 316.5,61.01 317.5,61.05 318.5,61.08 319.5,61.10 320.5,61.13 321.5,61.15 322.5,61.17 323.5,61.18 324.5,61.20 325.5,61.21 326.5,61.22 327.5,61.23 328.5,61.23 329.5,61.24 330.5,61.24 331.5,61.24 332.5,61.24 333.5,61.24 334.5,61.23 335.5,61.23 336.5,61.22 337.5,61.21 338.5,61.20 339.5,61.19 340.5,61.18 341.5,61.17 342.5,61.16 343.5,61.14 344.5,61.13 345.5,61.12 346.5,61.10 347.5,61.08 348.5,61.07 349.5,61.05 350.5,61.04 351.5,61.02 352.5,61.00 353.5,60.99 354.5,60.97 355.5,60.95 356.5,60.94 357.5,60.92 358.5,60.91 359.5,60.89 360.5,60.88 361.5,60.87 362.5,60.85 363.5,60.84 364.5,60.83 365.5,60.82 366.5,60.81 367.5,60.81 368.5,60.80 369.5,60.80 370.5,60.79 371.5,60.79 372.5,60.79 373.5,60.80 374.5,60.80 375.5,60.81 376.5,60.81 377.5,60.82 378.5,60.84 379.5,60.85 380.5,60.87 381.5,60.89 382.5,60.91 383.5,60.93 384.5,60.96 385.5,60.99 386.5,61.02 387.5,61.05 388.5,61.09 389.5,61.13 390.5,61.18 391.5,61.22 392.5,61.27 393.5,61.33 394.5,61.38 395.5,61.44 396.5,61.51 397.5,61.58 398.5,61.65 399.5,61.72 400.5,61.80 401.5,61.89 402.5,61.98 403.5,62.07 404.5,62.16 405.5,62.26 406.5,62.37 407.5,62.48 408.5,62.59 409.5,62.71 410.5,62.83 411.5,62.96 412.5,63.10 413.5,63.23 414.5,63.38 415.5,63.53 416.5,63.68 417.5,63.84 418.5,64.00 419.5,64.17 420.5,64.35 421.5,64.53 422.5,64.71 423.5,64.91 424.5,65.11 425.5,65.31 426.5,65.52 427.5,65.74 428.5,65.96 429.5,66.19 430.5,66.43 431.5,66.67 432.5,66.92 433.5,67.17 434.5,67.43 435.5,67.70 436.5,67.98 437.5,68.26 438.5,68.55 439.5,68.85 440.5,69.15 441.5,69.46 442.5,69.78 443.5,70.10 444.5,70.44 445.5,70.78 446.5,71.12 447.5,71.48 448.5,71.84 449.5,72.21 450.5,72.59 451.5,72.97 452.5,73.36 453.5,73.76 454.5,74.17 455.5,74.59 456.5,75.01 457.5,75.44 458.5,75.88 459.5,76.33 460.5,76.79 461.5,77.25 462.5,77.72 463.5,78.20 464.5,78.69 465.5,79.19 466.5,79.69 467.5,80.21 468.5,80.73 469.5,81.26 470.5,81.80 471.5,82.35 472.5,82.90 473.5,83.47 474.5,84.04 475.5,84.63 476.5,85.22 477.5,85.82 478.5,86.43 479.5,87.05 480.5,87.68 481.5,88.31 482.5,88.96 483.5,89.62 484.5,90.28 485.5,90.96 486.5,91.64 487.5,92.33 488.5,93.04 489.5,93.75 490.5,94.47 491.5,95.20 492.5,95.94 493.5,96.69 494.5,97.45 495.5,98.22 496.5,99.01 497.5,99.80 498.5,100.60 499.5,101.41 500.5,102.23 501.5,103.06 502.5,103.90 503.5,104.75 504.5,105.61 505.5,106.49 506.5,107.37 507.5,108.26 508.5,109.17 509.5,110.08 510.5,111.00 511.5,111.94 512.5,112.89 513.5,113.84 514.5,114.81 515.5,115.79 516.5,116.78 517.5,117.78 518.5,118.79 519.5,119.81 520.5,120.85 521.5,121.89 522.5,122.95 523.5,124.02" fill="none" stroke="#56af3c" stroke-width="1.15"/>
<g stroke="#a2a6a9" stroke-width="1.15">
<rect x="64.5" y="34.5" width="464" height="256" fill="none"/>
<line x1="58" y1="288.8" x2="64" y2="288.8"/><line x1="58" y1="253.1" x2="64" y2="253.1"/><line x1="58" y1="217.5" x2="64" y2="217.5"/><line x1="58" y1="181.8" x2="64" y2="181.8"/><line x1="58" y1="146.1" x2="64" y2="146.1"/><line x1="58" y1="110.4" x2="64" y2="110.4"/><line x1="58" y1="74.8" x2="64" y2="74.8"/><line x1="58" y1="39.1" x2="64" y2="39.1"/><line x1="66.6" y1="291" x2="66.6" y2="297"/><line x1="113.5" y1="291" x2="113.5" y2="297"/><line x1="172.1" y1="291" x2="172.1" y2="297"/><line x1="230.7" y1="291" x2="230.7" y2="297"/><line x1="289.3" y1="291" x2="289.3" y2="297"/><line x1="348.0" y1="291" x2="348.0" y2="297"/><line x1="406.6" y1="291" x2="406.6" y2="297"/><line x1="465.2" y1="291" x2="465.2" y2="297"/><line x1="523.8" y1="291" x2="523.8" y2="297"/>
</g>
<text x="54.5" y="293.1" text-anchor="end" class="tk">10</text><text x="54.5" y="257.4" text-anchor="end" class="tk">15</text><text x="54.5" y="221.8" text-anchor="end" class="tk">20</text><text x="54.5" y="186.1" text-anchor="end" class="tk">25</text><text x="54.5" y="150.4" text-anchor="end" class="tk">30</text><text x="54.5" y="114.7" text-anchor="end" class="tk">35</text><text x="54.5" y="79.1" text-anchor="end" class="tk">40</text><text x="54.5" y="43.4" text-anchor="end" class="tk">45</text><text x="66.6" y="312.4" text-anchor="middle" font-size="13.4px" textLength="7.01" lengthAdjust="spacingAndGlyphs">2</text><text x="113.5" y="312.4" text-anchor="middle" font-size="13.4px" textLength="14.02" lengthAdjust="spacingAndGlyphs">10</text><text x="172.1" y="312.4" text-anchor="middle" font-size="13.4px" textLength="14.02" lengthAdjust="spacingAndGlyphs">20</text><text x="230.7" y="312.4" text-anchor="middle" font-size="13.4px" textLength="14.02" lengthAdjust="spacingAndGlyphs">30</text><text x="289.3" y="312.4" text-anchor="middle" font-size="13.4px" textLength="14.02" lengthAdjust="spacingAndGlyphs">40</text><text x="348.0" y="312.4" text-anchor="middle" font-size="13.4px" textLength="14.02" lengthAdjust="spacingAndGlyphs">50</text><text x="406.6" y="312.4" text-anchor="middle" font-size="13.4px" textLength="14.02" lengthAdjust="spacingAndGlyphs">60</text><text x="465.2" y="312.4" text-anchor="middle" font-size="13.4px" textLength="14.02" lengthAdjust="spacingAndGlyphs">70</text><text x="523.8" y="312.4" text-anchor="middle" font-size="13.4px" textLength="14.02" lengthAdjust="spacingAndGlyphs">80</text>
<text x="296.5" y="335.7" text-anchor="middle" font-size="13.6px" textLength="72" lengthAdjust="spacingAndGlyphs">Age (Years)</text>
<text transform="translate(22.1,162.4) rotate(-90)" text-anchor="middle" font-size="13.7px" textLength="86" lengthAdjust="spacingAndGlyphs">BMI (kg/m**2)</text>
<rect x="84.5" y="348.5" width="424" height="46" rx="1" fill="none" stroke="#cfd2d3" stroke-width="1.1"/>
<text x="295.5" y="361.3" text-anchor="middle" font-size="13.2px" textLength="84.6" lengthAdjust="spacingAndGlyphs">Quantile Level</text>
<line x1="89" y1="372.5" x2="137" y2="372.5" stroke="#4a72ae" stroke-width="1.3"/><text x="142" y="376.8" class="lt">0.03</text><line x1="175" y1="372.5" x2="223" y2="372.5" stroke="#9e5541" stroke-width="1.3"/><text x="228" y="376.8" class="lt">0.05</text><line x1="261" y1="372.5" x2="309" y2="372.5" stroke="#247870" stroke-width="1.3"/><text x="314" y="376.8" class="lt">0.1</text><line x1="340" y1="372.5" x2="388" y2="372.5" stroke="#6a4b22" stroke-width="1.3"/><text x="393" y="376.8" class="lt">0.25</text><line x1="426" y1="372.5" x2="474" y2="372.5" stroke="#a454d4" stroke-width="1.3"/><text x="479" y="376.8" class="lt">0.5</text><line x1="89" y1="387.5" x2="137" y2="387.5" stroke="#9caa50" stroke-width="1.3"/><text x="142" y="391.8" class="lt">0.75</text><line x1="175" y1="387.5" x2="223" y2="387.5" stroke="#58acf4" stroke-width="1.3"/><text x="228" y="391.8" class="lt">0.85</text><line x1="261" y1="387.5" x2="309" y2="387.5" stroke="#c886ac" stroke-width="1.3"/><text x="314" y="391.8" class="lt">0.9</text><line x1="340" y1="387.5" x2="388" y2="387.5" stroke="#dc9a44" stroke-width="1.3"/><text x="393" y="391.8" class="lt">0.95</text><line x1="426" y1="387.5" x2="474" y2="387.5" stroke="#72bc5c" stroke-width="1.3"/><text x="479" y="391.8" class="lt">0.97</text>
</svg>
</body></html>
